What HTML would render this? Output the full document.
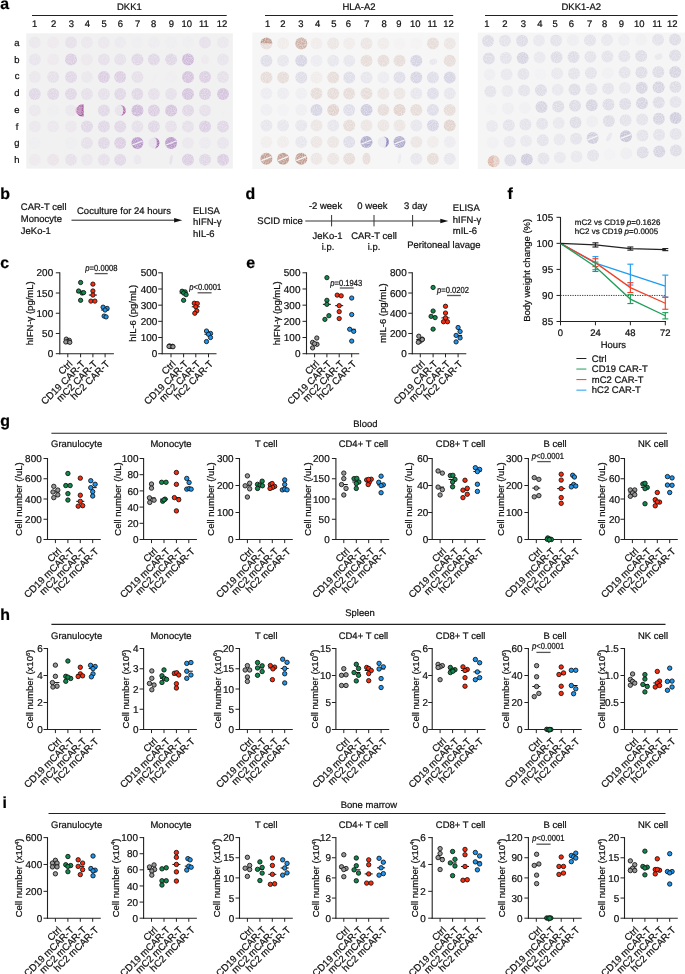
<!DOCTYPE html>
<html><head><meta charset="utf-8"><style>
html,body{margin:0;padding:0;background:#fff;}
body{width:685px;height:974px;overflow:hidden;}
svg{display:block;font-family:"Liberation Sans",sans-serif;will-change:transform;}
text{stroke:#111;stroke-width:0.22px;}
</style></head><body>
<svg width="685" height="974" viewBox="0 0 685 974">
<defs><filter id="tex" x="0" y="0" width="100%" height="100%"><feTurbulence type="fractalNoise" baseFrequency="0.9" numOctaves="2" seed="3" result="n"/><feColorMatrix in="n" type="matrix" values="0 0 0 0 0  0 0 0 0 0  0 0 0 0 0  0 0 0 -1.2 1.4" result="a"/><feComposite in="SourceGraphic" in2="a" operator="in"/></filter></defs>
<rect width="685" height="974" fill="#fff"/>
<text transform="translate(0.30,8.80) skewX(0.5)" font-size="16" text-anchor="start" font-weight="bold" fill="#000" >a</text>
<text transform="translate(129.40,10.20) skewX(0.5)" font-size="9.5" text-anchor="middle" fill="#111" >DKK1</text>
<line x1="32.00" y1="15.50" x2="226.70" y2="15.50" stroke="#222" stroke-width="1.0" />
<text transform="translate(34.70,27.40) skewX(0.5)" font-size="9.5" text-anchor="middle" fill="#111" >1</text>
<text transform="translate(53.60,27.40) skewX(0.5)" font-size="9.5" text-anchor="middle" fill="#111" >2</text>
<text transform="translate(71.50,27.40) skewX(0.5)" font-size="9.5" text-anchor="middle" fill="#111" >3</text>
<text transform="translate(87.30,27.40) skewX(0.5)" font-size="9.5" text-anchor="middle" fill="#111" >4</text>
<text transform="translate(104.20,27.40) skewX(0.5)" font-size="9.5" text-anchor="middle" fill="#111" >5</text>
<text transform="translate(120.30,27.40) skewX(0.5)" font-size="9.5" text-anchor="middle" fill="#111" >6</text>
<text transform="translate(137.70,27.40) skewX(0.5)" font-size="9.5" text-anchor="middle" fill="#111" >7</text>
<text transform="translate(153.60,27.40) skewX(0.5)" font-size="9.5" text-anchor="middle" fill="#111" >8</text>
<text transform="translate(171.50,27.40) skewX(0.5)" font-size="9.5" text-anchor="middle" fill="#111" >9</text>
<text transform="translate(186.80,27.40) skewX(0.5)" font-size="9.5" text-anchor="middle" fill="#111" >10</text>
<text transform="translate(203.90,27.40) skewX(0.5)" font-size="9.5" text-anchor="middle" fill="#111" >11</text>
<text transform="translate(222.10,27.40) skewX(0.5)" font-size="9.5" text-anchor="middle" fill="#111" >12</text>
<rect x="26.3" y="33.3" width="206.5" height="135.3" fill="#f1f1f2"/>
<g filter="url(#tex)">
<circle cx="34.8" cy="42.4" r="6.0" fill="#a070b8" fill-opacity="0.08"/>
<circle cx="53.2" cy="42.4" r="6.0" fill="#c890b0" fill-opacity="0.08"/>
<circle cx="71.0" cy="42.4" r="6.0" fill="#a070b8" fill-opacity="0.14"/>
<circle cx="86.9" cy="42.4" r="6.0" fill="#a070b8" fill-opacity="0.08"/>
<circle cx="103.9" cy="42.4" r="6.0" fill="#a070b8" fill-opacity="0.08"/>
<circle cx="120.2" cy="42.4" r="6.0" fill="#a070b8" fill-opacity="0.06"/>
<circle cx="137.4" cy="42.4" r="6.0" fill="#a070b8" fill-opacity="0.02"/>
<circle cx="153.9" cy="42.4" r="6.0" fill="#a070b8" fill-opacity="0.04"/>
<circle cx="171.1" cy="42.4" r="6.0" fill="#a070b8" fill-opacity="0.03"/>
<circle cx="188.0" cy="42.4" r="6.0" fill="#a070b8" fill-opacity="0.03"/>
<circle cx="205.0" cy="42.4" r="6.0" fill="#a070b8" fill-opacity="0.14"/>
<circle cx="223.0" cy="42.4" r="6.0" fill="#a070b8" fill-opacity="0.08"/>
<circle cx="34.8" cy="59.6" r="6.0" fill="#a070b8" fill-opacity="0.10"/>
<circle cx="53.2" cy="59.6" r="6.0" fill="#c890b0" fill-opacity="0.08"/>
<circle cx="71.0" cy="59.6" r="6.0" fill="#a070b8" fill-opacity="0.28"/>
<circle cx="86.9" cy="59.6" r="6.0" fill="#c890b0" fill-opacity="0.10"/>
<circle cx="103.9" cy="59.6" r="6.0" fill="#a070b8" fill-opacity="0.14"/>
<circle cx="120.2" cy="59.6" r="6.0" fill="#a070b8" fill-opacity="0.14"/>
<circle cx="137.4" cy="59.6" r="6.0" fill="#a070b8" fill-opacity="0.21"/>
<circle cx="153.9" cy="59.6" r="6.0" fill="#a070b8" fill-opacity="0.21"/>
<circle cx="171.1" cy="59.6" r="6.0" fill="#a070b8" fill-opacity="0.21"/>
<circle cx="188.0" cy="59.6" r="6.0" fill="#a070b8" fill-opacity="0.44"/>
<ellipse cx="205.0" cy="59.6" rx="4" ry="5" fill="#c890b0" fill-opacity="0.08" transform="rotate(0 205.0 59.6)"/>
<circle cx="223.0" cy="59.6" r="6.0" fill="#a070b8" fill-opacity="0.10"/>
<circle cx="34.8" cy="77.0" r="6.0" fill="#a070b8" fill-opacity="0.08"/>
<circle cx="53.2" cy="77.0" r="6.0" fill="#a070b8" fill-opacity="0.14"/>
<circle cx="71.0" cy="77.0" r="6.0" fill="#a070b8" fill-opacity="0.21"/>
<circle cx="86.9" cy="77.0" r="6.0" fill="#a070b8" fill-opacity="0.08"/>
<circle cx="103.9" cy="77.0" r="6.0" fill="#a070b8" fill-opacity="0.28"/>
<circle cx="120.2" cy="77.0" r="6.0" fill="#a070b8" fill-opacity="0.28"/>
<circle cx="137.4" cy="77.0" r="6.0" fill="#a070b8" fill-opacity="0.14"/>
<ellipse cx="154.9" cy="78.0" rx="1" ry="4" fill="#a070b8" fill-opacity="0.02" transform="rotate(30 153.9 77.0)"/>
<circle cx="171.1" cy="77.0" r="6.0" fill="#a070b8" fill-opacity="0.01"/>
<circle cx="188.0" cy="77.0" r="6.0" fill="#a070b8" fill-opacity="0.36"/>
<circle cx="205.0" cy="77.0" r="6.0" fill="#a070b8" fill-opacity="0.28"/>
<circle cx="223.0" cy="77.0" r="6.0" fill="#a070b8" fill-opacity="0.14"/>
<circle cx="34.8" cy="94.0" r="6.0" fill="#a070b8" fill-opacity="0.21"/>
<circle cx="53.2" cy="94.0" r="6.0" fill="#a070b8" fill-opacity="0.21"/>
<circle cx="71.0" cy="94.0" r="6.0" fill="#a070b8" fill-opacity="0.21"/>
<circle cx="86.9" cy="94.0" r="6.0" fill="#a070b8" fill-opacity="0.14"/>
<circle cx="103.9" cy="94.0" r="6.0" fill="#a070b8" fill-opacity="0.14"/>
<circle cx="120.2" cy="94.0" r="6.0" fill="#a070b8" fill-opacity="0.21"/>
<circle cx="137.4" cy="94.0" r="6.0" fill="#a070b8" fill-opacity="0.21"/>
<circle cx="153.9" cy="94.0" r="6.0" fill="#a070b8" fill-opacity="0.14"/>
<circle cx="171.1" cy="94.0" r="6.0" fill="#a070b8" fill-opacity="0.14"/>
<circle cx="188.0" cy="94.0" r="6.0" fill="#a070b8" fill-opacity="0.36"/>
<circle cx="205.0" cy="94.0" r="6.0" fill="#a070b8" fill-opacity="0.28"/>
<circle cx="223.0" cy="94.0" r="6.0" fill="#a070b8" fill-opacity="0.36"/>
<circle cx="34.8" cy="110.4" r="6.0" fill="#a070b8" fill-opacity="0.08"/>
<circle cx="53.2" cy="110.4" r="6.0" fill="#a070b8" fill-opacity="0.03"/>
<circle cx="71.0" cy="110.4" r="6.0" fill="#a070b8" fill-opacity="0.08"/>
<path d="M83.7,104.6 A6,6 0 1 0 83.7,116.2 Z" fill="#9a4a90" fill-opacity="0.9"/>
<path d="M81.7,106.2 A4.6,4.6 0 1 0 81.7,114.6 Z" fill="#d8a8d0" fill-opacity="0.45"/>
<circle cx="103.9" cy="110.4" r="6.0" fill="#a070b8" fill-opacity="0.21"/>
<circle cx="120.2" cy="110.4" r="5.6" fill="#a070b8" fill-opacity="0.12"/>
<path d="M120.2,104.8 A5.6,5.6 0 0 1 120.2,116.0 A3,5.6 0 0 0 120.2,104.8 Z" fill="#a65aa0" fill-opacity="0.85"/>
<circle cx="137.4" cy="110.4" r="6.0" fill="#a070b8" fill-opacity="0.44"/>
<circle cx="153.9" cy="110.4" r="6.0" fill="#a070b8" fill-opacity="0.28"/>
<circle cx="171.1" cy="110.4" r="6.0" fill="#a070b8" fill-opacity="0.36"/>
<circle cx="188.0" cy="110.4" r="6.0" fill="#a070b8" fill-opacity="0.21"/>
<circle cx="205.0" cy="110.4" r="6.0" fill="#a070b8" fill-opacity="0.14"/>
<ellipse cx="225.0" cy="112.4" rx="1" ry="3" fill="#a070b8" fill-opacity="0.02" transform="rotate(40 223.0 110.4)"/>
<circle cx="34.8" cy="126.4" r="6.0" fill="#a070b8" fill-opacity="0.08"/>
<circle cx="53.2" cy="126.4" r="6.0" fill="#a070b8" fill-opacity="0.08"/>
<circle cx="71.0" cy="126.4" r="6.0" fill="#a070b8" fill-opacity="0.08"/>
<circle cx="86.9" cy="126.4" r="6.0" fill="#a070b8" fill-opacity="0.21"/>
<circle cx="103.9" cy="126.4" r="6.0" fill="#a070b8" fill-opacity="0.21"/>
<circle cx="120.2" cy="126.4" r="6.0" fill="#a070b8" fill-opacity="0.21"/>
<circle cx="137.4" cy="126.4" r="6.0" fill="#a070b8" fill-opacity="0.14"/>
<circle cx="153.9" cy="126.4" r="6.0" fill="#a070b8" fill-opacity="0.21"/>
<circle cx="171.1" cy="126.4" r="6.0" fill="#a070b8" fill-opacity="0.14"/>
<circle cx="188.0" cy="126.4" r="6.0" fill="#a070b8" fill-opacity="0.14"/>
<circle cx="205.0" cy="126.4" r="6.0" fill="#a070b8" fill-opacity="0.28"/>
<circle cx="223.0" cy="126.4" r="6.0" fill="#a070b8" fill-opacity="0.21"/>
<circle cx="34.8" cy="143.0" r="6.0" fill="#a070b8" fill-opacity="0.03"/>
<circle cx="71.0" cy="143.0" r="6.0" fill="#a070b8" fill-opacity="0.03"/>
<circle cx="86.9" cy="143.0" r="6.0" fill="#a070b8" fill-opacity="0.14"/>
<circle cx="103.9" cy="143.0" r="6.0" fill="#a070b8" fill-opacity="0.21"/>
<circle cx="120.2" cy="143.0" r="6.0" fill="#a070b8" fill-opacity="0.28"/>
<circle cx="137.4" cy="143.0" r="6.0" fill="#a070b8" fill-opacity="0.72"/>
<line x1="132.4" y1="145.0" x2="142.4" y2="141.0" stroke="#f1f1f2" stroke-width="1.3"/>
<circle cx="153.9" cy="143.0" r="5.6" fill="#a070b8" fill-opacity="0.12"/>
<path d="M153.9,137.4 A5.6,5.6 0 0 1 153.9,148.6 A3,5.6 0 0 0 153.9,137.4 Z" fill="#9a50a8" fill-opacity="0.85"/>
<circle cx="171.1" cy="143.0" r="6.0" fill="#a070b8" fill-opacity="0.72"/>
<line x1="166.1" y1="145.0" x2="176.1" y2="141.0" stroke="#f1f1f2" stroke-width="1.3"/>
<circle cx="188.0" cy="143.0" r="6.0" fill="#a070b8" fill-opacity="0.08"/>
<circle cx="205.0" cy="143.0" r="6.0" fill="#a070b8" fill-opacity="0.06"/>
<circle cx="223.0" cy="143.0" r="6.0" fill="#a070b8" fill-opacity="0.10"/>
<circle cx="34.8" cy="159.8" r="6.0" fill="#c890b0" fill-opacity="0.08"/>
<circle cx="53.2" cy="159.8" r="6.0" fill="#c890b0" fill-opacity="0.14"/>
<circle cx="71.0" cy="159.8" r="6.0" fill="#a070b8" fill-opacity="0.14"/>
<circle cx="86.9" cy="159.8" r="6.0" fill="#a070b8" fill-opacity="0.08"/>
<circle cx="103.9" cy="159.8" r="6.0" fill="#a070b8" fill-opacity="0.14"/>
<circle cx="120.2" cy="159.8" r="6.0" fill="#a070b8" fill-opacity="0.21"/>
<ellipse cx="137.4" cy="159.8" rx="4" ry="5" fill="#a070b8" fill-opacity="0.08" transform="rotate(0 137.4 159.8)"/>
<ellipse cx="171.1" cy="159.8" rx="1.5" ry="5" fill="#a070b8" fill-opacity="0.14" transform="rotate(10 171.1 159.8)"/>
<circle cx="188.0" cy="159.8" r="6.0" fill="#a070b8" fill-opacity="0.28"/>
<circle cx="205.0" cy="159.8" r="6.0" fill="#a070b8" fill-opacity="0.21"/>
<circle cx="223.0" cy="159.8" r="6.0" fill="#a070b8" fill-opacity="0.28"/>
</g>
<text transform="translate(17.00,46.00) skewX(0.5)" font-size="9.5" text-anchor="middle" fill="#111" >a</text>
<text transform="translate(17.00,62.70) skewX(0.5)" font-size="9.5" text-anchor="middle" fill="#111" >b</text>
<text transform="translate(17.00,79.40) skewX(0.5)" font-size="9.5" text-anchor="middle" fill="#111" >c</text>
<text transform="translate(17.00,96.10) skewX(0.5)" font-size="9.5" text-anchor="middle" fill="#111" >d</text>
<text transform="translate(17.00,112.80) skewX(0.5)" font-size="9.5" text-anchor="middle" fill="#111" >e</text>
<text transform="translate(17.00,129.50) skewX(0.5)" font-size="9.5" text-anchor="middle" fill="#111" >f</text>
<text transform="translate(17.00,146.20) skewX(0.5)" font-size="9.5" text-anchor="middle" fill="#111" >g</text>
<text transform="translate(17.00,162.90) skewX(0.5)" font-size="9.5" text-anchor="middle" fill="#111" >h</text>
<text transform="translate(359.00,10.20) skewX(0.5)" font-size="9.5" text-anchor="middle" fill="#111" >HLA-A2</text>
<line x1="265.00" y1="15.50" x2="453.20" y2="15.50" stroke="#222" stroke-width="1.0" />
<text transform="translate(267.70,27.40) skewX(0.5)" font-size="9.5" text-anchor="middle" fill="#111" >1</text>
<text transform="translate(283.00,27.40) skewX(0.5)" font-size="9.5" text-anchor="middle" fill="#111" >2</text>
<text transform="translate(300.90,27.40) skewX(0.5)" font-size="9.5" text-anchor="middle" fill="#111" >3</text>
<text transform="translate(317.60,27.40) skewX(0.5)" font-size="9.5" text-anchor="middle" fill="#111" >4</text>
<text transform="translate(333.90,27.40) skewX(0.5)" font-size="9.5" text-anchor="middle" fill="#111" >5</text>
<text transform="translate(348.50,27.40) skewX(0.5)" font-size="9.5" text-anchor="middle" fill="#111" >6</text>
<text transform="translate(366.90,27.40) skewX(0.5)" font-size="9.5" text-anchor="middle" fill="#111" >7</text>
<text transform="translate(384.10,27.40) skewX(0.5)" font-size="9.5" text-anchor="middle" fill="#111" >8</text>
<text transform="translate(398.90,27.40) skewX(0.5)" font-size="9.5" text-anchor="middle" fill="#111" >9</text>
<text transform="translate(415.30,27.40) skewX(0.5)" font-size="9.5" text-anchor="middle" fill="#111" >10</text>
<text transform="translate(432.40,27.40) skewX(0.5)" font-size="9.5" text-anchor="middle" fill="#111" >11</text>
<text transform="translate(448.50,27.40) skewX(0.5)" font-size="9.5" text-anchor="middle" fill="#111" >12</text>
<rect x="252.4" y="32.6" width="206.6" height="136.4" fill="#f6f6f6"/>
<g filter="url(#tex)">
<path d="M260.4,43.6 A6.0,6.0 0 0 1 272.4,43.6 Z" fill="#b08070" fill-opacity="0.78"/>
<path d="M260.4,43.6 A6.0,6.0 0 0 0 272.4,43.6 Z" fill="#b08070" fill-opacity="0.23"/>
<circle cx="283.1" cy="43.6" r="6.0" fill="#b08070" fill-opacity="0.09"/>
<circle cx="301.3" cy="43.6" r="6.0" fill="#b08070" fill-opacity="0.58"/>
<circle cx="316.5" cy="43.6" r="6.0" fill="#b08070" fill-opacity="0.09"/>
<circle cx="333.2" cy="43.6" r="6.0" fill="#b08070" fill-opacity="0.15"/>
<circle cx="349.2" cy="43.6" r="6.0" fill="#b08070" fill-opacity="0.09"/>
<circle cx="366.5" cy="43.6" r="6.0" fill="#b08070" fill-opacity="0.15"/>
<circle cx="383.4" cy="43.6" r="6.0" fill="#b08070" fill-opacity="0.09"/>
<circle cx="399.5" cy="43.6" r="6.0" fill="#b08070" fill-opacity="0.03"/>
<circle cx="416.3" cy="43.6" r="6.0" fill="#b08070" fill-opacity="0.03"/>
<circle cx="432.9" cy="43.6" r="6.0" fill="#b08070" fill-opacity="0.23"/>
<circle cx="449.7" cy="43.6" r="6.0" fill="#b08070" fill-opacity="0.15"/>
<circle cx="266.4" cy="60.8" r="6.0" fill="#8a84b8" fill-opacity="0.23"/>
<circle cx="283.1" cy="60.8" r="6.0" fill="#8a84b8" fill-opacity="0.15"/>
<circle cx="301.3" cy="60.8" r="6.0" fill="#8a84b8" fill-opacity="0.31"/>
<circle cx="316.5" cy="60.8" r="6.0" fill="#8a84b8" fill-opacity="0.09"/>
<circle cx="333.2" cy="60.8" r="6.0" fill="#8a84b8" fill-opacity="0.15"/>
<circle cx="349.2" cy="60.8" r="6.0" fill="#8a84b8" fill-opacity="0.15"/>
<circle cx="366.5" cy="60.8" r="6.0" fill="#b08070" fill-opacity="0.23"/>
<circle cx="383.4" cy="60.8" r="6.0" fill="#b08070" fill-opacity="0.23"/>
<circle cx="399.5" cy="60.8" r="6.0" fill="#b08070" fill-opacity="0.23"/>
<circle cx="416.3" cy="60.8" r="6.0" fill="#8a84b8" fill-opacity="0.31"/>
<ellipse cx="432.9" cy="61.8" rx="4" ry="3" fill="#8a84b8" fill-opacity="0.15" transform="rotate(-20 432.9 60.8)"/>
<circle cx="449.7" cy="60.8" r="6.0" fill="#b08070" fill-opacity="0.23"/>
<circle cx="266.4" cy="77.5" r="6.0" fill="#b08070" fill-opacity="0.23"/>
<circle cx="283.1" cy="77.5" r="6.0" fill="#b08070" fill-opacity="0.23"/>
<circle cx="301.3" cy="77.5" r="6.0" fill="#8a84b8" fill-opacity="0.23"/>
<circle cx="316.5" cy="77.5" r="6.0" fill="#b08070" fill-opacity="0.09"/>
<circle cx="333.2" cy="77.5" r="6.0" fill="#b08070" fill-opacity="0.23"/>
<circle cx="349.2" cy="77.5" r="6.0" fill="#8a84b8" fill-opacity="0.23"/>
<circle cx="366.5" cy="77.5" r="6.0" fill="#8a84b8" fill-opacity="0.15"/>
<circle cx="383.4" cy="77.5" r="6.0" fill="#8a84b8" fill-opacity="0.09"/>
<circle cx="399.5" cy="77.5" r="6.0" fill="#8a84b8" fill-opacity="0.23"/>
<circle cx="416.3" cy="77.5" r="6.0" fill="#8a84b8" fill-opacity="0.31"/>
<circle cx="432.9" cy="77.5" r="6.0" fill="#8a84b8" fill-opacity="0.23"/>
<circle cx="449.7" cy="77.5" r="6.0" fill="#8a84b8" fill-opacity="0.31"/>
<circle cx="266.4" cy="93.4" r="6.0" fill="#8a84b8" fill-opacity="0.09"/>
<circle cx="283.1" cy="93.4" r="6.0" fill="#8a84b8" fill-opacity="0.09"/>
<circle cx="301.3" cy="93.4" r="6.0" fill="#8a84b8" fill-opacity="0.07"/>
<circle cx="316.5" cy="93.4" r="6.0" fill="#b08070" fill-opacity="0.23"/>
<circle cx="333.2" cy="93.4" r="6.0" fill="#b08070" fill-opacity="0.23"/>
<circle cx="349.2" cy="93.4" r="6.0" fill="#b08070" fill-opacity="0.23"/>
<circle cx="366.5" cy="93.4" r="6.0" fill="#b08070" fill-opacity="0.23"/>
<circle cx="383.4" cy="93.4" r="6.0" fill="#b08070" fill-opacity="0.15"/>
<circle cx="399.5" cy="93.4" r="6.0" fill="#b08070" fill-opacity="0.15"/>
<circle cx="416.3" cy="93.4" r="6.0" fill="#8a84b8" fill-opacity="0.15"/>
<circle cx="432.9" cy="93.4" r="6.0" fill="#8a84b8" fill-opacity="0.23"/>
<circle cx="449.7" cy="93.4" r="6.0" fill="#8a84b8" fill-opacity="0.15"/>
<circle cx="266.4" cy="110.1" r="6.0" fill="#8a84b8" fill-opacity="0.07"/>
<circle cx="283.1" cy="110.1" r="6.0" fill="#8a84b8" fill-opacity="0.03"/>
<circle cx="301.3" cy="110.1" r="6.0" fill="#8a84b8" fill-opacity="0.07"/>
<circle cx="316.5" cy="110.1" r="6.0" fill="#8a84b8" fill-opacity="0.31"/>
<circle cx="333.2" cy="110.1" r="6.0" fill="#b08070" fill-opacity="0.31"/>
<circle cx="349.2" cy="110.1" r="6.0" fill="#8a84b8" fill-opacity="0.23"/>
<circle cx="366.5" cy="110.1" r="6.0" fill="#8a84b8" fill-opacity="0.39"/>
<circle cx="383.4" cy="110.1" r="6.0" fill="#b08070" fill-opacity="0.23"/>
<circle cx="399.5" cy="110.1" r="6.0" fill="#b08070" fill-opacity="0.31"/>
<circle cx="416.3" cy="110.1" r="6.0" fill="#b08070" fill-opacity="0.23"/>
<circle cx="432.9" cy="110.1" r="6.0" fill="#8a84b8" fill-opacity="0.23"/>
<circle cx="449.7" cy="110.1" r="6.0" fill="#b08070" fill-opacity="0.23"/>
<circle cx="266.4" cy="125.6" r="6.0" fill="#8a84b8" fill-opacity="0.15"/>
<circle cx="283.1" cy="125.6" r="6.0" fill="#8a84b8" fill-opacity="0.15"/>
<circle cx="301.3" cy="125.6" r="6.0" fill="#8a84b8" fill-opacity="0.15"/>
<circle cx="316.5" cy="125.6" r="6.0" fill="#b08070" fill-opacity="0.15"/>
<circle cx="333.2" cy="125.6" r="6.0" fill="#8a84b8" fill-opacity="0.15"/>
<circle cx="349.2" cy="125.6" r="6.0" fill="#b08070" fill-opacity="0.23"/>
<circle cx="366.5" cy="125.6" r="6.0" fill="#b08070" fill-opacity="0.15"/>
<circle cx="383.4" cy="125.6" r="6.0" fill="#b08070" fill-opacity="0.15"/>
<circle cx="399.5" cy="125.6" r="6.0" fill="#b08070" fill-opacity="0.15"/>
<circle cx="416.3" cy="125.6" r="6.0" fill="#8a84b8" fill-opacity="0.15"/>
<circle cx="432.9" cy="125.6" r="6.0" fill="#8a84b8" fill-opacity="0.31"/>
<circle cx="449.7" cy="125.6" r="6.0" fill="#b08070" fill-opacity="0.31"/>
<circle cx="266.4" cy="142.0" r="6.0" fill="#b08070" fill-opacity="0.07"/>
<circle cx="283.1" cy="142.0" r="6.0" fill="#b08070" fill-opacity="0.09"/>
<circle cx="301.3" cy="142.0" r="6.0" fill="#8a84b8" fill-opacity="0.15"/>
<circle cx="316.5" cy="142.0" r="6.0" fill="#b08070" fill-opacity="0.15"/>
<circle cx="333.2" cy="142.0" r="6.0" fill="#b08070" fill-opacity="0.15"/>
<circle cx="349.2" cy="142.0" r="6.0" fill="#8a84b8" fill-opacity="0.23"/>
<circle cx="366.5" cy="142.0" r="6.0" fill="#8a84b8" fill-opacity="0.68"/>
<line x1="361.5" y1="144.0" x2="371.5" y2="140.0" stroke="#f6f6f6" stroke-width="1.3"/>
<circle cx="383.4" cy="142.0" r="5.6" fill="#8a84b8" fill-opacity="0.12"/>
<path d="M383.4,136.4 A5.6,5.6 0 0 1 383.4,147.6 A3,5.6 0 0 0 383.4,136.4 Z" fill="#7c70b8" fill-opacity="0.85"/>
<circle cx="399.5" cy="142.0" r="6.0" fill="#8a84b8" fill-opacity="0.68"/>
<line x1="394.5" y1="144.0" x2="404.5" y2="140.0" stroke="#f6f6f6" stroke-width="1.3"/>
<circle cx="416.3" cy="142.0" r="6.0" fill="#b08070" fill-opacity="0.15"/>
<circle cx="432.9" cy="142.0" r="6.0" fill="#b08070" fill-opacity="0.09"/>
<circle cx="449.7" cy="142.0" r="6.0" fill="#8a84b8" fill-opacity="0.09"/>
<circle cx="266.4" cy="158.7" r="6.0" fill="#b08070" fill-opacity="0.78"/>
<line x1="261.4" y1="160.7" x2="271.4" y2="156.7" stroke="#f6f6f6" stroke-width="1.3"/>
<circle cx="283.1" cy="158.7" r="6.0" fill="#b08070" fill-opacity="0.78"/>
<line x1="278.1" y1="160.7" x2="288.1" y2="156.7" stroke="#f6f6f6" stroke-width="1.3"/>
<circle cx="301.3" cy="158.7" r="6.0" fill="#b08070" fill-opacity="0.78"/>
<line x1="296.3" y1="160.7" x2="306.3" y2="156.7" stroke="#f6f6f6" stroke-width="1.3"/>
<circle cx="316.5" cy="158.7" r="6.0" fill="#b08070" fill-opacity="0.15"/>
<circle cx="333.2" cy="158.7" r="6.0" fill="#b08070" fill-opacity="0.15"/>
<circle cx="349.2" cy="158.7" r="6.0" fill="#b08070" fill-opacity="0.23"/>
<ellipse cx="366.5" cy="158.7" rx="4" ry="6" fill="#b08070" fill-opacity="0.23" transform="rotate(0 366.5 158.7)"/>
<ellipse cx="399.5" cy="158.7" rx="1.5" ry="5" fill="#8a84b8" fill-opacity="0.09" transform="rotate(10 399.5 158.7)"/>
<circle cx="416.3" cy="158.7" r="6.0" fill="#8a84b8" fill-opacity="0.15"/>
<circle cx="432.9" cy="158.7" r="6.0" fill="#b08070" fill-opacity="0.23"/>
<circle cx="449.7" cy="158.7" r="6.0" fill="#8a84b8" fill-opacity="0.15"/>
</g>
<text transform="translate(581.30,10.20) skewX(0.5)" font-size="9.5" text-anchor="middle" fill="#111" >DKK1-A2</text>
<line x1="485.00" y1="15.50" x2="677.60" y2="15.50" stroke="#222" stroke-width="1.0" />
<text transform="translate(486.90,27.40) skewX(0.5)" font-size="9.5" text-anchor="middle" fill="#111" >1</text>
<text transform="translate(504.80,27.40) skewX(0.5)" font-size="9.5" text-anchor="middle" fill="#111" >2</text>
<text transform="translate(523.40,27.40) skewX(0.5)" font-size="9.5" text-anchor="middle" fill="#111" >3</text>
<text transform="translate(539.80,27.40) skewX(0.5)" font-size="9.5" text-anchor="middle" fill="#111" >4</text>
<text transform="translate(555.10,27.40) skewX(0.5)" font-size="9.5" text-anchor="middle" fill="#111" >5</text>
<text transform="translate(571.50,27.40) skewX(0.5)" font-size="9.5" text-anchor="middle" fill="#111" >6</text>
<text transform="translate(589.70,27.40) skewX(0.5)" font-size="9.5" text-anchor="middle" fill="#111" >7</text>
<text transform="translate(604.60,27.40) skewX(0.5)" font-size="9.5" text-anchor="middle" fill="#111" >8</text>
<text transform="translate(621.40,27.40) skewX(0.5)" font-size="9.5" text-anchor="middle" fill="#111" >9</text>
<text transform="translate(639.30,27.40) skewX(0.5)" font-size="9.5" text-anchor="middle" fill="#111" >10</text>
<text transform="translate(657.10,27.40) skewX(0.5)" font-size="9.5" text-anchor="middle" fill="#111" >11</text>
<text transform="translate(672.30,27.40) skewX(0.5)" font-size="9.5" text-anchor="middle" fill="#111" >12</text>
<rect x="477.8" y="32.6" width="207.2" height="136.4" fill="#f5f5f6"/>
<g filter="url(#tex)">
<circle cx="488.0" cy="40.9" r="6.0" fill="#948eb4" fill-opacity="0.25"/>
<circle cx="505.0" cy="40.8" r="6.0" fill="#948eb4" fill-opacity="0.19"/>
<circle cx="522.0" cy="40.7" r="6.0" fill="#948eb4" fill-opacity="0.25"/>
<circle cx="539.0" cy="40.5" r="6.0" fill="#948eb4" fill-opacity="0.13"/>
<circle cx="556.0" cy="40.4" r="6.0" fill="#948eb4" fill-opacity="0.19"/>
<circle cx="573.0" cy="40.3" r="6.0" fill="#948eb4" fill-opacity="0.07"/>
<circle cx="590.0" cy="40.2" r="6.0" fill="#948eb4" fill-opacity="0.19"/>
<circle cx="607.0" cy="40.1" r="6.0" fill="#948eb4" fill-opacity="0.13"/>
<circle cx="624.0" cy="40.0" r="6.0" fill="#948eb4" fill-opacity="0.07"/>
<circle cx="641.0" cy="39.8" r="6.0" fill="#948eb4" fill-opacity="0.05"/>
<circle cx="658.0" cy="39.7" r="6.0" fill="#948eb4" fill-opacity="0.19"/>
<circle cx="675.0" cy="39.6" r="6.0" fill="#948eb4" fill-opacity="0.25"/>
<circle cx="488.8" cy="58.4" r="6.0" fill="#948eb4" fill-opacity="0.25"/>
<circle cx="505.8" cy="58.1" r="6.0" fill="#948eb4" fill-opacity="0.19"/>
<circle cx="522.7" cy="57.9" r="6.0" fill="#948eb4" fill-opacity="0.33"/>
<circle cx="539.6" cy="57.6" r="6.0" fill="#948eb4" fill-opacity="0.13"/>
<circle cx="556.6" cy="57.3" r="6.0" fill="#948eb4" fill-opacity="0.25"/>
<circle cx="573.5" cy="57.0" r="6.0" fill="#948eb4" fill-opacity="0.25"/>
<circle cx="590.4" cy="56.8" r="6.0" fill="#948eb4" fill-opacity="0.19"/>
<circle cx="607.4" cy="56.5" r="6.0" fill="#948eb4" fill-opacity="0.19"/>
<circle cx="624.3" cy="56.2" r="6.0" fill="#948eb4" fill-opacity="0.19"/>
<circle cx="641.2" cy="55.9" r="6.0" fill="#948eb4" fill-opacity="0.25"/>
<ellipse cx="658.2" cy="56.7" rx="4" ry="3" fill="#948eb4" fill-opacity="0.13" transform="rotate(-20 658.2 55.7)"/>
<circle cx="675.1" cy="55.4" r="6.0" fill="#948eb4" fill-opacity="0.25"/>
<circle cx="489.6" cy="74.6" r="6.0" fill="#948eb4" fill-opacity="0.07"/>
<circle cx="506.5" cy="74.4" r="6.0" fill="#948eb4" fill-opacity="0.13"/>
<circle cx="523.4" cy="74.1" r="6.0" fill="#948eb4" fill-opacity="0.19"/>
<circle cx="540.3" cy="73.9" r="6.0" fill="#948eb4" fill-opacity="0.03"/>
<circle cx="557.1" cy="73.6" r="6.0" fill="#948eb4" fill-opacity="0.13"/>
<circle cx="574.0" cy="73.4" r="6.0" fill="#948eb4" fill-opacity="0.19"/>
<circle cx="590.9" cy="73.1" r="6.0" fill="#948eb4" fill-opacity="0.19"/>
<circle cx="607.7" cy="72.9" r="6.0" fill="#948eb4" fill-opacity="0.05"/>
<circle cx="624.6" cy="72.6" r="6.0" fill="#948eb4" fill-opacity="0.19"/>
<circle cx="641.5" cy="72.4" r="6.0" fill="#948eb4" fill-opacity="0.25"/>
<circle cx="658.4" cy="72.1" r="6.0" fill="#948eb4" fill-opacity="0.25"/>
<circle cx="675.2" cy="71.9" r="6.0" fill="#948eb4" fill-opacity="0.33"/>
<circle cx="490.4" cy="91.4" r="6.0" fill="#948eb4" fill-opacity="0.19"/>
<circle cx="507.3" cy="91.0" r="6.0" fill="#948eb4" fill-opacity="0.13"/>
<circle cx="524.1" cy="90.6" r="6.0" fill="#948eb4" fill-opacity="0.19"/>
<circle cx="540.9" cy="90.2" r="6.0" fill="#948eb4" fill-opacity="0.25"/>
<circle cx="557.7" cy="89.8" r="6.0" fill="#948eb4" fill-opacity="0.13"/>
<circle cx="574.5" cy="89.4" r="6.0" fill="#948eb4" fill-opacity="0.25"/>
<circle cx="591.3" cy="88.9" r="6.0" fill="#948eb4" fill-opacity="0.19"/>
<circle cx="608.1" cy="88.5" r="6.0" fill="#948eb4" fill-opacity="0.19"/>
<circle cx="624.9" cy="88.1" r="6.0" fill="#948eb4" fill-opacity="0.13"/>
<circle cx="641.7" cy="87.7" r="6.0" fill="#948eb4" fill-opacity="0.33"/>
<circle cx="658.6" cy="87.3" r="6.0" fill="#948eb4" fill-opacity="0.33"/>
<circle cx="675.4" cy="86.9" r="6.0" fill="#948eb4" fill-opacity="0.25"/>
<circle cx="491.3" cy="109.0" r="6.0" fill="#948eb4" fill-opacity="0.03"/>
<circle cx="508.0" cy="108.4" r="6.0" fill="#948eb4" fill-opacity="0.07"/>
<circle cx="524.8" cy="107.7" r="6.0" fill="#948eb4" fill-opacity="0.05"/>
<circle cx="541.5" cy="107.1" r="6.0" fill="#948eb4" fill-opacity="0.33"/>
<circle cx="558.3" cy="106.5" r="6.0" fill="#948eb4" fill-opacity="0.25"/>
<circle cx="575.0" cy="105.8" r="6.0" fill="#948eb4" fill-opacity="0.25"/>
<circle cx="591.7" cy="105.2" r="6.0" fill="#948eb4" fill-opacity="0.33"/>
<circle cx="608.5" cy="104.5" r="6.0" fill="#948eb4" fill-opacity="0.25"/>
<circle cx="625.2" cy="103.9" r="6.0" fill="#948eb4" fill-opacity="0.25"/>
<circle cx="642.0" cy="103.3" r="6.0" fill="#948eb4" fill-opacity="0.33"/>
<circle cx="658.7" cy="102.6" r="6.0" fill="#948eb4" fill-opacity="0.25"/>
<circle cx="675.5" cy="102.0" r="6.0" fill="#948eb4" fill-opacity="0.19"/>
<circle cx="492.1" cy="126.0" r="6.0" fill="#948eb4" fill-opacity="0.13"/>
<circle cx="508.8" cy="125.3" r="6.0" fill="#948eb4" fill-opacity="0.19"/>
<circle cx="525.4" cy="124.5" r="6.0" fill="#948eb4" fill-opacity="0.19"/>
<circle cx="542.1" cy="123.8" r="6.0" fill="#948eb4" fill-opacity="0.19"/>
<circle cx="558.8" cy="123.1" r="6.0" fill="#948eb4" fill-opacity="0.13"/>
<circle cx="575.5" cy="122.4" r="6.0" fill="#948eb4" fill-opacity="0.25"/>
<circle cx="592.2" cy="121.6" r="6.0" fill="#948eb4" fill-opacity="0.07"/>
<circle cx="608.9" cy="120.9" r="6.0" fill="#948eb4" fill-opacity="0.25"/>
<circle cx="625.6" cy="120.2" r="6.0" fill="#948eb4" fill-opacity="0.19"/>
<circle cx="642.2" cy="119.5" r="6.0" fill="#948eb4" fill-opacity="0.19"/>
<circle cx="658.9" cy="118.7" r="6.0" fill="#948eb4" fill-opacity="0.33"/>
<circle cx="675.6" cy="118.0" r="6.0" fill="#948eb4" fill-opacity="0.40"/>
<circle cx="492.9" cy="142.6" r="6.0" fill="#948eb4" fill-opacity="0.05"/>
<circle cx="509.5" cy="141.8" r="6.0" fill="#948eb4" fill-opacity="0.13"/>
<circle cx="526.1" cy="141.0" r="6.0" fill="#948eb4" fill-opacity="0.13"/>
<circle cx="542.8" cy="140.3" r="6.0" fill="#948eb4" fill-opacity="0.19"/>
<circle cx="559.4" cy="139.5" r="6.0" fill="#948eb4" fill-opacity="0.13"/>
<circle cx="576.0" cy="138.7" r="6.0" fill="#948eb4" fill-opacity="0.19"/>
<circle cx="592.6" cy="137.9" r="6.0" fill="#948eb4" fill-opacity="0.40"/>
<line x1="587.6" y1="139.9" x2="597.6" y2="135.9" stroke="#f5f5f6" stroke-width="1.3"/>
<ellipse cx="609.2" cy="137.1" rx="2" ry="5" fill="#948eb4" fill-opacity="0.13" transform="rotate(30 609.2 137.1)"/>
<circle cx="625.9" cy="136.3" r="6.0" fill="#948eb4" fill-opacity="0.48"/>
<line x1="620.9" y1="138.3" x2="630.9" y2="134.3" stroke="#f5f5f6" stroke-width="1.3"/>
<circle cx="642.5" cy="135.6" r="6.0" fill="#948eb4" fill-opacity="0.19"/>
<circle cx="659.1" cy="134.8" r="6.0" fill="#948eb4" fill-opacity="0.19"/>
<circle cx="675.7" cy="134.0" r="6.0" fill="#948eb4" fill-opacity="0.19"/>
<path d="M493.7,155.3 A6.0,6.0 0 0 0 493.7,167.3 Z" fill="#c07050" fill-opacity="0.48"/>
<path d="M493.7,155.3 A6.0,6.0 0 0 1 493.7,167.3 Z" fill="#c07050" fill-opacity="0.30"/>
<circle cx="510.3" cy="160.3" r="6.0" fill="#948eb4" fill-opacity="0.25"/>
<circle cx="526.8" cy="159.4" r="6.0" fill="#948eb4" fill-opacity="0.40"/>
<circle cx="543.4" cy="158.4" r="6.0" fill="#948eb4" fill-opacity="0.19"/>
<circle cx="559.9" cy="157.4" r="6.0" fill="#948eb4" fill-opacity="0.13"/>
<circle cx="576.5" cy="156.4" r="6.0" fill="#948eb4" fill-opacity="0.13"/>
<circle cx="593.1" cy="155.5" r="6.0" fill="#948eb4" fill-opacity="0.19"/>
<circle cx="609.6" cy="154.5" r="6.0" fill="#948eb4" fill-opacity="0.03"/>
<circle cx="626.2" cy="153.5" r="6.0" fill="#948eb4" fill-opacity="0.07"/>
<circle cx="642.7" cy="152.5" r="6.0" fill="#948eb4" fill-opacity="0.25"/>
<circle cx="659.3" cy="151.6" r="6.0" fill="#948eb4" fill-opacity="0.33"/>
<circle cx="675.9" cy="150.6" r="6.0" fill="#948eb4" fill-opacity="0.25"/>
</g>
<text transform="translate(0.30,199.00) skewX(0.5)" font-size="16" text-anchor="start" font-weight="bold" fill="#000" >b</text>
<text transform="translate(20.80,210.30) skewX(0.5)" font-size="9.5" text-anchor="start" fill="#111" >CAR-T cell</text>
<text transform="translate(20.80,221.90) skewX(0.5)" font-size="9.5" text-anchor="start" fill="#111" >Monocyte</text>
<text transform="translate(20.80,233.50) skewX(0.5)" font-size="9.5" text-anchor="start" fill="#111" >JeKo-1</text>
<text transform="translate(77.00,214.40) skewX(0.5)" font-size="9.5" text-anchor="start" fill="#111" >Coculture for 24 hours</text>
<line x1="71.50" y1="220.20" x2="176.00" y2="220.20" stroke="#222" stroke-width="1.0" />
<path d="M182.3,220.2 L174.1,217.9 L174.1,222.5 Z" fill="#111"/>
<text transform="translate(193.00,213.50) skewX(0.5)" font-size="9.5" text-anchor="start" fill="#111" >ELISA</text>
<text transform="translate(193.00,225.10) skewX(0.5)" font-size="9.5" text-anchor="start" fill="#111" >hIFN-γ</text>
<text transform="translate(193.00,236.70) skewX(0.5)" font-size="9.5" text-anchor="start" fill="#111" >hIL-6</text>
<text transform="translate(245.50,199.00) skewX(0.5)" font-size="16" text-anchor="start" font-weight="bold" fill="#000" >d</text>
<text transform="translate(257.30,224.20) skewX(0.5)" font-size="9.5" text-anchor="start" fill="#111" >SCID mice</text>
<line x1="305.30" y1="221.00" x2="442.00" y2="221.00" stroke="#777" stroke-width="1.4" />
<path d="M448.3,221 L440.3,218.8 L440.3,223.2 Z" fill="#111"/>
<line x1="331.60" y1="215.00" x2="331.60" y2="226.40" stroke="#333" stroke-width="1" />
<line x1="374.00" y1="215.00" x2="374.00" y2="226.40" stroke="#333" stroke-width="1" />
<line x1="412.60" y1="215.00" x2="412.60" y2="226.40" stroke="#333" stroke-width="1" />
<text transform="translate(325.50,209.40) skewX(0.5)" font-size="9.5" text-anchor="middle" fill="#111" >-2 week</text>
<text transform="translate(372.40,209.40) skewX(0.5)" font-size="9.5" text-anchor="middle" fill="#111" >0 week</text>
<text transform="translate(415.60,209.40) skewX(0.5)" font-size="9.5" text-anchor="middle" fill="#111" >3 day</text>
<text transform="translate(327.60,238.60) skewX(0.5)" font-size="9.5" text-anchor="middle" fill="#111" >JeKo-1</text>
<text transform="translate(328.00,249.60) skewX(0.5)" font-size="9.5" text-anchor="middle" fill="#111" >i.p.</text>
<text transform="translate(374.00,238.60) skewX(0.5)" font-size="9.5" text-anchor="middle" fill="#111" >CAR-T cell</text>
<text transform="translate(374.00,249.60) skewX(0.5)" font-size="9.5" text-anchor="middle" fill="#111" >i.p.</text>
<text transform="translate(407.20,248.40) skewX(0.5)" font-size="9.5" text-anchor="start" fill="#111" >Peritoneal lavage</text>
<text transform="translate(452.80,211.00) skewX(0.5)" font-size="9.5" text-anchor="start" fill="#111" >ELISA</text>
<text transform="translate(452.80,222.50) skewX(0.5)" font-size="9.5" text-anchor="start" fill="#111" >hIFN-γ</text>
<text transform="translate(452.80,234.00) skewX(0.5)" font-size="9.5" text-anchor="start" fill="#111" >mIL-6</text>
<text transform="translate(0.30,268.00) skewX(0.5)" font-size="16" text-anchor="start" font-weight="bold" fill="#000" >c</text>
<line x1="59.80" y1="272.30" x2="59.80" y2="354.20" stroke="#222" stroke-width="1.1" />
<line x1="59.30" y1="353.70" x2="113.90" y2="353.70" stroke="#222" stroke-width="1.1" />
<line x1="55.80" y1="353.70" x2="59.80" y2="353.70" stroke="#222" stroke-width="1" />
<text transform="translate(53.20,357.30) skewX(0.5)" font-size="10" text-anchor="end" fill="#111" >0</text>
<line x1="55.80" y1="333.48" x2="59.80" y2="333.48" stroke="#222" stroke-width="1" />
<text transform="translate(53.20,337.08) skewX(0.5)" font-size="10" text-anchor="end" fill="#111" >50</text>
<line x1="55.80" y1="313.25" x2="59.80" y2="313.25" stroke="#222" stroke-width="1" />
<text transform="translate(53.20,316.85) skewX(0.5)" font-size="10" text-anchor="end" fill="#111" >100</text>
<line x1="55.80" y1="293.02" x2="59.80" y2="293.02" stroke="#222" stroke-width="1" />
<text transform="translate(53.20,296.62) skewX(0.5)" font-size="10" text-anchor="end" fill="#111" >150</text>
<line x1="55.80" y1="272.80" x2="59.80" y2="272.80" stroke="#222" stroke-width="1" />
<text transform="translate(53.20,276.40) skewX(0.5)" font-size="10" text-anchor="end" fill="#111" >200</text>
<line x1="67.80" y1="353.70" x2="67.80" y2="357.30" stroke="#222" stroke-width="1" />
<line x1="80.60" y1="353.70" x2="80.60" y2="357.30" stroke="#222" stroke-width="1" />
<line x1="92.90" y1="353.70" x2="92.90" y2="357.30" stroke="#222" stroke-width="1" />
<line x1="105.10" y1="353.70" x2="105.10" y2="357.30" stroke="#222" stroke-width="1" />
<text x="0" y="0" font-size="9.5" text-anchor="middle" fill="#111" transform="translate(33.30,313.25) rotate(-90)">hIFN-γ (pg/mL)</text>
<text x="0" y="0" font-size="9.8" text-anchor="end" fill="#111" transform="translate(73.00,364.50) rotate(-45)">Ctrl</text>
<text x="0" y="0" font-size="9.8" text-anchor="end" fill="#111" transform="translate(85.80,364.50) rotate(-45)">CD19 CAR-T</text>
<text x="0" y="0" font-size="9.8" text-anchor="end" fill="#111" transform="translate(98.10,364.50) rotate(-45)">mC2 CAR-T</text>
<text x="0" y="0" font-size="9.8" text-anchor="end" fill="#111" transform="translate(110.30,364.50) rotate(-45)">hC2 CAR-T</text>
<line x1="63.80" y1="341.56" x2="71.80" y2="341.56" stroke="#111" stroke-width="1" />
<line x1="76.60" y1="292.62" x2="84.60" y2="292.62" stroke="#111" stroke-width="1" />
<line x1="88.90" y1="295.05" x2="96.90" y2="295.05" stroke="#111" stroke-width="1" />
<line x1="101.10" y1="310.01" x2="109.10" y2="310.01" stroke="#111" stroke-width="1" />
<circle cx="66.30" cy="339.14" r="2.15" fill="#999999" stroke="#111" stroke-width="0.85"/>
<circle cx="69.30" cy="340.35" r="2.15" fill="#999999" stroke="#111" stroke-width="0.85"/>
<circle cx="67.80" cy="341.56" r="2.15" fill="#999999" stroke="#111" stroke-width="0.85"/>
<circle cx="65.80" cy="341.97" r="2.15" fill="#999999" stroke="#111" stroke-width="0.85"/>
<circle cx="69.80" cy="342.37" r="2.15" fill="#999999" stroke="#111" stroke-width="0.85"/>
<circle cx="80.60" cy="282.51" r="2.15" fill="#0f8a4c" stroke="#111" stroke-width="0.85"/>
<circle cx="78.60" cy="291.00" r="2.15" fill="#0f8a4c" stroke="#111" stroke-width="0.85"/>
<circle cx="82.10" cy="293.02" r="2.15" fill="#0f8a4c" stroke="#111" stroke-width="0.85"/>
<circle cx="83.60" cy="292.62" r="2.15" fill="#0f8a4c" stroke="#111" stroke-width="0.85"/>
<circle cx="80.60" cy="300.31" r="2.15" fill="#0f8a4c" stroke="#111" stroke-width="0.85"/>
<circle cx="92.90" cy="284.13" r="2.15" fill="#ff2a0a" stroke="#111" stroke-width="0.85"/>
<circle cx="92.90" cy="291.00" r="2.15" fill="#ff2a0a" stroke="#111" stroke-width="0.85"/>
<circle cx="92.90" cy="295.05" r="2.15" fill="#ff2a0a" stroke="#111" stroke-width="0.85"/>
<circle cx="90.90" cy="301.12" r="2.15" fill="#ff2a0a" stroke="#111" stroke-width="0.85"/>
<circle cx="94.90" cy="301.12" r="2.15" fill="#ff2a0a" stroke="#111" stroke-width="0.85"/>
<circle cx="103.10" cy="307.18" r="2.15" fill="#1e96f0" stroke="#111" stroke-width="0.85"/>
<circle cx="107.10" cy="308.40" r="2.15" fill="#1e96f0" stroke="#111" stroke-width="0.85"/>
<circle cx="105.10" cy="310.01" r="2.15" fill="#1e96f0" stroke="#111" stroke-width="0.85"/>
<circle cx="104.10" cy="316.08" r="2.15" fill="#1e96f0" stroke="#111" stroke-width="0.85"/>
<circle cx="106.10" cy="316.89" r="2.15" fill="#1e96f0" stroke="#111" stroke-width="0.85"/>
<text transform="translate(85.30,271.20) scale(0.87,1) skewX(0.5)" font-size="8.8" fill="#111"><tspan font-style="italic">p</tspan>=0.0008</text>
<line x1="94.60" y1="273.60" x2="107.70" y2="273.60" stroke="#555" stroke-width="1.3" />
<line x1="162.20" y1="272.30" x2="162.20" y2="354.20" stroke="#222" stroke-width="1.1" />
<line x1="161.70" y1="353.70" x2="216.50" y2="353.70" stroke="#222" stroke-width="1.1" />
<line x1="158.20" y1="353.70" x2="162.20" y2="353.70" stroke="#222" stroke-width="1" />
<text transform="translate(157.40,357.30) skewX(0.5)" font-size="10" text-anchor="end" fill="#111" >0</text>
<line x1="158.20" y1="337.52" x2="162.20" y2="337.52" stroke="#222" stroke-width="1" />
<text transform="translate(157.40,341.12) skewX(0.5)" font-size="10" text-anchor="end" fill="#111" >100</text>
<line x1="158.20" y1="321.34" x2="162.20" y2="321.34" stroke="#222" stroke-width="1" />
<text transform="translate(157.40,324.94) skewX(0.5)" font-size="10" text-anchor="end" fill="#111" >200</text>
<line x1="158.20" y1="305.16" x2="162.20" y2="305.16" stroke="#222" stroke-width="1" />
<text transform="translate(157.40,308.76) skewX(0.5)" font-size="10" text-anchor="end" fill="#111" >300</text>
<line x1="158.20" y1="288.98" x2="162.20" y2="288.98" stroke="#222" stroke-width="1" />
<text transform="translate(157.40,292.58) skewX(0.5)" font-size="10" text-anchor="end" fill="#111" >400</text>
<line x1="158.20" y1="272.80" x2="162.20" y2="272.80" stroke="#222" stroke-width="1" />
<text transform="translate(157.40,276.40) skewX(0.5)" font-size="10" text-anchor="end" fill="#111" >500</text>
<line x1="171.00" y1="353.70" x2="171.00" y2="357.30" stroke="#222" stroke-width="1" />
<line x1="183.60" y1="353.70" x2="183.60" y2="357.30" stroke="#222" stroke-width="1" />
<line x1="195.80" y1="353.70" x2="195.80" y2="357.30" stroke="#222" stroke-width="1" />
<line x1="208.50" y1="353.70" x2="208.50" y2="357.30" stroke="#222" stroke-width="1" />
<text x="0" y="0" font-size="9.5" text-anchor="middle" fill="#111" transform="translate(136.40,313.25) rotate(-90)">hIL-6 (pg/mL)</text>
<text x="0" y="0" font-size="9.8" text-anchor="end" fill="#111" transform="translate(176.20,364.50) rotate(-45)">Ctrl</text>
<text x="0" y="0" font-size="9.8" text-anchor="end" fill="#111" transform="translate(188.80,364.50) rotate(-45)">CD19 CAR-T</text>
<text x="0" y="0" font-size="9.8" text-anchor="end" fill="#111" transform="translate(201.00,364.50) rotate(-45)">mC2 CAR-T</text>
<text x="0" y="0" font-size="9.8" text-anchor="end" fill="#111" transform="translate(213.70,364.50) rotate(-45)">hC2 CAR-T</text>
<line x1="167.00" y1="346.42" x2="175.00" y2="346.42" stroke="#111" stroke-width="1" />
<line x1="179.60" y1="293.02" x2="187.60" y2="293.02" stroke="#111" stroke-width="1" />
<line x1="191.80" y1="306.78" x2="199.80" y2="306.78" stroke="#111" stroke-width="1" />
<line x1="204.50" y1="334.28" x2="212.50" y2="334.28" stroke="#111" stroke-width="1" />
<circle cx="169.50" cy="345.93" r="2.15" fill="#999999" stroke="#111" stroke-width="0.85"/>
<circle cx="172.50" cy="346.26" r="2.15" fill="#999999" stroke="#111" stroke-width="0.85"/>
<circle cx="171.00" cy="346.58" r="2.15" fill="#999999" stroke="#111" stroke-width="0.85"/>
<circle cx="169.00" cy="346.42" r="2.15" fill="#999999" stroke="#111" stroke-width="0.85"/>
<circle cx="173.00" cy="346.74" r="2.15" fill="#999999" stroke="#111" stroke-width="0.85"/>
<circle cx="182.10" cy="291.25" r="2.15" fill="#0f8a4c" stroke="#111" stroke-width="0.85"/>
<circle cx="185.10" cy="291.89" r="2.15" fill="#0f8a4c" stroke="#111" stroke-width="0.85"/>
<circle cx="183.60" cy="293.02" r="2.15" fill="#0f8a4c" stroke="#111" stroke-width="0.85"/>
<circle cx="186.10" cy="294.64" r="2.15" fill="#0f8a4c" stroke="#111" stroke-width="0.85"/>
<circle cx="183.60" cy="300.31" r="2.15" fill="#0f8a4c" stroke="#111" stroke-width="0.85"/>
<circle cx="194.30" cy="303.22" r="2.15" fill="#ff2a0a" stroke="#111" stroke-width="0.85"/>
<circle cx="197.30" cy="303.54" r="2.15" fill="#ff2a0a" stroke="#111" stroke-width="0.85"/>
<circle cx="195.80" cy="306.78" r="2.15" fill="#ff2a0a" stroke="#111" stroke-width="0.85"/>
<circle cx="196.80" cy="310.82" r="2.15" fill="#ff2a0a" stroke="#111" stroke-width="0.85"/>
<circle cx="194.80" cy="313.25" r="2.15" fill="#ff2a0a" stroke="#111" stroke-width="0.85"/>
<circle cx="206.50" cy="331.05" r="2.15" fill="#1e96f0" stroke="#111" stroke-width="0.85"/>
<circle cx="210.50" cy="333.48" r="2.15" fill="#1e96f0" stroke="#111" stroke-width="0.85"/>
<circle cx="208.50" cy="334.28" r="2.15" fill="#1e96f0" stroke="#111" stroke-width="0.85"/>
<circle cx="210.50" cy="337.52" r="2.15" fill="#1e96f0" stroke="#111" stroke-width="0.85"/>
<circle cx="206.50" cy="341.56" r="2.15" fill="#1e96f0" stroke="#111" stroke-width="0.85"/>
<text transform="translate(189.20,289.60) scale(0.87,1) skewX(0.5)" font-size="8.8" fill="#111"><tspan font-style="italic">p</tspan><0.0001</text>
<line x1="197.60" y1="292.80" x2="211.60" y2="292.80" stroke="#555" stroke-width="1.3" />
<text transform="translate(246.30,268.00) skewX(0.5)" font-size="16" text-anchor="start" font-weight="bold" fill="#000" >e</text>
<line x1="306.50" y1="272.30" x2="306.50" y2="354.20" stroke="#222" stroke-width="1.1" />
<line x1="306.00" y1="353.70" x2="359.20" y2="353.70" stroke="#222" stroke-width="1.1" />
<line x1="302.50" y1="353.70" x2="306.50" y2="353.70" stroke="#222" stroke-width="1" />
<text transform="translate(300.50,357.30) skewX(0.5)" font-size="10" text-anchor="end" fill="#111" >0</text>
<line x1="302.50" y1="337.52" x2="306.50" y2="337.52" stroke="#222" stroke-width="1" />
<text transform="translate(300.50,341.12) skewX(0.5)" font-size="10" text-anchor="end" fill="#111" >100</text>
<line x1="302.50" y1="321.34" x2="306.50" y2="321.34" stroke="#222" stroke-width="1" />
<text transform="translate(300.50,324.94) skewX(0.5)" font-size="10" text-anchor="end" fill="#111" >200</text>
<line x1="302.50" y1="305.16" x2="306.50" y2="305.16" stroke="#222" stroke-width="1" />
<text transform="translate(300.50,308.76) skewX(0.5)" font-size="10" text-anchor="end" fill="#111" >300</text>
<line x1="302.50" y1="288.98" x2="306.50" y2="288.98" stroke="#222" stroke-width="1" />
<text transform="translate(300.50,292.58) skewX(0.5)" font-size="10" text-anchor="end" fill="#111" >400</text>
<line x1="302.50" y1="272.80" x2="306.50" y2="272.80" stroke="#222" stroke-width="1" />
<text transform="translate(300.50,276.40) skewX(0.5)" font-size="10" text-anchor="end" fill="#111" >500</text>
<line x1="314.60" y1="353.70" x2="314.60" y2="357.30" stroke="#222" stroke-width="1" />
<line x1="326.90" y1="353.70" x2="326.90" y2="357.30" stroke="#222" stroke-width="1" />
<line x1="339.20" y1="353.70" x2="339.20" y2="357.30" stroke="#222" stroke-width="1" />
<line x1="351.70" y1="353.70" x2="351.70" y2="357.30" stroke="#222" stroke-width="1" />
<text x="0" y="0" font-size="9.5" text-anchor="middle" fill="#111" transform="translate(280.30,313.25) rotate(-90)">hIFN-γ (pg/mL)</text>
<text x="0" y="0" font-size="9.8" text-anchor="end" fill="#111" transform="translate(319.80,364.50) rotate(-45)">Ctrl</text>
<text x="0" y="0" font-size="9.8" text-anchor="end" fill="#111" transform="translate(332.10,364.50) rotate(-45)">CD19 CAR-T</text>
<text x="0" y="0" font-size="9.8" text-anchor="end" fill="#111" transform="translate(344.40,364.50) rotate(-45)">mC2 CAR-T</text>
<text x="0" y="0" font-size="9.8" text-anchor="end" fill="#111" transform="translate(356.90,364.50) rotate(-45)">hC2 CAR-T</text>
<line x1="310.60" y1="343.67" x2="318.60" y2="343.67" stroke="#111" stroke-width="1" />
<line x1="322.90" y1="304.35" x2="330.90" y2="304.35" stroke="#111" stroke-width="1" />
<line x1="335.20" y1="305.65" x2="343.20" y2="305.65" stroke="#111" stroke-width="1" />
<line x1="347.70" y1="329.27" x2="355.70" y2="329.27" stroke="#111" stroke-width="1" />
<circle cx="316.80" cy="338.01" r="2.15" fill="#999999" stroke="#111" stroke-width="0.85"/>
<circle cx="312.60" cy="342.37" r="2.15" fill="#999999" stroke="#111" stroke-width="0.85"/>
<circle cx="317.00" cy="344.32" r="2.15" fill="#999999" stroke="#111" stroke-width="0.85"/>
<circle cx="314.60" cy="343.67" r="2.15" fill="#999999" stroke="#111" stroke-width="0.85"/>
<circle cx="312.60" cy="347.88" r="2.15" fill="#999999" stroke="#111" stroke-width="0.85"/>
<circle cx="326.90" cy="277.65" r="2.15" fill="#0f8a4c" stroke="#111" stroke-width="0.85"/>
<circle cx="326.90" cy="300.31" r="2.15" fill="#0f8a4c" stroke="#111" stroke-width="0.85"/>
<circle cx="326.90" cy="304.35" r="2.15" fill="#0f8a4c" stroke="#111" stroke-width="0.85"/>
<circle cx="328.90" cy="315.68" r="2.15" fill="#0f8a4c" stroke="#111" stroke-width="0.85"/>
<circle cx="324.90" cy="319.40" r="2.15" fill="#0f8a4c" stroke="#111" stroke-width="0.85"/>
<circle cx="337.20" cy="295.13" r="2.15" fill="#ff2a0a" stroke="#111" stroke-width="0.85"/>
<circle cx="341.20" cy="295.78" r="2.15" fill="#ff2a0a" stroke="#111" stroke-width="0.85"/>
<circle cx="339.20" cy="305.65" r="2.15" fill="#ff2a0a" stroke="#111" stroke-width="0.85"/>
<circle cx="339.20" cy="311.63" r="2.15" fill="#ff2a0a" stroke="#111" stroke-width="0.85"/>
<circle cx="339.20" cy="318.59" r="2.15" fill="#ff2a0a" stroke="#111" stroke-width="0.85"/>
<circle cx="351.70" cy="298.04" r="2.15" fill="#1e96f0" stroke="#111" stroke-width="0.85"/>
<circle cx="351.70" cy="314.54" r="2.15" fill="#1e96f0" stroke="#111" stroke-width="0.85"/>
<circle cx="349.70" cy="329.27" r="2.15" fill="#1e96f0" stroke="#111" stroke-width="0.85"/>
<circle cx="353.70" cy="331.37" r="2.15" fill="#1e96f0" stroke="#111" stroke-width="0.85"/>
<circle cx="351.70" cy="341.08" r="2.15" fill="#1e96f0" stroke="#111" stroke-width="0.85"/>
<text transform="translate(330.20,285.50) scale(0.87,1) skewX(0.5)" font-size="8.8" fill="#111"><tspan font-style="italic">p</tspan>=0.1943</text>
<line x1="339.80" y1="288.00" x2="353.70" y2="288.00" stroke="#555" stroke-width="1.3" />
<line x1="412.30" y1="272.30" x2="412.30" y2="354.20" stroke="#222" stroke-width="1.1" />
<line x1="411.80" y1="353.70" x2="466.30" y2="353.70" stroke="#222" stroke-width="1.1" />
<line x1="408.30" y1="353.70" x2="412.30" y2="353.70" stroke="#222" stroke-width="1" />
<text transform="translate(406.70,357.30) skewX(0.5)" font-size="10" text-anchor="end" fill="#111" >0</text>
<line x1="408.30" y1="333.48" x2="412.30" y2="333.48" stroke="#222" stroke-width="1" />
<text transform="translate(406.70,337.08) skewX(0.5)" font-size="10" text-anchor="end" fill="#111" >200</text>
<line x1="408.30" y1="313.25" x2="412.30" y2="313.25" stroke="#222" stroke-width="1" />
<text transform="translate(406.70,316.85) skewX(0.5)" font-size="10" text-anchor="end" fill="#111" >400</text>
<line x1="408.30" y1="293.02" x2="412.30" y2="293.02" stroke="#222" stroke-width="1" />
<text transform="translate(406.70,296.62) skewX(0.5)" font-size="10" text-anchor="end" fill="#111" >600</text>
<line x1="408.30" y1="272.80" x2="412.30" y2="272.80" stroke="#222" stroke-width="1" />
<text transform="translate(406.70,276.40) skewX(0.5)" font-size="10" text-anchor="end" fill="#111" >800</text>
<line x1="420.30" y1="353.70" x2="420.30" y2="357.30" stroke="#222" stroke-width="1" />
<line x1="433.10" y1="353.70" x2="433.10" y2="357.30" stroke="#222" stroke-width="1" />
<line x1="445.50" y1="353.70" x2="445.50" y2="357.30" stroke="#222" stroke-width="1" />
<line x1="458.10" y1="353.70" x2="458.10" y2="357.30" stroke="#222" stroke-width="1" />
<text x="0" y="0" font-size="9.5" text-anchor="middle" fill="#111" transform="translate(386.30,313.25) rotate(-90)">mIL-6 (pg/mL)</text>
<text x="0" y="0" font-size="9.8" text-anchor="end" fill="#111" transform="translate(425.50,364.50) rotate(-45)">Ctrl</text>
<text x="0" y="0" font-size="9.8" text-anchor="end" fill="#111" transform="translate(438.30,364.50) rotate(-45)">CD19 CAR-T</text>
<text x="0" y="0" font-size="9.8" text-anchor="end" fill="#111" transform="translate(450.70,364.50) rotate(-45)">mC2 CAR-T</text>
<text x="0" y="0" font-size="9.8" text-anchor="end" fill="#111" transform="translate(463.30,364.50) rotate(-45)">hC2 CAR-T</text>
<line x1="416.30" y1="339.54" x2="424.30" y2="339.54" stroke="#111" stroke-width="1" />
<line x1="429.10" y1="316.38" x2="437.10" y2="316.38" stroke="#111" stroke-width="1" />
<line x1="441.50" y1="317.90" x2="449.50" y2="317.90" stroke="#111" stroke-width="1" />
<line x1="454.10" y1="335.40" x2="462.10" y2="335.40" stroke="#111" stroke-width="1" />
<circle cx="418.80" cy="336.21" r="2.15" fill="#999999" stroke="#111" stroke-width="0.85"/>
<circle cx="422.30" cy="339.14" r="2.15" fill="#999999" stroke="#111" stroke-width="0.85"/>
<circle cx="420.30" cy="341.06" r="2.15" fill="#999999" stroke="#111" stroke-width="0.85"/>
<circle cx="418.30" cy="342.27" r="2.15" fill="#999999" stroke="#111" stroke-width="0.85"/>
<circle cx="422.30" cy="339.54" r="2.15" fill="#999999" stroke="#111" stroke-width="0.85"/>
<circle cx="433.10" cy="287.46" r="2.15" fill="#0f8a4c" stroke="#111" stroke-width="0.85"/>
<circle cx="433.10" cy="311.03" r="2.15" fill="#0f8a4c" stroke="#111" stroke-width="0.85"/>
<circle cx="431.10" cy="316.38" r="2.15" fill="#0f8a4c" stroke="#111" stroke-width="0.85"/>
<circle cx="435.10" cy="317.60" r="2.15" fill="#0f8a4c" stroke="#111" stroke-width="0.85"/>
<circle cx="433.10" cy="329.13" r="2.15" fill="#0f8a4c" stroke="#111" stroke-width="0.85"/>
<circle cx="445.50" cy="306.27" r="2.15" fill="#ff2a0a" stroke="#111" stroke-width="0.85"/>
<circle cx="445.50" cy="313.05" r="2.15" fill="#ff2a0a" stroke="#111" stroke-width="0.85"/>
<circle cx="445.50" cy="317.90" r="2.15" fill="#ff2a0a" stroke="#111" stroke-width="0.85"/>
<circle cx="443.50" cy="321.74" r="2.15" fill="#ff2a0a" stroke="#111" stroke-width="0.85"/>
<circle cx="447.50" cy="321.74" r="2.15" fill="#ff2a0a" stroke="#111" stroke-width="0.85"/>
<circle cx="458.10" cy="327.51" r="2.15" fill="#1e96f0" stroke="#111" stroke-width="0.85"/>
<circle cx="460.10" cy="331.55" r="2.15" fill="#1e96f0" stroke="#111" stroke-width="0.85"/>
<circle cx="456.10" cy="335.40" r="2.15" fill="#1e96f0" stroke="#111" stroke-width="0.85"/>
<circle cx="460.10" cy="337.92" r="2.15" fill="#1e96f0" stroke="#111" stroke-width="0.85"/>
<circle cx="456.10" cy="341.87" r="2.15" fill="#1e96f0" stroke="#111" stroke-width="0.85"/>
<text transform="translate(437.00,293.00) scale(0.87,1) skewX(0.5)" font-size="8.8" fill="#111"><tspan font-style="italic">p</tspan>=0.0202</text>
<line x1="447.00" y1="295.50" x2="460.90" y2="295.50" stroke="#555" stroke-width="1.3" />
<text transform="translate(507.50,199.40) skewX(0.5)" font-size="16" text-anchor="start" font-weight="bold" fill="#000" >f</text>
<line x1="560.50" y1="217.00" x2="560.50" y2="322.00" stroke="#222" stroke-width="1.1" />
<line x1="560.00" y1="321.50" x2="666.00" y2="321.50" stroke="#222" stroke-width="1.1" />
<line x1="556.50" y1="321.50" x2="560.50" y2="321.50" stroke="#222" stroke-width="1" />
<text transform="translate(553.20,325.00) skewX(0.5)" font-size="10" text-anchor="end" fill="#111" >85</text>
<line x1="556.50" y1="295.45" x2="560.50" y2="295.45" stroke="#222" stroke-width="1" />
<text transform="translate(553.20,298.95) skewX(0.5)" font-size="10" text-anchor="end" fill="#111" >90</text>
<line x1="556.50" y1="269.40" x2="560.50" y2="269.40" stroke="#222" stroke-width="1" />
<text transform="translate(553.20,272.90) skewX(0.5)" font-size="10" text-anchor="end" fill="#111" >95</text>
<line x1="556.50" y1="243.35" x2="560.50" y2="243.35" stroke="#222" stroke-width="1" />
<text transform="translate(553.20,246.85) skewX(0.5)" font-size="10" text-anchor="end" fill="#111" >100</text>
<line x1="556.50" y1="217.30" x2="560.50" y2="217.30" stroke="#222" stroke-width="1" />
<text transform="translate(553.20,220.80) skewX(0.5)" font-size="10" text-anchor="end" fill="#111" >105</text>
<line x1="560.50" y1="321.50" x2="560.50" y2="325.30" stroke="#222" stroke-width="1" />
<text transform="translate(560.50,336.20) skewX(0.5)" font-size="9.5" text-anchor="middle" fill="#111" >0</text>
<line x1="595.43" y1="321.50" x2="595.43" y2="325.30" stroke="#222" stroke-width="1" />
<text transform="translate(595.43,336.20) skewX(0.5)" font-size="9.5" text-anchor="middle" fill="#111" >24</text>
<line x1="630.37" y1="321.50" x2="630.37" y2="325.30" stroke="#222" stroke-width="1" />
<text transform="translate(630.37,336.20) skewX(0.5)" font-size="9.5" text-anchor="middle" fill="#111" >48</text>
<line x1="665.30" y1="321.50" x2="665.30" y2="325.30" stroke="#222" stroke-width="1" />
<text transform="translate(665.30,336.20) skewX(0.5)" font-size="9.5" text-anchor="middle" fill="#111" >72</text>
<text transform="translate(613.40,348.30) skewX(0.5)" font-size="9.5" text-anchor="middle" fill="#111" >Hours</text>
<text x="0" y="0" font-size="9.5" text-anchor="middle" fill="#111" transform="translate(529.9,270.3) rotate(-90)">Body weight change (%)</text>
<line x1="560.50" y1="295.45" x2="666.00" y2="295.45" stroke="#222" stroke-width="0.9" stroke-dasharray="1.2,1.2"/>
<path d="M560.50,243.35 L595.43,263.15 L630.37,274.61 L665.30,286.07" fill="none" stroke="#1e9cf2" stroke-width="1.3"/>
<line x1="595.43" y1="256.64" x2="595.43" y2="269.66" stroke="#1e9cf2" stroke-width="1.15" />
<line x1="592.43" y1="256.64" x2="598.43" y2="256.64" stroke="#1e9cf2" stroke-width="1.15" />
<line x1="592.43" y1="269.66" x2="598.43" y2="269.66" stroke="#1e9cf2" stroke-width="1.15" />
<line x1="630.37" y1="264.19" x2="630.37" y2="285.03" stroke="#1e9cf2" stroke-width="1.15" />
<line x1="627.37" y1="264.19" x2="633.37" y2="264.19" stroke="#1e9cf2" stroke-width="1.15" />
<line x1="627.37" y1="285.03" x2="633.37" y2="285.03" stroke="#1e9cf2" stroke-width="1.15" />
<line x1="665.30" y1="275.13" x2="665.30" y2="297.01" stroke="#1e9cf2" stroke-width="1.15" />
<line x1="662.30" y1="275.13" x2="668.30" y2="275.13" stroke="#1e9cf2" stroke-width="1.15" />
<line x1="662.30" y1="297.01" x2="668.30" y2="297.01" stroke="#1e9cf2" stroke-width="1.15" />
<path d="M560.50,243.35 L595.43,262.63 L630.37,287.63 L665.30,303.26" fill="none" stroke="#f0402a" stroke-width="1.3"/>
<line x1="595.43" y1="258.72" x2="595.43" y2="266.53" stroke="#f0402a" stroke-width="1.15" />
<line x1="592.43" y1="258.72" x2="598.43" y2="258.72" stroke="#f0402a" stroke-width="1.15" />
<line x1="592.43" y1="266.53" x2="598.43" y2="266.53" stroke="#f0402a" stroke-width="1.15" />
<line x1="630.37" y1="282.69" x2="630.37" y2="292.58" stroke="#f0402a" stroke-width="1.15" />
<line x1="627.37" y1="282.69" x2="633.37" y2="282.69" stroke="#f0402a" stroke-width="1.15" />
<line x1="627.37" y1="292.58" x2="633.37" y2="292.58" stroke="#f0402a" stroke-width="1.15" />
<line x1="665.30" y1="297.27" x2="665.30" y2="309.26" stroke="#f0402a" stroke-width="1.15" />
<line x1="662.30" y1="297.27" x2="668.30" y2="297.27" stroke="#f0402a" stroke-width="1.15" />
<line x1="662.30" y1="309.26" x2="668.30" y2="309.26" stroke="#f0402a" stroke-width="1.15" />
<path d="M560.50,243.35 L595.43,266.80 L630.37,299.10 L665.30,315.77" fill="none" stroke="#1f9e5a" stroke-width="1.3"/>
<line x1="595.43" y1="262.11" x2="595.43" y2="271.48" stroke="#1f9e5a" stroke-width="1.15" />
<line x1="592.43" y1="262.11" x2="598.43" y2="262.11" stroke="#1f9e5a" stroke-width="1.15" />
<line x1="592.43" y1="271.48" x2="598.43" y2="271.48" stroke="#1f9e5a" stroke-width="1.15" />
<line x1="630.37" y1="294.67" x2="630.37" y2="303.53" stroke="#1f9e5a" stroke-width="1.15" />
<line x1="627.37" y1="294.67" x2="633.37" y2="294.67" stroke="#1f9e5a" stroke-width="1.15" />
<line x1="627.37" y1="303.53" x2="633.37" y2="303.53" stroke="#1f9e5a" stroke-width="1.15" />
<line x1="665.30" y1="312.64" x2="665.30" y2="318.89" stroke="#1f9e5a" stroke-width="1.15" />
<line x1="662.30" y1="312.64" x2="668.30" y2="312.64" stroke="#1f9e5a" stroke-width="1.15" />
<line x1="662.30" y1="318.89" x2="668.30" y2="318.89" stroke="#1f9e5a" stroke-width="1.15" />
<path d="M560.50,243.35 L595.43,244.91 L630.37,248.56 L665.30,249.60" fill="none" stroke="#222" stroke-width="1.3"/>
<line x1="595.43" y1="242.83" x2="595.43" y2="247.00" stroke="#222" stroke-width="1.15" />
<line x1="592.43" y1="242.83" x2="598.43" y2="242.83" stroke="#222" stroke-width="1.15" />
<line x1="592.43" y1="247.00" x2="598.43" y2="247.00" stroke="#222" stroke-width="1.15" />
<line x1="630.37" y1="247.00" x2="630.37" y2="250.12" stroke="#222" stroke-width="1.15" />
<line x1="627.37" y1="247.00" x2="633.37" y2="247.00" stroke="#222" stroke-width="1.15" />
<line x1="627.37" y1="250.12" x2="633.37" y2="250.12" stroke="#222" stroke-width="1.15" />
<line x1="665.30" y1="248.56" x2="665.30" y2="250.64" stroke="#222" stroke-width="1.15" />
<line x1="662.30" y1="248.56" x2="668.30" y2="248.56" stroke="#222" stroke-width="1.15" />
<line x1="662.30" y1="250.64" x2="668.30" y2="250.64" stroke="#222" stroke-width="1.15" />
<text transform="translate(574.8,224.5) skewX(0.5)" font-size="8" fill="#111">mC2 vs CD19 <tspan font-style="italic">p</tspan>=0.1626</text>
<text transform="translate(574.8,234) skewX(0.5)" font-size="8" fill="#111">hC2 vs CD19 <tspan font-style="italic">p</tspan>=0.0005</text>
<line x1="576.40" y1="358.50" x2="586.40" y2="358.50" stroke="#222" stroke-width="1.0" />
<text transform="translate(591.80,361.80) skewX(0.5)" font-size="9.5" text-anchor="start" fill="#111" >Ctrl</text>
<line x1="576.40" y1="369.05" x2="586.40" y2="369.05" stroke="#1f9e5a" stroke-width="1.0" />
<text transform="translate(591.80,372.35) skewX(0.5)" font-size="9.5" text-anchor="start" fill="#111" >CD19 CAR-T</text>
<line x1="576.40" y1="379.60" x2="586.40" y2="379.60" stroke="#f0402a" stroke-width="1.0" />
<text transform="translate(591.80,382.90) skewX(0.5)" font-size="9.5" text-anchor="start" fill="#111" >mC2 CAR-T</text>
<line x1="576.40" y1="390.15" x2="586.40" y2="390.15" stroke="#1e9cf2" stroke-width="1.0" />
<text transform="translate(591.80,393.45) skewX(0.5)" font-size="9.5" text-anchor="start" fill="#111" >hC2 CAR-T</text>
<text transform="translate(0.30,425.50) skewX(0.5)" font-size="16" text-anchor="start" font-weight="bold" fill="#000" >g</text>
<text transform="translate(365.40,426.80) skewX(0.5)" font-size="9.5" text-anchor="middle" fill="#111" >Blood</text>
<line x1="51.40" y1="433.30" x2="667.00" y2="433.30" stroke="#222" stroke-width="1.1" />
<text transform="translate(76.60,447.30) skewX(0.5)" font-size="9.5" text-anchor="middle" fill="#111" >Granulocyte</text>
<line x1="47.50" y1="458.00" x2="47.50" y2="540.00" stroke="#222" stroke-width="1.1" />
<line x1="47.00" y1="539.50" x2="100.80" y2="539.50" stroke="#222" stroke-width="1.1" />
<line x1="43.50" y1="539.50" x2="47.50" y2="539.50" stroke="#222" stroke-width="1" />
<text transform="translate(41.80,543.10) skewX(0.5)" font-size="10" text-anchor="end" fill="#111" >0</text>
<line x1="43.50" y1="519.25" x2="47.50" y2="519.25" stroke="#222" stroke-width="1" />
<text transform="translate(41.80,522.85) skewX(0.5)" font-size="10" text-anchor="end" fill="#111" >200</text>
<line x1="43.50" y1="499.00" x2="47.50" y2="499.00" stroke="#222" stroke-width="1" />
<text transform="translate(41.80,502.60) skewX(0.5)" font-size="10" text-anchor="end" fill="#111" >400</text>
<line x1="43.50" y1="478.75" x2="47.50" y2="478.75" stroke="#222" stroke-width="1" />
<text transform="translate(41.80,482.35) skewX(0.5)" font-size="10" text-anchor="end" fill="#111" >600</text>
<line x1="43.50" y1="458.50" x2="47.50" y2="458.50" stroke="#222" stroke-width="1" />
<text transform="translate(41.80,462.10) skewX(0.5)" font-size="10" text-anchor="end" fill="#111" >800</text>
<line x1="55.40" y1="539.50" x2="55.40" y2="543.10" stroke="#222" stroke-width="1" />
<line x1="67.90" y1="539.50" x2="67.90" y2="543.10" stroke="#222" stroke-width="1" />
<line x1="80.30" y1="539.50" x2="80.30" y2="543.10" stroke="#222" stroke-width="1" />
<line x1="92.70" y1="539.50" x2="92.70" y2="543.10" stroke="#222" stroke-width="1" />
<text x="0" y="0" font-size="9.5" text-anchor="middle" fill="#111" transform="translate(21.60,499.00) rotate(-90)">Cell number (/uL)</text>
<text x="0" y="0" font-size="9.8" text-anchor="end" fill="#111" transform="translate(62.00,551.90) rotate(-45)">Ctrl</text>
<text x="0" y="0" font-size="9.8" text-anchor="end" fill="#111" transform="translate(74.50,551.90) rotate(-45)">CD19 mCAR-T</text>
<text x="0" y="0" font-size="9.8" text-anchor="end" fill="#111" transform="translate(86.90,551.90) rotate(-45)">mC2 mCAR-T</text>
<text x="0" y="0" font-size="9.8" text-anchor="end" fill="#111" transform="translate(99.30,551.90) rotate(-45)">hC2 mCAR-T</text>
<line x1="51.40" y1="492.00" x2="59.40" y2="492.00" stroke="#111" stroke-width="1" />
<line x1="63.90" y1="485.55" x2="71.90" y2="485.55" stroke="#111" stroke-width="1" />
<line x1="76.30" y1="501.33" x2="84.30" y2="501.33" stroke="#111" stroke-width="1" />
<line x1="88.70" y1="487.65" x2="96.70" y2="487.65" stroke="#111" stroke-width="1" />
<circle cx="53.79" cy="486.36" r="2.2" fill="#999999" stroke="#111" stroke-width="0.85"/>
<circle cx="57.81" cy="490.06" r="2.2" fill="#999999" stroke="#111" stroke-width="0.85"/>
<circle cx="52.99" cy="492.00" r="2.2" fill="#999999" stroke="#111" stroke-width="0.85"/>
<circle cx="57.81" cy="494.89" r="2.2" fill="#999999" stroke="#111" stroke-width="0.85"/>
<circle cx="53.79" cy="497.63" r="2.2" fill="#999999" stroke="#111" stroke-width="0.85"/>
<circle cx="67.90" cy="473.48" r="2.2" fill="#0f8a4c" stroke="#111" stroke-width="0.85"/>
<circle cx="65.81" cy="485.55" r="2.2" fill="#0f8a4c" stroke="#111" stroke-width="0.85"/>
<circle cx="70.15" cy="485.55" r="2.2" fill="#0f8a4c" stroke="#111" stroke-width="0.85"/>
<circle cx="67.90" cy="493.61" r="2.2" fill="#0f8a4c" stroke="#111" stroke-width="0.85"/>
<circle cx="67.90" cy="500.05" r="2.2" fill="#0f8a4c" stroke="#111" stroke-width="0.85"/>
<circle cx="80.30" cy="478.15" r="2.2" fill="#ff2a0a" stroke="#111" stroke-width="0.85"/>
<circle cx="80.30" cy="495.22" r="2.2" fill="#ff2a0a" stroke="#111" stroke-width="0.85"/>
<circle cx="80.30" cy="501.33" r="2.2" fill="#ff2a0a" stroke="#111" stroke-width="0.85"/>
<circle cx="78.21" cy="506.17" r="2.2" fill="#ff2a0a" stroke="#111" stroke-width="0.85"/>
<circle cx="82.71" cy="505.68" r="2.2" fill="#ff2a0a" stroke="#111" stroke-width="0.85"/>
<circle cx="90.77" cy="480.72" r="2.2" fill="#1e96f0" stroke="#111" stroke-width="0.85"/>
<circle cx="95.11" cy="484.27" r="2.2" fill="#1e96f0" stroke="#111" stroke-width="0.85"/>
<circle cx="90.77" cy="487.65" r="2.2" fill="#1e96f0" stroke="#111" stroke-width="0.85"/>
<circle cx="92.70" cy="491.67" r="2.2" fill="#1e96f0" stroke="#111" stroke-width="0.85"/>
<circle cx="92.70" cy="496.02" r="2.2" fill="#1e96f0" stroke="#111" stroke-width="0.85"/>
<text transform="translate(171.00,447.30) skewX(0.5)" font-size="9.5" text-anchor="middle" fill="#111" >Monocyte</text>
<line x1="143.60" y1="458.00" x2="143.60" y2="540.00" stroke="#222" stroke-width="1.1" />
<line x1="143.10" y1="539.50" x2="196.90" y2="539.50" stroke="#222" stroke-width="1.1" />
<line x1="139.60" y1="539.50" x2="143.60" y2="539.50" stroke="#222" stroke-width="1" />
<text transform="translate(138.50,543.10) skewX(0.5)" font-size="10" text-anchor="end" fill="#111" >0</text>
<line x1="139.60" y1="523.30" x2="143.60" y2="523.30" stroke="#222" stroke-width="1" />
<text transform="translate(138.50,526.90) skewX(0.5)" font-size="10" text-anchor="end" fill="#111" >20</text>
<line x1="139.60" y1="507.10" x2="143.60" y2="507.10" stroke="#222" stroke-width="1" />
<text transform="translate(138.50,510.70) skewX(0.5)" font-size="10" text-anchor="end" fill="#111" >40</text>
<line x1="139.60" y1="490.90" x2="143.60" y2="490.90" stroke="#222" stroke-width="1" />
<text transform="translate(138.50,494.50) skewX(0.5)" font-size="10" text-anchor="end" fill="#111" >60</text>
<line x1="139.60" y1="474.70" x2="143.60" y2="474.70" stroke="#222" stroke-width="1" />
<text transform="translate(138.50,478.30) skewX(0.5)" font-size="10" text-anchor="end" fill="#111" >80</text>
<line x1="139.60" y1="458.50" x2="143.60" y2="458.50" stroke="#222" stroke-width="1" />
<text transform="translate(138.50,462.10) skewX(0.5)" font-size="10" text-anchor="end" fill="#111" >100</text>
<line x1="151.50" y1="539.50" x2="151.50" y2="543.10" stroke="#222" stroke-width="1" />
<line x1="164.00" y1="539.50" x2="164.00" y2="543.10" stroke="#222" stroke-width="1" />
<line x1="176.40" y1="539.50" x2="176.40" y2="543.10" stroke="#222" stroke-width="1" />
<line x1="188.80" y1="539.50" x2="188.80" y2="543.10" stroke="#222" stroke-width="1" />
<text x="0" y="0" font-size="9.5" text-anchor="middle" fill="#111" transform="translate(121.30,499.00) rotate(-90)">Cell number (/uL)</text>
<text x="0" y="0" font-size="9.8" text-anchor="end" fill="#111" transform="translate(158.10,551.90) rotate(-45)">Ctrl</text>
<text x="0" y="0" font-size="9.8" text-anchor="end" fill="#111" transform="translate(170.60,551.90) rotate(-45)">CD19 mCAR-T</text>
<text x="0" y="0" font-size="9.8" text-anchor="end" fill="#111" transform="translate(183.00,551.90) rotate(-45)">mC2 mCAR-T</text>
<text x="0" y="0" font-size="9.8" text-anchor="end" fill="#111" transform="translate(195.40,551.90) rotate(-45)">hC2 mCAR-T</text>
<line x1="147.50" y1="497.83" x2="155.50" y2="497.83" stroke="#111" stroke-width="1" />
<line x1="160.00" y1="499.15" x2="168.00" y2="499.15" stroke="#111" stroke-width="1" />
<line x1="172.40" y1="497.62" x2="180.40" y2="497.62" stroke="#111" stroke-width="1" />
<line x1="184.80" y1="488.63" x2="192.80" y2="488.63" stroke="#111" stroke-width="1" />
<circle cx="149.46" cy="497.83" r="2.2" fill="#999999" stroke="#111" stroke-width="0.85"/>
<circle cx="154.05" cy="500.17" r="2.2" fill="#999999" stroke="#111" stroke-width="0.85"/>
<circle cx="149.76" cy="502.42" r="2.2" fill="#999999" stroke="#111" stroke-width="0.85"/>
<circle cx="151.50" cy="484.04" r="2.2" fill="#999999" stroke="#111" stroke-width="0.85"/>
<circle cx="151.50" cy="488.12" r="2.2" fill="#999999" stroke="#111" stroke-width="0.85"/>
<circle cx="161.65" cy="482.30" r="2.2" fill="#0f8a4c" stroke="#111" stroke-width="0.85"/>
<circle cx="166.04" cy="482.30" r="2.2" fill="#0f8a4c" stroke="#111" stroke-width="0.85"/>
<circle cx="165.02" cy="499.15" r="2.2" fill="#0f8a4c" stroke="#111" stroke-width="0.85"/>
<circle cx="162.67" cy="501.20" r="2.2" fill="#0f8a4c" stroke="#111" stroke-width="0.85"/>
<circle cx="164.00" cy="499.87" r="2.2" fill="#0f8a4c" stroke="#111" stroke-width="0.85"/>
<circle cx="176.40" cy="472.49" r="2.2" fill="#ff2a0a" stroke="#111" stroke-width="0.85"/>
<circle cx="176.40" cy="484.34" r="2.2" fill="#ff2a0a" stroke="#111" stroke-width="0.85"/>
<circle cx="174.36" cy="497.62" r="2.2" fill="#ff2a0a" stroke="#111" stroke-width="0.85"/>
<circle cx="178.75" cy="499.66" r="2.2" fill="#ff2a0a" stroke="#111" stroke-width="0.85"/>
<circle cx="176.40" cy="510.90" r="2.2" fill="#ff2a0a" stroke="#111" stroke-width="0.85"/>
<circle cx="186.76" cy="478.42" r="2.2" fill="#1e96f0" stroke="#111" stroke-width="0.85"/>
<circle cx="189.11" cy="482.50" r="2.2" fill="#1e96f0" stroke="#111" stroke-width="0.85"/>
<circle cx="186.76" cy="489.14" r="2.2" fill="#1e96f0" stroke="#111" stroke-width="0.85"/>
<circle cx="189.11" cy="488.63" r="2.2" fill="#1e96f0" stroke="#111" stroke-width="0.85"/>
<circle cx="191.15" cy="489.14" r="2.2" fill="#1e96f0" stroke="#111" stroke-width="0.85"/>
<text transform="translate(266.30,447.30) skewX(0.5)" font-size="9.5" text-anchor="middle" fill="#111" >T cell</text>
<line x1="239.50" y1="458.00" x2="239.50" y2="540.00" stroke="#222" stroke-width="1.1" />
<line x1="239.00" y1="539.50" x2="292.80" y2="539.50" stroke="#222" stroke-width="1.1" />
<line x1="235.50" y1="539.50" x2="239.50" y2="539.50" stroke="#222" stroke-width="1" />
<text transform="translate(233.60,543.10) skewX(0.5)" font-size="10" text-anchor="end" fill="#111" >0</text>
<line x1="235.50" y1="512.50" x2="239.50" y2="512.50" stroke="#222" stroke-width="1" />
<text transform="translate(233.60,516.10) skewX(0.5)" font-size="10" text-anchor="end" fill="#111" >100</text>
<line x1="235.50" y1="485.50" x2="239.50" y2="485.50" stroke="#222" stroke-width="1" />
<text transform="translate(233.60,489.10) skewX(0.5)" font-size="10" text-anchor="end" fill="#111" >200</text>
<line x1="235.50" y1="458.50" x2="239.50" y2="458.50" stroke="#222" stroke-width="1" />
<text transform="translate(233.60,462.10) skewX(0.5)" font-size="10" text-anchor="end" fill="#111" >300</text>
<line x1="247.40" y1="539.50" x2="247.40" y2="543.10" stroke="#222" stroke-width="1" />
<line x1="259.90" y1="539.50" x2="259.90" y2="543.10" stroke="#222" stroke-width="1" />
<line x1="272.30" y1="539.50" x2="272.30" y2="543.10" stroke="#222" stroke-width="1" />
<line x1="284.70" y1="539.50" x2="284.70" y2="543.10" stroke="#222" stroke-width="1" />
<text x="0" y="0" font-size="9.5" text-anchor="middle" fill="#111" transform="translate(214.10,499.00) rotate(-90)">Cell number (/uL)</text>
<text x="0" y="0" font-size="9.8" text-anchor="end" fill="#111" transform="translate(254.00,551.90) rotate(-45)">Ctrl</text>
<text x="0" y="0" font-size="9.8" text-anchor="end" fill="#111" transform="translate(266.50,551.90) rotate(-45)">CD19 mCAR-T</text>
<text x="0" y="0" font-size="9.8" text-anchor="end" fill="#111" transform="translate(278.90,551.90) rotate(-45)">mC2 mCAR-T</text>
<text x="0" y="0" font-size="9.8" text-anchor="end" fill="#111" transform="translate(291.30,551.90) rotate(-45)">hC2 mCAR-T</text>
<line x1="243.40" y1="485.77" x2="251.40" y2="485.77" stroke="#111" stroke-width="1" />
<line x1="255.90" y1="485.06" x2="263.90" y2="485.06" stroke="#111" stroke-width="1" />
<line x1="268.30" y1="486.39" x2="276.30" y2="486.39" stroke="#111" stroke-width="1" />
<line x1="280.70" y1="489.14" x2="288.70" y2="489.14" stroke="#111" stroke-width="1" />
<circle cx="247.40" cy="475.86" r="2.2" fill="#999999" stroke="#111" stroke-width="0.85"/>
<circle cx="245.15" cy="485.77" r="2.2" fill="#999999" stroke="#111" stroke-width="0.85"/>
<circle cx="249.65" cy="483.22" r="2.2" fill="#999999" stroke="#111" stroke-width="0.85"/>
<circle cx="249.65" cy="488.84" r="2.2" fill="#999999" stroke="#111" stroke-width="0.85"/>
<circle cx="247.40" cy="497.01" r="2.2" fill="#999999" stroke="#111" stroke-width="0.85"/>
<circle cx="262.15" cy="481.18" r="2.2" fill="#0f8a4c" stroke="#111" stroke-width="0.85"/>
<circle cx="257.55" cy="484.34" r="2.2" fill="#0f8a4c" stroke="#111" stroke-width="0.85"/>
<circle cx="260.10" cy="485.06" r="2.2" fill="#0f8a4c" stroke="#111" stroke-width="0.85"/>
<circle cx="262.45" cy="485.77" r="2.2" fill="#0f8a4c" stroke="#111" stroke-width="0.85"/>
<circle cx="257.55" cy="488.43" r="2.2" fill="#0f8a4c" stroke="#111" stroke-width="0.85"/>
<circle cx="270.36" cy="484.55" r="2.2" fill="#ff2a0a" stroke="#111" stroke-width="0.85"/>
<circle cx="272.10" cy="483.53" r="2.2" fill="#ff2a0a" stroke="#111" stroke-width="0.85"/>
<circle cx="274.65" cy="486.39" r="2.2" fill="#ff2a0a" stroke="#111" stroke-width="0.85"/>
<circle cx="272.61" cy="487.41" r="2.2" fill="#ff2a0a" stroke="#111" stroke-width="0.85"/>
<circle cx="270.05" cy="488.43" r="2.2" fill="#ff2a0a" stroke="#111" stroke-width="0.85"/>
<circle cx="284.70" cy="479.95" r="2.2" fill="#1e96f0" stroke="#111" stroke-width="0.85"/>
<circle cx="284.70" cy="484.55" r="2.2" fill="#1e96f0" stroke="#111" stroke-width="0.85"/>
<circle cx="282.35" cy="489.86" r="2.2" fill="#1e96f0" stroke="#111" stroke-width="0.85"/>
<circle cx="284.70" cy="489.14" r="2.2" fill="#1e96f0" stroke="#111" stroke-width="0.85"/>
<circle cx="287.05" cy="489.86" r="2.2" fill="#1e96f0" stroke="#111" stroke-width="0.85"/>
<text transform="translate(363.40,447.30) skewX(0.5)" font-size="9.5" text-anchor="middle" fill="#111" >CD4+ T cell</text>
<line x1="335.90" y1="458.00" x2="335.90" y2="540.00" stroke="#222" stroke-width="1.1" />
<line x1="335.40" y1="539.50" x2="389.20" y2="539.50" stroke="#222" stroke-width="1.1" />
<line x1="331.90" y1="539.50" x2="335.90" y2="539.50" stroke="#222" stroke-width="1" />
<text transform="translate(329.70,543.10) skewX(0.5)" font-size="10" text-anchor="end" fill="#111" >0</text>
<line x1="331.90" y1="519.25" x2="335.90" y2="519.25" stroke="#222" stroke-width="1" />
<text transform="translate(329.70,522.85) skewX(0.5)" font-size="10" text-anchor="end" fill="#111" >50</text>
<line x1="331.90" y1="499.00" x2="335.90" y2="499.00" stroke="#222" stroke-width="1" />
<text transform="translate(329.70,502.60) skewX(0.5)" font-size="10" text-anchor="end" fill="#111" >100</text>
<line x1="331.90" y1="478.75" x2="335.90" y2="478.75" stroke="#222" stroke-width="1" />
<text transform="translate(329.70,482.35) skewX(0.5)" font-size="10" text-anchor="end" fill="#111" >150</text>
<line x1="331.90" y1="458.50" x2="335.90" y2="458.50" stroke="#222" stroke-width="1" />
<text transform="translate(329.70,462.10) skewX(0.5)" font-size="10" text-anchor="end" fill="#111" >200</text>
<line x1="343.80" y1="539.50" x2="343.80" y2="543.10" stroke="#222" stroke-width="1" />
<line x1="356.30" y1="539.50" x2="356.30" y2="543.10" stroke="#222" stroke-width="1" />
<line x1="368.70" y1="539.50" x2="368.70" y2="543.10" stroke="#222" stroke-width="1" />
<line x1="381.10" y1="539.50" x2="381.10" y2="543.10" stroke="#222" stroke-width="1" />
<text x="0" y="0" font-size="9.5" text-anchor="middle" fill="#111" transform="translate(310.80,499.00) rotate(-90)">Cell number (/uL)</text>
<text x="0" y="0" font-size="9.8" text-anchor="end" fill="#111" transform="translate(350.40,551.90) rotate(-45)">Ctrl</text>
<text x="0" y="0" font-size="9.8" text-anchor="end" fill="#111" transform="translate(362.90,551.90) rotate(-45)">CD19 mCAR-T</text>
<text x="0" y="0" font-size="9.8" text-anchor="end" fill="#111" transform="translate(375.30,551.90) rotate(-45)">mC2 mCAR-T</text>
<text x="0" y="0" font-size="9.8" text-anchor="end" fill="#111" transform="translate(387.70,551.90) rotate(-45)">hC2 mCAR-T</text>
<line x1="339.80" y1="484.55" x2="347.80" y2="484.55" stroke="#111" stroke-width="1" />
<line x1="352.30" y1="481.99" x2="360.30" y2="481.99" stroke="#111" stroke-width="1" />
<line x1="364.70" y1="479.95" x2="372.70" y2="479.95" stroke="#111" stroke-width="1" />
<line x1="377.10" y1="484.85" x2="385.10" y2="484.85" stroke="#111" stroke-width="1" />
<circle cx="343.80" cy="473.11" r="2.2" fill="#999999" stroke="#111" stroke-width="0.85"/>
<circle cx="343.80" cy="478.62" r="2.2" fill="#999999" stroke="#111" stroke-width="0.85"/>
<circle cx="341.55" cy="484.55" r="2.2" fill="#999999" stroke="#111" stroke-width="0.85"/>
<circle cx="346.05" cy="488.43" r="2.2" fill="#999999" stroke="#111" stroke-width="0.85"/>
<circle cx="343.80" cy="494.97" r="2.2" fill="#999999" stroke="#111" stroke-width="0.85"/>
<circle cx="354.05" cy="478.62" r="2.2" fill="#0f8a4c" stroke="#111" stroke-width="0.85"/>
<circle cx="356.81" cy="478.42" r="2.2" fill="#0f8a4c" stroke="#111" stroke-width="0.85"/>
<circle cx="358.85" cy="481.99" r="2.2" fill="#0f8a4c" stroke="#111" stroke-width="0.85"/>
<circle cx="356.30" cy="483.53" r="2.2" fill="#0f8a4c" stroke="#111" stroke-width="0.85"/>
<circle cx="356.30" cy="488.43" r="2.2" fill="#0f8a4c" stroke="#111" stroke-width="0.85"/>
<circle cx="366.66" cy="479.95" r="2.2" fill="#ff2a0a" stroke="#111" stroke-width="0.85"/>
<circle cx="371.25" cy="479.24" r="2.2" fill="#ff2a0a" stroke="#111" stroke-width="0.85"/>
<circle cx="369.21" cy="482.30" r="2.2" fill="#ff2a0a" stroke="#111" stroke-width="0.85"/>
<circle cx="368.19" cy="484.55" r="2.2" fill="#ff2a0a" stroke="#111" stroke-width="0.85"/>
<circle cx="368.70" cy="479.44" r="2.2" fill="#ff2a0a" stroke="#111" stroke-width="0.85"/>
<circle cx="381.10" cy="476.17" r="2.2" fill="#1e96f0" stroke="#111" stroke-width="0.85"/>
<circle cx="378.75" cy="482.30" r="2.2" fill="#1e96f0" stroke="#111" stroke-width="0.85"/>
<circle cx="383.35" cy="484.85" r="2.2" fill="#1e96f0" stroke="#111" stroke-width="0.85"/>
<circle cx="381.10" cy="485.57" r="2.2" fill="#1e96f0" stroke="#111" stroke-width="0.85"/>
<circle cx="381.10" cy="492.72" r="2.2" fill="#1e96f0" stroke="#111" stroke-width="0.85"/>
<text transform="translate(460.60,447.30) skewX(0.5)" font-size="9.5" text-anchor="middle" fill="#111" >CD8+ T cell</text>
<line x1="432.20" y1="458.00" x2="432.20" y2="540.00" stroke="#222" stroke-width="1.1" />
<line x1="431.70" y1="539.50" x2="485.50" y2="539.50" stroke="#222" stroke-width="1.1" />
<line x1="428.20" y1="539.50" x2="432.20" y2="539.50" stroke="#222" stroke-width="1" />
<text transform="translate(428.40,543.10) skewX(0.5)" font-size="10" text-anchor="end" fill="#111" >0</text>
<line x1="428.20" y1="512.50" x2="432.20" y2="512.50" stroke="#222" stroke-width="1" />
<text transform="translate(428.40,516.10) skewX(0.5)" font-size="10" text-anchor="end" fill="#111" >20</text>
<line x1="428.20" y1="485.50" x2="432.20" y2="485.50" stroke="#222" stroke-width="1" />
<text transform="translate(428.40,489.10) skewX(0.5)" font-size="10" text-anchor="end" fill="#111" >40</text>
<line x1="428.20" y1="458.50" x2="432.20" y2="458.50" stroke="#222" stroke-width="1" />
<text transform="translate(428.40,462.10) skewX(0.5)" font-size="10" text-anchor="end" fill="#111" >60</text>
<line x1="440.10" y1="539.50" x2="440.10" y2="543.10" stroke="#222" stroke-width="1" />
<line x1="452.60" y1="539.50" x2="452.60" y2="543.10" stroke="#222" stroke-width="1" />
<line x1="465.00" y1="539.50" x2="465.00" y2="543.10" stroke="#222" stroke-width="1" />
<line x1="477.40" y1="539.50" x2="477.40" y2="543.10" stroke="#222" stroke-width="1" />
<text x="0" y="0" font-size="9.5" text-anchor="middle" fill="#111" transform="translate(411.80,499.00) rotate(-90)">Cell number (/uL)</text>
<text x="0" y="0" font-size="9.8" text-anchor="end" fill="#111" transform="translate(446.70,551.90) rotate(-45)">Ctrl</text>
<text x="0" y="0" font-size="9.8" text-anchor="end" fill="#111" transform="translate(459.20,551.90) rotate(-45)">CD19 mCAR-T</text>
<text x="0" y="0" font-size="9.8" text-anchor="end" fill="#111" transform="translate(471.60,551.90) rotate(-45)">mC2 mCAR-T</text>
<text x="0" y="0" font-size="9.8" text-anchor="end" fill="#111" transform="translate(484.00,551.90) rotate(-45)">hC2 mCAR-T</text>
<line x1="436.10" y1="487.10" x2="444.10" y2="487.10" stroke="#111" stroke-width="1" />
<line x1="448.60" y1="479.44" x2="456.60" y2="479.44" stroke="#111" stroke-width="1" />
<line x1="461.00" y1="490.16" x2="469.00" y2="490.16" stroke="#111" stroke-width="1" />
<line x1="473.40" y1="471.57" x2="481.40" y2="471.57" stroke="#111" stroke-width="1" />
<circle cx="438.06" cy="470.96" r="2.2" fill="#999999" stroke="#111" stroke-width="0.85"/>
<circle cx="442.35" cy="473.11" r="2.2" fill="#999999" stroke="#111" stroke-width="0.85"/>
<circle cx="438.06" cy="487.10" r="2.2" fill="#999999" stroke="#111" stroke-width="0.85"/>
<circle cx="442.35" cy="489.65" r="2.2" fill="#999999" stroke="#111" stroke-width="0.85"/>
<circle cx="440.10" cy="494.97" r="2.2" fill="#999999" stroke="#111" stroke-width="0.85"/>
<circle cx="450.35" cy="475.56" r="2.2" fill="#0f8a4c" stroke="#111" stroke-width="0.85"/>
<circle cx="452.91" cy="475.35" r="2.2" fill="#0f8a4c" stroke="#111" stroke-width="0.85"/>
<circle cx="454.95" cy="479.44" r="2.2" fill="#0f8a4c" stroke="#111" stroke-width="0.85"/>
<circle cx="452.60" cy="481.99" r="2.2" fill="#0f8a4c" stroke="#111" stroke-width="0.85"/>
<circle cx="452.60" cy="486.79" r="2.2" fill="#0f8a4c" stroke="#111" stroke-width="0.85"/>
<circle cx="465.00" cy="480.26" r="2.2" fill="#ff2a0a" stroke="#111" stroke-width="0.85"/>
<circle cx="462.96" cy="490.16" r="2.2" fill="#ff2a0a" stroke="#111" stroke-width="0.85"/>
<circle cx="467.25" cy="488.33" r="2.2" fill="#ff2a0a" stroke="#111" stroke-width="0.85"/>
<circle cx="467.25" cy="494.25" r="2.2" fill="#ff2a0a" stroke="#111" stroke-width="0.85"/>
<circle cx="462.96" cy="497.62" r="2.2" fill="#ff2a0a" stroke="#111" stroke-width="0.85"/>
<circle cx="475.36" cy="467.69" r="2.2" fill="#1e96f0" stroke="#111" stroke-width="0.85"/>
<circle cx="479.65" cy="469.43" r="2.2" fill="#1e96f0" stroke="#111" stroke-width="0.85"/>
<circle cx="477.40" cy="471.57" r="2.2" fill="#1e96f0" stroke="#111" stroke-width="0.85"/>
<circle cx="477.40" cy="484.24" r="2.2" fill="#1e96f0" stroke="#111" stroke-width="0.85"/>
<circle cx="477.40" cy="491.39" r="2.2" fill="#1e96f0" stroke="#111" stroke-width="0.85"/>
<text transform="translate(555.10,447.30) skewX(0.5)" font-size="9.5" text-anchor="middle" fill="#111" >B cell</text>
<line x1="528.40" y1="458.00" x2="528.40" y2="540.00" stroke="#222" stroke-width="1.1" />
<line x1="527.90" y1="539.50" x2="581.70" y2="539.50" stroke="#222" stroke-width="1.1" />
<line x1="524.40" y1="539.50" x2="528.40" y2="539.50" stroke="#222" stroke-width="1" />
<text transform="translate(522.60,543.10) skewX(0.5)" font-size="10" text-anchor="end" fill="#111" >0</text>
<line x1="524.40" y1="512.50" x2="528.40" y2="512.50" stroke="#222" stroke-width="1" />
<text transform="translate(522.60,516.10) skewX(0.5)" font-size="10" text-anchor="end" fill="#111" >100</text>
<line x1="524.40" y1="485.50" x2="528.40" y2="485.50" stroke="#222" stroke-width="1" />
<text transform="translate(522.60,489.10) skewX(0.5)" font-size="10" text-anchor="end" fill="#111" >200</text>
<line x1="524.40" y1="458.50" x2="528.40" y2="458.50" stroke="#222" stroke-width="1" />
<text transform="translate(522.60,462.10) skewX(0.5)" font-size="10" text-anchor="end" fill="#111" >300</text>
<line x1="536.30" y1="539.50" x2="536.30" y2="543.10" stroke="#222" stroke-width="1" />
<line x1="548.80" y1="539.50" x2="548.80" y2="543.10" stroke="#222" stroke-width="1" />
<line x1="561.20" y1="539.50" x2="561.20" y2="543.10" stroke="#222" stroke-width="1" />
<line x1="573.60" y1="539.50" x2="573.60" y2="543.10" stroke="#222" stroke-width="1" />
<text x="0" y="0" font-size="9.5" text-anchor="middle" fill="#111" transform="translate(504.30,499.00) rotate(-90)">Cell number (/uL)</text>
<text x="0" y="0" font-size="9.8" text-anchor="end" fill="#111" transform="translate(542.90,551.90) rotate(-45)">Ctrl</text>
<text x="0" y="0" font-size="9.8" text-anchor="end" fill="#111" transform="translate(555.40,551.90) rotate(-45)">CD19 mCAR-T</text>
<text x="0" y="0" font-size="9.8" text-anchor="end" fill="#111" transform="translate(567.80,551.90) rotate(-45)">mC2 mCAR-T</text>
<text x="0" y="0" font-size="9.8" text-anchor="end" fill="#111" transform="translate(580.20,551.90) rotate(-45)">hC2 mCAR-T</text>
<line x1="532.30" y1="488.10" x2="540.30" y2="488.10" stroke="#111" stroke-width="1" />
<line x1="544.80" y1="539.29" x2="552.80" y2="539.29" stroke="#111" stroke-width="1" />
<line x1="557.20" y1="488.62" x2="565.20" y2="488.62" stroke="#111" stroke-width="1" />
<line x1="569.60" y1="484.51" x2="577.60" y2="484.51" stroke="#111" stroke-width="1" />
<circle cx="534.25" cy="477.62" r="2.2" fill="#999999" stroke="#111" stroke-width="0.85"/>
<circle cx="538.87" cy="479.37" r="2.2" fill="#999999" stroke="#111" stroke-width="0.85"/>
<circle cx="536.30" cy="488.10" r="2.2" fill="#999999" stroke="#111" stroke-width="0.85"/>
<circle cx="538.87" cy="495.61" r="2.2" fill="#999999" stroke="#111" stroke-width="0.85"/>
<circle cx="534.25" cy="496.84" r="2.2" fill="#999999" stroke="#111" stroke-width="0.85"/>
<circle cx="547.77" cy="537.96" r="2.2" fill="#0f8a4c" stroke="#111" stroke-width="0.85"/>
<circle cx="549.83" cy="538.99" r="2.2" fill="#0f8a4c" stroke="#111" stroke-width="0.85"/>
<circle cx="547.26" cy="539.29" r="2.2" fill="#0f8a4c" stroke="#111" stroke-width="0.85"/>
<circle cx="551.37" cy="539.50" r="2.2" fill="#0f8a4c" stroke="#111" stroke-width="0.85"/>
<circle cx="549.31" cy="539.71" r="2.2" fill="#0f8a4c" stroke="#111" stroke-width="0.85"/>
<circle cx="561.20" cy="474.23" r="2.2" fill="#ff2a0a" stroke="#111" stroke-width="0.85"/>
<circle cx="561.20" cy="480.09" r="2.2" fill="#ff2a0a" stroke="#111" stroke-width="0.85"/>
<circle cx="561.20" cy="488.62" r="2.2" fill="#ff2a0a" stroke="#111" stroke-width="0.85"/>
<circle cx="561.20" cy="497.56" r="2.2" fill="#ff2a0a" stroke="#111" stroke-width="0.85"/>
<circle cx="561.20" cy="503.32" r="2.2" fill="#ff2a0a" stroke="#111" stroke-width="0.85"/>
<circle cx="572.68" cy="475.26" r="2.2" fill="#1e96f0" stroke="#111" stroke-width="0.85"/>
<circle cx="574.42" cy="477.00" r="2.2" fill="#1e96f0" stroke="#111" stroke-width="0.85"/>
<circle cx="573.60" cy="484.51" r="2.2" fill="#1e96f0" stroke="#111" stroke-width="0.85"/>
<circle cx="571.34" cy="486.87" r="2.2" fill="#1e96f0" stroke="#111" stroke-width="0.85"/>
<circle cx="575.76" cy="486.05" r="2.2" fill="#1e96f0" stroke="#111" stroke-width="0.85"/>
<text transform="translate(531.80,459.20) scale(0.87,1) skewX(0.5)" font-size="8.8" fill="#111"><tspan font-style="italic">p</tspan><0.0001</text>
<line x1="537.20" y1="461.60" x2="550.80" y2="461.60" stroke="#555" stroke-width="1.3" />
<text transform="translate(653.00,447.30) skewX(0.5)" font-size="9.5" text-anchor="middle" fill="#111" >NK cell</text>
<line x1="624.50" y1="458.00" x2="624.50" y2="540.00" stroke="#222" stroke-width="1.1" />
<line x1="624.00" y1="539.50" x2="677.80" y2="539.50" stroke="#222" stroke-width="1.1" />
<line x1="620.50" y1="539.50" x2="624.50" y2="539.50" stroke="#222" stroke-width="1" />
<text transform="translate(620.00,543.10) skewX(0.5)" font-size="10" text-anchor="end" fill="#111" >0</text>
<line x1="620.50" y1="519.25" x2="624.50" y2="519.25" stroke="#222" stroke-width="1" />
<text transform="translate(620.00,522.85) skewX(0.5)" font-size="10" text-anchor="end" fill="#111" >20</text>
<line x1="620.50" y1="499.00" x2="624.50" y2="499.00" stroke="#222" stroke-width="1" />
<text transform="translate(620.00,502.60) skewX(0.5)" font-size="10" text-anchor="end" fill="#111" >40</text>
<line x1="620.50" y1="478.75" x2="624.50" y2="478.75" stroke="#222" stroke-width="1" />
<text transform="translate(620.00,482.35) skewX(0.5)" font-size="10" text-anchor="end" fill="#111" >60</text>
<line x1="620.50" y1="458.50" x2="624.50" y2="458.50" stroke="#222" stroke-width="1" />
<text transform="translate(620.00,462.10) skewX(0.5)" font-size="10" text-anchor="end" fill="#111" >80</text>
<line x1="632.40" y1="539.50" x2="632.40" y2="543.10" stroke="#222" stroke-width="1" />
<line x1="644.90" y1="539.50" x2="644.90" y2="543.10" stroke="#222" stroke-width="1" />
<line x1="657.30" y1="539.50" x2="657.30" y2="543.10" stroke="#222" stroke-width="1" />
<line x1="669.70" y1="539.50" x2="669.70" y2="543.10" stroke="#222" stroke-width="1" />
<text x="0" y="0" font-size="9.5" text-anchor="middle" fill="#111" transform="translate(605.30,499.00) rotate(-90)">Cell number (/uL)</text>
<text x="0" y="0" font-size="9.8" text-anchor="end" fill="#111" transform="translate(639.00,551.90) rotate(-45)">Ctrl</text>
<text x="0" y="0" font-size="9.8" text-anchor="end" fill="#111" transform="translate(651.50,551.90) rotate(-45)">CD19 mCAR-T</text>
<text x="0" y="0" font-size="9.8" text-anchor="end" fill="#111" transform="translate(663.90,551.90) rotate(-45)">mC2 mCAR-T</text>
<text x="0" y="0" font-size="9.8" text-anchor="end" fill="#111" transform="translate(676.30,551.90) rotate(-45)">hC2 mCAR-T</text>
<line x1="628.40" y1="492.92" x2="636.40" y2="492.92" stroke="#111" stroke-width="1" />
<line x1="640.90" y1="487.41" x2="648.90" y2="487.41" stroke="#111" stroke-width="1" />
<line x1="653.30" y1="501.91" x2="661.30" y2="501.91" stroke="#111" stroke-width="1" />
<line x1="665.70" y1="485.06" x2="673.70" y2="485.06" stroke="#111" stroke-width="1" />
<circle cx="630.36" cy="489.96" r="2.2" fill="#999999" stroke="#111" stroke-width="0.85"/>
<circle cx="634.75" cy="489.96" r="2.2" fill="#999999" stroke="#111" stroke-width="0.85"/>
<circle cx="632.60" cy="492.92" r="2.2" fill="#999999" stroke="#111" stroke-width="0.85"/>
<circle cx="630.36" cy="496.29" r="2.2" fill="#999999" stroke="#111" stroke-width="0.85"/>
<circle cx="634.75" cy="494.76" r="2.2" fill="#999999" stroke="#111" stroke-width="0.85"/>
<circle cx="642.86" cy="484.04" r="2.2" fill="#0f8a4c" stroke="#111" stroke-width="0.85"/>
<circle cx="645.00" cy="483.32" r="2.2" fill="#0f8a4c" stroke="#111" stroke-width="0.85"/>
<circle cx="647.25" cy="487.41" r="2.2" fill="#0f8a4c" stroke="#111" stroke-width="0.85"/>
<circle cx="645.00" cy="488.63" r="2.2" fill="#0f8a4c" stroke="#111" stroke-width="0.85"/>
<circle cx="645.00" cy="503.75" r="2.2" fill="#0f8a4c" stroke="#111" stroke-width="0.85"/>
<circle cx="657.30" cy="492.51" r="2.2" fill="#ff2a0a" stroke="#111" stroke-width="0.85"/>
<circle cx="655.26" cy="499.66" r="2.2" fill="#ff2a0a" stroke="#111" stroke-width="0.85"/>
<circle cx="659.55" cy="502.12" r="2.2" fill="#ff2a0a" stroke="#111" stroke-width="0.85"/>
<circle cx="655.26" cy="505.79" r="2.2" fill="#ff2a0a" stroke="#111" stroke-width="0.85"/>
<circle cx="657.30" cy="501.91" r="2.2" fill="#ff2a0a" stroke="#111" stroke-width="0.85"/>
<circle cx="667.45" cy="476.58" r="2.2" fill="#1e96f0" stroke="#111" stroke-width="0.85"/>
<circle cx="672.05" cy="477.91" r="2.2" fill="#1e96f0" stroke="#111" stroke-width="0.85"/>
<circle cx="667.45" cy="485.06" r="2.2" fill="#1e96f0" stroke="#111" stroke-width="0.85"/>
<circle cx="672.05" cy="485.26" r="2.2" fill="#1e96f0" stroke="#111" stroke-width="0.85"/>
<circle cx="669.70" cy="492.51" r="2.2" fill="#1e96f0" stroke="#111" stroke-width="0.85"/>
<text transform="translate(0.30,619.60) skewX(0.5)" font-size="16" text-anchor="start" font-weight="bold" fill="#000" >h</text>
<text transform="translate(360.00,615.50) skewX(0.5)" font-size="9.5" text-anchor="middle" fill="#111" >Spleen</text>
<line x1="51.40" y1="624.40" x2="665.50" y2="624.40" stroke="#222" stroke-width="1.1" />
<text transform="translate(76.60,639.30) skewX(0.5)" font-size="9.5" text-anchor="middle" fill="#111" >Granulocyte</text>
<line x1="47.50" y1="648.00" x2="47.50" y2="730.00" stroke="#222" stroke-width="1.1" />
<line x1="47.00" y1="729.50" x2="100.80" y2="729.50" stroke="#222" stroke-width="1.1" />
<line x1="43.50" y1="729.50" x2="47.50" y2="729.50" stroke="#222" stroke-width="1" />
<text transform="translate(42.70,733.10) skewX(0.5)" font-size="10" text-anchor="end" fill="#111" >0</text>
<line x1="43.50" y1="702.50" x2="47.50" y2="702.50" stroke="#222" stroke-width="1" />
<text transform="translate(42.70,706.10) skewX(0.5)" font-size="10" text-anchor="end" fill="#111" >2</text>
<line x1="43.50" y1="675.50" x2="47.50" y2="675.50" stroke="#222" stroke-width="1" />
<text transform="translate(42.70,679.10) skewX(0.5)" font-size="10" text-anchor="end" fill="#111" >4</text>
<line x1="43.50" y1="648.50" x2="47.50" y2="648.50" stroke="#222" stroke-width="1" />
<text transform="translate(42.70,652.10) skewX(0.5)" font-size="10" text-anchor="end" fill="#111" >6</text>
<line x1="55.40" y1="729.50" x2="55.40" y2="733.10" stroke="#222" stroke-width="1" />
<line x1="67.90" y1="729.50" x2="67.90" y2="733.10" stroke="#222" stroke-width="1" />
<line x1="80.30" y1="729.50" x2="80.30" y2="733.10" stroke="#222" stroke-width="1" />
<line x1="92.70" y1="729.50" x2="92.70" y2="733.10" stroke="#222" stroke-width="1" />
<text x="0" y="0" font-size="9.5" text-anchor="middle" fill="#111" transform="translate(33.00,689.00) rotate(-90)">Cell number (x10<tspan font-size="6" dy="-3.5">6</tspan><tspan dy="3.5">)</tspan></text>
<text x="0" y="0" font-size="9.8" text-anchor="end" fill="#111" transform="translate(62.00,741.90) rotate(-45)">Ctrl</text>
<text x="0" y="0" font-size="9.8" text-anchor="end" fill="#111" transform="translate(74.50,741.90) rotate(-45)">CD19 mCAR-T</text>
<text x="0" y="0" font-size="9.8" text-anchor="end" fill="#111" transform="translate(86.90,741.90) rotate(-45)">mC2 mCAR-T</text>
<text x="0" y="0" font-size="9.8" text-anchor="end" fill="#111" transform="translate(99.30,741.90) rotate(-45)">hC2 mCAR-T</text>
<line x1="51.40" y1="682.58" x2="59.40" y2="682.58" stroke="#111" stroke-width="1" />
<line x1="63.90" y1="677.15" x2="71.90" y2="677.15" stroke="#111" stroke-width="1" />
<line x1="76.30" y1="674.84" x2="84.30" y2="674.84" stroke="#111" stroke-width="1" />
<line x1="88.70" y1="668.59" x2="96.70" y2="668.59" stroke="#111" stroke-width="1" />
<circle cx="55.40" cy="665.13" r="2.2" fill="#999999" stroke="#111" stroke-width="0.85"/>
<circle cx="55.40" cy="676.32" r="2.2" fill="#999999" stroke="#111" stroke-width="0.85"/>
<circle cx="52.44" cy="682.58" r="2.2" fill="#999999" stroke="#111" stroke-width="0.85"/>
<circle cx="57.04" cy="686.20" r="2.2" fill="#999999" stroke="#111" stroke-width="0.85"/>
<circle cx="52.94" cy="687.02" r="2.2" fill="#999999" stroke="#111" stroke-width="0.85"/>
<circle cx="67.90" cy="661.01" r="2.2" fill="#0f8a4c" stroke="#111" stroke-width="0.85"/>
<circle cx="65.77" cy="676.32" r="2.2" fill="#0f8a4c" stroke="#111" stroke-width="0.85"/>
<circle cx="70.69" cy="678.46" r="2.2" fill="#0f8a4c" stroke="#111" stroke-width="0.85"/>
<circle cx="67.90" cy="677.15" r="2.2" fill="#0f8a4c" stroke="#111" stroke-width="0.85"/>
<circle cx="65.77" cy="681.26" r="2.2" fill="#0f8a4c" stroke="#111" stroke-width="0.85"/>
<circle cx="80.30" cy="667.27" r="2.2" fill="#ff2a0a" stroke="#111" stroke-width="0.85"/>
<circle cx="80.30" cy="673.85" r="2.2" fill="#ff2a0a" stroke="#111" stroke-width="0.85"/>
<circle cx="78.17" cy="676.49" r="2.2" fill="#ff2a0a" stroke="#111" stroke-width="0.85"/>
<circle cx="82.60" cy="675.83" r="2.2" fill="#ff2a0a" stroke="#111" stroke-width="0.85"/>
<circle cx="90.57" cy="665.29" r="2.2" fill="#1e96f0" stroke="#111" stroke-width="0.85"/>
<circle cx="95.16" cy="666.45" r="2.2" fill="#1e96f0" stroke="#111" stroke-width="0.85"/>
<circle cx="93.03" cy="668.59" r="2.2" fill="#1e96f0" stroke="#111" stroke-width="0.85"/>
<circle cx="93.03" cy="673.85" r="2.2" fill="#1e96f0" stroke="#111" stroke-width="0.85"/>
<circle cx="91.39" cy="676.82" r="2.2" fill="#1e96f0" stroke="#111" stroke-width="0.85"/>
<text transform="translate(171.00,639.30) skewX(0.5)" font-size="9.5" text-anchor="middle" fill="#111" >Monocyte</text>
<line x1="143.60" y1="648.00" x2="143.60" y2="730.00" stroke="#222" stroke-width="1.1" />
<line x1="143.10" y1="729.50" x2="196.90" y2="729.50" stroke="#222" stroke-width="1.1" />
<line x1="139.60" y1="729.50" x2="143.60" y2="729.50" stroke="#222" stroke-width="1" />
<text transform="translate(138.60,733.10) skewX(0.5)" font-size="10" text-anchor="end" fill="#111" >0</text>
<line x1="139.60" y1="709.25" x2="143.60" y2="709.25" stroke="#222" stroke-width="1" />
<text transform="translate(138.60,712.85) skewX(0.5)" font-size="10" text-anchor="end" fill="#111" >1</text>
<line x1="139.60" y1="689.00" x2="143.60" y2="689.00" stroke="#222" stroke-width="1" />
<text transform="translate(138.60,692.60) skewX(0.5)" font-size="10" text-anchor="end" fill="#111" >2</text>
<line x1="139.60" y1="668.75" x2="143.60" y2="668.75" stroke="#222" stroke-width="1" />
<text transform="translate(138.60,672.35) skewX(0.5)" font-size="10" text-anchor="end" fill="#111" >3</text>
<line x1="139.60" y1="648.50" x2="143.60" y2="648.50" stroke="#222" stroke-width="1" />
<text transform="translate(138.60,652.10) skewX(0.5)" font-size="10" text-anchor="end" fill="#111" >4</text>
<line x1="151.50" y1="729.50" x2="151.50" y2="733.10" stroke="#222" stroke-width="1" />
<line x1="164.00" y1="729.50" x2="164.00" y2="733.10" stroke="#222" stroke-width="1" />
<line x1="176.40" y1="729.50" x2="176.40" y2="733.10" stroke="#222" stroke-width="1" />
<line x1="188.80" y1="729.50" x2="188.80" y2="733.10" stroke="#222" stroke-width="1" />
<text x="0" y="0" font-size="9.5" text-anchor="middle" fill="#111" transform="translate(129.40,689.00) rotate(-90)">Cell number (x10<tspan font-size="6" dy="-3.5">6</tspan><tspan dy="3.5">)</tspan></text>
<text x="0" y="0" font-size="9.8" text-anchor="end" fill="#111" transform="translate(158.10,741.90) rotate(-45)">Ctrl</text>
<text x="0" y="0" font-size="9.8" text-anchor="end" fill="#111" transform="translate(170.60,741.90) rotate(-45)">CD19 mCAR-T</text>
<text x="0" y="0" font-size="9.8" text-anchor="end" fill="#111" transform="translate(183.00,741.90) rotate(-45)">mC2 mCAR-T</text>
<text x="0" y="0" font-size="9.8" text-anchor="end" fill="#111" transform="translate(195.40,741.90) rotate(-45)">hC2 mCAR-T</text>
<line x1="147.50" y1="683.45" x2="155.50" y2="683.45" stroke="#111" stroke-width="1" />
<line x1="160.00" y1="678.35" x2="168.00" y2="678.35" stroke="#111" stroke-width="1" />
<line x1="172.40" y1="674.99" x2="180.40" y2="674.99" stroke="#111" stroke-width="1" />
<line x1="184.80" y1="671.22" x2="192.80" y2="671.22" stroke="#111" stroke-width="1" />
<circle cx="151.81" cy="670.92" r="2.2" fill="#999999" stroke="#111" stroke-width="0.85"/>
<circle cx="151.81" cy="678.35" r="2.2" fill="#999999" stroke="#111" stroke-width="0.85"/>
<circle cx="149.46" cy="683.45" r="2.2" fill="#999999" stroke="#111" stroke-width="0.85"/>
<circle cx="154.05" cy="684.98" r="2.2" fill="#999999" stroke="#111" stroke-width="0.85"/>
<circle cx="151.81" cy="689.76" r="2.2" fill="#999999" stroke="#111" stroke-width="0.85"/>
<circle cx="164.00" cy="669.90" r="2.2" fill="#0f8a4c" stroke="#111" stroke-width="0.85"/>
<circle cx="161.96" cy="675.81" r="2.2" fill="#0f8a4c" stroke="#111" stroke-width="0.85"/>
<circle cx="164.31" cy="678.35" r="2.2" fill="#0f8a4c" stroke="#111" stroke-width="0.85"/>
<circle cx="166.55" cy="679.37" r="2.2" fill="#0f8a4c" stroke="#111" stroke-width="0.85"/>
<circle cx="161.96" cy="682.43" r="2.2" fill="#0f8a4c" stroke="#111" stroke-width="0.85"/>
<circle cx="174.36" cy="673.26" r="2.2" fill="#ff2a0a" stroke="#111" stroke-width="0.85"/>
<circle cx="176.71" cy="672.75" r="2.2" fill="#ff2a0a" stroke="#111" stroke-width="0.85"/>
<circle cx="178.75" cy="674.99" r="2.2" fill="#ff2a0a" stroke="#111" stroke-width="0.85"/>
<circle cx="176.40" cy="683.75" r="2.2" fill="#ff2a0a" stroke="#111" stroke-width="0.85"/>
<circle cx="176.40" cy="688.03" r="2.2" fill="#ff2a0a" stroke="#111" stroke-width="0.85"/>
<circle cx="186.76" cy="663.38" r="2.2" fill="#1e96f0" stroke="#111" stroke-width="0.85"/>
<circle cx="190.95" cy="662.56" r="2.2" fill="#1e96f0" stroke="#111" stroke-width="0.85"/>
<circle cx="186.76" cy="671.22" r="2.2" fill="#1e96f0" stroke="#111" stroke-width="0.85"/>
<circle cx="190.95" cy="674.99" r="2.2" fill="#1e96f0" stroke="#111" stroke-width="0.85"/>
<circle cx="186.76" cy="678.35" r="2.2" fill="#1e96f0" stroke="#111" stroke-width="0.85"/>
<text transform="translate(266.30,639.30) skewX(0.5)" font-size="9.5" text-anchor="middle" fill="#111" >T cell</text>
<line x1="239.50" y1="648.00" x2="239.50" y2="730.00" stroke="#222" stroke-width="1.1" />
<line x1="239.00" y1="729.50" x2="292.80" y2="729.50" stroke="#222" stroke-width="1.1" />
<line x1="235.50" y1="729.50" x2="239.50" y2="729.50" stroke="#222" stroke-width="1" />
<text transform="translate(234.00,733.10) skewX(0.5)" font-size="10" text-anchor="end" fill="#111" >0</text>
<line x1="235.50" y1="709.25" x2="239.50" y2="709.25" stroke="#222" stroke-width="1" />
<text transform="translate(234.00,712.85) skewX(0.5)" font-size="10" text-anchor="end" fill="#111" >5</text>
<line x1="235.50" y1="689.00" x2="239.50" y2="689.00" stroke="#222" stroke-width="1" />
<text transform="translate(234.00,692.60) skewX(0.5)" font-size="10" text-anchor="end" fill="#111" >10</text>
<line x1="235.50" y1="668.75" x2="239.50" y2="668.75" stroke="#222" stroke-width="1" />
<text transform="translate(234.00,672.35) skewX(0.5)" font-size="10" text-anchor="end" fill="#111" >15</text>
<line x1="235.50" y1="648.50" x2="239.50" y2="648.50" stroke="#222" stroke-width="1" />
<text transform="translate(234.00,652.10) skewX(0.5)" font-size="10" text-anchor="end" fill="#111" >20</text>
<line x1="247.40" y1="729.50" x2="247.40" y2="733.10" stroke="#222" stroke-width="1" />
<line x1="259.90" y1="729.50" x2="259.90" y2="733.10" stroke="#222" stroke-width="1" />
<line x1="272.30" y1="729.50" x2="272.30" y2="733.10" stroke="#222" stroke-width="1" />
<line x1="284.70" y1="729.50" x2="284.70" y2="733.10" stroke="#222" stroke-width="1" />
<text x="0" y="0" font-size="9.5" text-anchor="middle" fill="#111" transform="translate(220.50,689.00) rotate(-90)">Cell number (x10<tspan font-size="6" dy="-3.5">6</tspan><tspan dy="3.5">)</tspan></text>
<text x="0" y="0" font-size="9.8" text-anchor="end" fill="#111" transform="translate(254.00,741.90) rotate(-45)">Ctrl</text>
<text x="0" y="0" font-size="9.8" text-anchor="end" fill="#111" transform="translate(266.50,741.90) rotate(-45)">CD19 mCAR-T</text>
<text x="0" y="0" font-size="9.8" text-anchor="end" fill="#111" transform="translate(278.90,741.90) rotate(-45)">mC2 mCAR-T</text>
<text x="0" y="0" font-size="9.8" text-anchor="end" fill="#111" transform="translate(291.30,741.90) rotate(-45)">hC2 mCAR-T</text>
<line x1="243.40" y1="670.00" x2="251.40" y2="670.00" stroke="#111" stroke-width="1" />
<line x1="255.90" y1="667.96" x2="263.90" y2="667.96" stroke="#111" stroke-width="1" />
<line x1="268.30" y1="668.01" x2="276.30" y2="668.01" stroke="#111" stroke-width="1" />
<line x1="280.70" y1="668.47" x2="288.70" y2="668.47" stroke="#111" stroke-width="1" />
<circle cx="247.40" cy="665.62" r="2.2" fill="#999999" stroke="#111" stroke-width="0.85"/>
<circle cx="245.15" cy="670.00" r="2.2" fill="#999999" stroke="#111" stroke-width="0.85"/>
<circle cx="249.65" cy="670.00" r="2.2" fill="#999999" stroke="#111" stroke-width="0.85"/>
<circle cx="247.40" cy="677.03" r="2.2" fill="#999999" stroke="#111" stroke-width="0.85"/>
<circle cx="247.40" cy="681.41" r="2.2" fill="#999999" stroke="#111" stroke-width="0.85"/>
<circle cx="257.55" cy="662.56" r="2.2" fill="#0f8a4c" stroke="#111" stroke-width="0.85"/>
<circle cx="262.15" cy="665.82" r="2.2" fill="#0f8a4c" stroke="#111" stroke-width="0.85"/>
<circle cx="257.55" cy="667.96" r="2.2" fill="#0f8a4c" stroke="#111" stroke-width="0.85"/>
<circle cx="262.15" cy="671.53" r="2.2" fill="#0f8a4c" stroke="#111" stroke-width="0.85"/>
<circle cx="257.55" cy="675.30" r="2.2" fill="#0f8a4c" stroke="#111" stroke-width="0.85"/>
<circle cx="270.36" cy="665.62" r="2.2" fill="#ff2a0a" stroke="#111" stroke-width="0.85"/>
<circle cx="274.65" cy="667.15" r="2.2" fill="#ff2a0a" stroke="#111" stroke-width="0.85"/>
<circle cx="272.91" cy="668.88" r="2.2" fill="#ff2a0a" stroke="#111" stroke-width="0.85"/>
<circle cx="272.40" cy="679.68" r="2.2" fill="#ff2a0a" stroke="#111" stroke-width="0.85"/>
<circle cx="282.66" cy="659.20" r="2.2" fill="#1e96f0" stroke="#111" stroke-width="0.85"/>
<circle cx="287.05" cy="662.36" r="2.2" fill="#1e96f0" stroke="#111" stroke-width="0.85"/>
<circle cx="284.70" cy="668.47" r="2.2" fill="#1e96f0" stroke="#111" stroke-width="0.85"/>
<circle cx="284.70" cy="673.77" r="2.2" fill="#1e96f0" stroke="#111" stroke-width="0.85"/>
<circle cx="284.70" cy="682.94" r="2.2" fill="#1e96f0" stroke="#111" stroke-width="0.85"/>
<text transform="translate(363.40,639.30) skewX(0.5)" font-size="9.5" text-anchor="middle" fill="#111" >CD4+ T cell</text>
<line x1="335.90" y1="648.00" x2="335.90" y2="730.00" stroke="#222" stroke-width="1.1" />
<line x1="335.40" y1="729.50" x2="389.20" y2="729.50" stroke="#222" stroke-width="1.1" />
<line x1="331.90" y1="729.50" x2="335.90" y2="729.50" stroke="#222" stroke-width="1" />
<text transform="translate(331.00,733.10) skewX(0.5)" font-size="10" text-anchor="end" fill="#111" >0</text>
<line x1="331.90" y1="702.50" x2="335.90" y2="702.50" stroke="#222" stroke-width="1" />
<text transform="translate(331.00,706.10) skewX(0.5)" font-size="10" text-anchor="end" fill="#111" >5</text>
<line x1="331.90" y1="675.50" x2="335.90" y2="675.50" stroke="#222" stroke-width="1" />
<text transform="translate(331.00,679.10) skewX(0.5)" font-size="10" text-anchor="end" fill="#111" >10</text>
<line x1="331.90" y1="648.50" x2="335.90" y2="648.50" stroke="#222" stroke-width="1" />
<text transform="translate(331.00,652.10) skewX(0.5)" font-size="10" text-anchor="end" fill="#111" >15</text>
<line x1="343.80" y1="729.50" x2="343.80" y2="733.10" stroke="#222" stroke-width="1" />
<line x1="356.30" y1="729.50" x2="356.30" y2="733.10" stroke="#222" stroke-width="1" />
<line x1="368.70" y1="729.50" x2="368.70" y2="733.10" stroke="#222" stroke-width="1" />
<line x1="381.10" y1="729.50" x2="381.10" y2="733.10" stroke="#222" stroke-width="1" />
<text x="0" y="0" font-size="9.5" text-anchor="middle" fill="#111" transform="translate(317.80,689.00) rotate(-90)">Cell number (x10<tspan font-size="6" dy="-3.5">6</tspan><tspan dy="3.5">)</tspan></text>
<text x="0" y="0" font-size="9.8" text-anchor="end" fill="#111" transform="translate(350.40,741.90) rotate(-45)">Ctrl</text>
<text x="0" y="0" font-size="9.8" text-anchor="end" fill="#111" transform="translate(362.90,741.90) rotate(-45)">CD19 mCAR-T</text>
<text x="0" y="0" font-size="9.8" text-anchor="end" fill="#111" transform="translate(375.30,741.90) rotate(-45)">mC2 mCAR-T</text>
<text x="0" y="0" font-size="9.8" text-anchor="end" fill="#111" transform="translate(387.70,741.90) rotate(-45)">hC2 mCAR-T</text>
<line x1="339.80" y1="675.30" x2="347.80" y2="675.30" stroke="#111" stroke-width="1" />
<line x1="352.30" y1="672.55" x2="360.30" y2="672.55" stroke="#111" stroke-width="1" />
<line x1="364.70" y1="670.51" x2="372.70" y2="670.51" stroke="#111" stroke-width="1" />
<line x1="377.10" y1="668.98" x2="385.10" y2="668.98" stroke="#111" stroke-width="1" />
<circle cx="343.80" cy="668.67" r="2.2" fill="#999999" stroke="#111" stroke-width="0.85"/>
<circle cx="341.55" cy="675.30" r="2.2" fill="#999999" stroke="#111" stroke-width="0.85"/>
<circle cx="346.05" cy="674.79" r="2.2" fill="#999999" stroke="#111" stroke-width="0.85"/>
<circle cx="341.55" cy="685.48" r="2.2" fill="#999999" stroke="#111" stroke-width="0.85"/>
<circle cx="346.05" cy="685.48" r="2.2" fill="#999999" stroke="#111" stroke-width="0.85"/>
<circle cx="356.30" cy="664.29" r="2.2" fill="#0f8a4c" stroke="#111" stroke-width="0.85"/>
<circle cx="358.55" cy="668.47" r="2.2" fill="#0f8a4c" stroke="#111" stroke-width="0.85"/>
<circle cx="354.05" cy="672.55" r="2.2" fill="#0f8a4c" stroke="#111" stroke-width="0.85"/>
<circle cx="358.55" cy="675.30" r="2.2" fill="#0f8a4c" stroke="#111" stroke-width="0.85"/>
<circle cx="356.30" cy="680.90" r="2.2" fill="#0f8a4c" stroke="#111" stroke-width="0.85"/>
<circle cx="366.66" cy="667.45" r="2.2" fill="#ff2a0a" stroke="#111" stroke-width="0.85"/>
<circle cx="368.70" cy="668.47" r="2.2" fill="#ff2a0a" stroke="#111" stroke-width="0.85"/>
<circle cx="371.25" cy="670.51" r="2.2" fill="#ff2a0a" stroke="#111" stroke-width="0.85"/>
<circle cx="368.70" cy="673.56" r="2.2" fill="#ff2a0a" stroke="#111" stroke-width="0.85"/>
<circle cx="368.70" cy="680.70" r="2.2" fill="#ff2a0a" stroke="#111" stroke-width="0.85"/>
<circle cx="379.06" cy="663.38" r="2.2" fill="#1e96f0" stroke="#111" stroke-width="0.85"/>
<circle cx="383.35" cy="666.84" r="2.2" fill="#1e96f0" stroke="#111" stroke-width="0.85"/>
<circle cx="379.06" cy="668.98" r="2.2" fill="#1e96f0" stroke="#111" stroke-width="0.85"/>
<circle cx="381.10" cy="678.56" r="2.2" fill="#1e96f0" stroke="#111" stroke-width="0.85"/>
<circle cx="381.10" cy="687.52" r="2.2" fill="#1e96f0" stroke="#111" stroke-width="0.85"/>
<text transform="translate(460.60,639.30) skewX(0.5)" font-size="9.5" text-anchor="middle" fill="#111" >CD8+ T cell</text>
<line x1="432.20" y1="648.00" x2="432.20" y2="730.00" stroke="#222" stroke-width="1.1" />
<line x1="431.70" y1="729.50" x2="485.50" y2="729.50" stroke="#222" stroke-width="1.1" />
<line x1="428.20" y1="729.50" x2="432.20" y2="729.50" stroke="#222" stroke-width="1" />
<text transform="translate(428.00,733.10) skewX(0.5)" font-size="10" text-anchor="end" fill="#111" >0</text>
<line x1="428.20" y1="702.50" x2="432.20" y2="702.50" stroke="#222" stroke-width="1" />
<text transform="translate(428.00,706.10) skewX(0.5)" font-size="10" text-anchor="end" fill="#111" >2</text>
<line x1="428.20" y1="675.50" x2="432.20" y2="675.50" stroke="#222" stroke-width="1" />
<text transform="translate(428.00,679.10) skewX(0.5)" font-size="10" text-anchor="end" fill="#111" >4</text>
<line x1="428.20" y1="648.50" x2="432.20" y2="648.50" stroke="#222" stroke-width="1" />
<text transform="translate(428.00,652.10) skewX(0.5)" font-size="10" text-anchor="end" fill="#111" >6</text>
<line x1="440.10" y1="729.50" x2="440.10" y2="733.10" stroke="#222" stroke-width="1" />
<line x1="452.60" y1="729.50" x2="452.60" y2="733.10" stroke="#222" stroke-width="1" />
<line x1="465.00" y1="729.50" x2="465.00" y2="733.10" stroke="#222" stroke-width="1" />
<line x1="477.40" y1="729.50" x2="477.40" y2="733.10" stroke="#222" stroke-width="1" />
<text x="0" y="0" font-size="9.5" text-anchor="middle" fill="#111" transform="translate(418.60,689.00) rotate(-90)">Cell number (x10<tspan font-size="6" dy="-3.5">6</tspan><tspan dy="3.5">)</tspan></text>
<text x="0" y="0" font-size="9.8" text-anchor="end" fill="#111" transform="translate(446.70,741.90) rotate(-45)">Ctrl</text>
<text x="0" y="0" font-size="9.8" text-anchor="end" fill="#111" transform="translate(459.20,741.90) rotate(-45)">CD19 mCAR-T</text>
<text x="0" y="0" font-size="9.8" text-anchor="end" fill="#111" transform="translate(471.60,741.90) rotate(-45)">mC2 mCAR-T</text>
<text x="0" y="0" font-size="9.8" text-anchor="end" fill="#111" transform="translate(484.00,741.90) rotate(-45)">hC2 mCAR-T</text>
<line x1="436.10" y1="666.84" x2="444.10" y2="666.84" stroke="#111" stroke-width="1" />
<line x1="448.60" y1="670.20" x2="456.60" y2="670.20" stroke="#111" stroke-width="1" />
<line x1="461.00" y1="670.51" x2="469.00" y2="670.51" stroke="#111" stroke-width="1" />
<line x1="473.40" y1="671.93" x2="481.40" y2="671.93" stroke="#111" stroke-width="1" />
<circle cx="438.06" cy="664.39" r="2.2" fill="#999999" stroke="#111" stroke-width="0.85"/>
<circle cx="442.35" cy="665.62" r="2.2" fill="#999999" stroke="#111" stroke-width="0.85"/>
<circle cx="440.10" cy="666.84" r="2.2" fill="#999999" stroke="#111" stroke-width="0.85"/>
<circle cx="438.06" cy="667.45" r="2.2" fill="#999999" stroke="#111" stroke-width="0.85"/>
<circle cx="440.10" cy="679.68" r="2.2" fill="#999999" stroke="#111" stroke-width="0.85"/>
<circle cx="450.35" cy="667.45" r="2.2" fill="#0f8a4c" stroke="#111" stroke-width="0.85"/>
<circle cx="454.95" cy="669.69" r="2.2" fill="#0f8a4c" stroke="#111" stroke-width="0.85"/>
<circle cx="452.60" cy="670.20" r="2.2" fill="#0f8a4c" stroke="#111" stroke-width="0.85"/>
<circle cx="450.35" cy="672.55" r="2.2" fill="#0f8a4c" stroke="#111" stroke-width="0.85"/>
<circle cx="452.91" cy="671.22" r="2.2" fill="#0f8a4c" stroke="#111" stroke-width="0.85"/>
<circle cx="462.96" cy="666.84" r="2.2" fill="#ff2a0a" stroke="#111" stroke-width="0.85"/>
<circle cx="467.25" cy="669.49" r="2.2" fill="#ff2a0a" stroke="#111" stroke-width="0.85"/>
<circle cx="465.00" cy="670.51" r="2.2" fill="#ff2a0a" stroke="#111" stroke-width="0.85"/>
<circle cx="465.00" cy="677.64" r="2.2" fill="#ff2a0a" stroke="#111" stroke-width="0.85"/>
<circle cx="465.00" cy="686.20" r="2.2" fill="#ff2a0a" stroke="#111" stroke-width="0.85"/>
<circle cx="475.36" cy="659.50" r="2.2" fill="#1e96f0" stroke="#111" stroke-width="0.85"/>
<circle cx="479.65" cy="662.76" r="2.2" fill="#1e96f0" stroke="#111" stroke-width="0.85"/>
<circle cx="477.40" cy="671.93" r="2.2" fill="#1e96f0" stroke="#111" stroke-width="0.85"/>
<circle cx="479.65" cy="677.64" r="2.2" fill="#1e96f0" stroke="#111" stroke-width="0.85"/>
<circle cx="475.36" cy="679.68" r="2.2" fill="#1e96f0" stroke="#111" stroke-width="0.85"/>
<text transform="translate(555.10,639.30) skewX(0.5)" font-size="9.5" text-anchor="middle" fill="#111" >B cell</text>
<line x1="528.40" y1="648.00" x2="528.40" y2="730.00" stroke="#222" stroke-width="1.1" />
<line x1="527.90" y1="729.50" x2="581.70" y2="729.50" stroke="#222" stroke-width="1.1" />
<line x1="524.40" y1="729.50" x2="528.40" y2="729.50" stroke="#222" stroke-width="1" />
<text transform="translate(522.60,733.10) skewX(0.5)" font-size="10" text-anchor="end" fill="#111" >0</text>
<line x1="524.40" y1="702.50" x2="528.40" y2="702.50" stroke="#222" stroke-width="1" />
<text transform="translate(522.60,706.10) skewX(0.5)" font-size="10" text-anchor="end" fill="#111" >20</text>
<line x1="524.40" y1="675.50" x2="528.40" y2="675.50" stroke="#222" stroke-width="1" />
<text transform="translate(522.60,679.10) skewX(0.5)" font-size="10" text-anchor="end" fill="#111" >40</text>
<line x1="524.40" y1="648.50" x2="528.40" y2="648.50" stroke="#222" stroke-width="1" />
<text transform="translate(522.60,652.10) skewX(0.5)" font-size="10" text-anchor="end" fill="#111" >60</text>
<line x1="536.30" y1="729.50" x2="536.30" y2="733.10" stroke="#222" stroke-width="1" />
<line x1="548.80" y1="729.50" x2="548.80" y2="733.10" stroke="#222" stroke-width="1" />
<line x1="561.20" y1="729.50" x2="561.20" y2="733.10" stroke="#222" stroke-width="1" />
<line x1="573.60" y1="729.50" x2="573.60" y2="733.10" stroke="#222" stroke-width="1" />
<text x="0" y="0" font-size="9.5" text-anchor="middle" fill="#111" transform="translate(509.20,689.00) rotate(-90)">Cell number (x10<tspan font-size="6" dy="-3.5">6</tspan><tspan dy="3.5">)</tspan></text>
<text x="0" y="0" font-size="9.8" text-anchor="end" fill="#111" transform="translate(542.90,741.90) rotate(-45)">Ctrl</text>
<text x="0" y="0" font-size="9.8" text-anchor="end" fill="#111" transform="translate(555.40,741.90) rotate(-45)">CD19 mCAR-T</text>
<text x="0" y="0" font-size="9.8" text-anchor="end" fill="#111" transform="translate(567.80,741.90) rotate(-45)">mC2 mCAR-T</text>
<text x="0" y="0" font-size="9.8" text-anchor="end" fill="#111" transform="translate(580.20,741.90) rotate(-45)">hC2 mCAR-T</text>
<line x1="532.30" y1="686.53" x2="540.30" y2="686.53" stroke="#111" stroke-width="1" />
<line x1="544.80" y1="729.50" x2="552.80" y2="729.50" stroke="#111" stroke-width="1" />
<line x1="557.20" y1="674.51" x2="565.20" y2="674.51" stroke="#111" stroke-width="1" />
<line x1="569.60" y1="685.51" x2="577.60" y2="685.51" stroke="#111" stroke-width="1" />
<circle cx="536.61" cy="665.67" r="2.2" fill="#999999" stroke="#111" stroke-width="0.85"/>
<circle cx="536.61" cy="676.77" r="2.2" fill="#999999" stroke="#111" stroke-width="0.85"/>
<circle cx="536.61" cy="686.53" r="2.2" fill="#999999" stroke="#111" stroke-width="0.85"/>
<circle cx="538.87" cy="693.42" r="2.2" fill="#999999" stroke="#111" stroke-width="0.85"/>
<circle cx="534.25" cy="696.61" r="2.2" fill="#999999" stroke="#111" stroke-width="0.85"/>
<circle cx="546.75" cy="729.29" r="2.2" fill="#0f8a4c" stroke="#111" stroke-width="0.85"/>
<circle cx="549.31" cy="729.50" r="2.2" fill="#0f8a4c" stroke="#111" stroke-width="0.85"/>
<circle cx="550.85" cy="729.50" r="2.2" fill="#0f8a4c" stroke="#111" stroke-width="0.85"/>
<circle cx="548.29" cy="729.71" r="2.2" fill="#0f8a4c" stroke="#111" stroke-width="0.85"/>
<circle cx="549.83" cy="729.71" r="2.2" fill="#0f8a4c" stroke="#111" stroke-width="0.85"/>
<circle cx="561.20" cy="667.00" r="2.2" fill="#ff2a0a" stroke="#111" stroke-width="0.85"/>
<circle cx="563.56" cy="672.96" r="2.2" fill="#ff2a0a" stroke="#111" stroke-width="0.85"/>
<circle cx="558.94" cy="674.51" r="2.2" fill="#ff2a0a" stroke="#111" stroke-width="0.85"/>
<circle cx="561.20" cy="686.22" r="2.2" fill="#ff2a0a" stroke="#111" stroke-width="0.85"/>
<circle cx="561.20" cy="693.42" r="2.2" fill="#ff2a0a" stroke="#111" stroke-width="0.85"/>
<circle cx="571.34" cy="670.29" r="2.2" fill="#1e96f0" stroke="#111" stroke-width="0.85"/>
<circle cx="575.76" cy="670.29" r="2.2" fill="#1e96f0" stroke="#111" stroke-width="0.85"/>
<circle cx="571.34" cy="685.51" r="2.2" fill="#1e96f0" stroke="#111" stroke-width="0.85"/>
<circle cx="575.76" cy="688.79" r="2.2" fill="#1e96f0" stroke="#111" stroke-width="0.85"/>
<circle cx="573.60" cy="693.73" r="2.2" fill="#1e96f0" stroke="#111" stroke-width="0.85"/>
<text transform="translate(532.10,648.90) scale(0.87,1) skewX(0.5)" font-size="8.8" fill="#111"><tspan font-style="italic">p</tspan><0.0001</text>
<line x1="536.40" y1="652.40" x2="550.60" y2="652.40" stroke="#555" stroke-width="1.3" />
<text transform="translate(653.00,639.30) skewX(0.5)" font-size="9.5" text-anchor="middle" fill="#111" >NK cell</text>
<line x1="624.50" y1="648.00" x2="624.50" y2="730.00" stroke="#222" stroke-width="1.1" />
<line x1="624.00" y1="729.50" x2="677.80" y2="729.50" stroke="#222" stroke-width="1.1" />
<line x1="620.50" y1="729.50" x2="624.50" y2="729.50" stroke="#222" stroke-width="1" />
<text transform="translate(618.80,733.10) skewX(0.5)" font-size="10" text-anchor="end" fill="#111" >0</text>
<line x1="620.50" y1="702.50" x2="624.50" y2="702.50" stroke="#222" stroke-width="1" />
<text transform="translate(618.80,706.10) skewX(0.5)" font-size="10" text-anchor="end" fill="#111" >0.5</text>
<line x1="620.50" y1="675.50" x2="624.50" y2="675.50" stroke="#222" stroke-width="1" />
<text transform="translate(618.80,679.10) skewX(0.5)" font-size="10" text-anchor="end" fill="#111" >1.0</text>
<line x1="620.50" y1="648.50" x2="624.50" y2="648.50" stroke="#222" stroke-width="1" />
<text transform="translate(618.80,652.10) skewX(0.5)" font-size="10" text-anchor="end" fill="#111" >1.5</text>
<line x1="632.40" y1="729.50" x2="632.40" y2="733.10" stroke="#222" stroke-width="1" />
<line x1="644.90" y1="729.50" x2="644.90" y2="733.10" stroke="#222" stroke-width="1" />
<line x1="657.30" y1="729.50" x2="657.30" y2="733.10" stroke="#222" stroke-width="1" />
<line x1="669.70" y1="729.50" x2="669.70" y2="733.10" stroke="#222" stroke-width="1" />
<text x="0" y="0" font-size="9.5" text-anchor="middle" fill="#111" transform="translate(604.80,689.00) rotate(-90)">Cell number (x10<tspan font-size="6" dy="-3.5">6</tspan><tspan dy="3.5">)</tspan></text>
<text x="0" y="0" font-size="9.8" text-anchor="end" fill="#111" transform="translate(639.00,741.90) rotate(-45)">Ctrl</text>
<text x="0" y="0" font-size="9.8" text-anchor="end" fill="#111" transform="translate(651.50,741.90) rotate(-45)">CD19 mCAR-T</text>
<text x="0" y="0" font-size="9.8" text-anchor="end" fill="#111" transform="translate(663.90,741.90) rotate(-45)">mC2 mCAR-T</text>
<text x="0" y="0" font-size="9.8" text-anchor="end" fill="#111" transform="translate(676.30,741.90) rotate(-45)">hC2 mCAR-T</text>
<line x1="628.40" y1="681.41" x2="636.40" y2="681.41" stroke="#111" stroke-width="1" />
<line x1="640.90" y1="684.47" x2="648.90" y2="684.47" stroke="#111" stroke-width="1" />
<line x1="653.30" y1="682.94" x2="661.30" y2="682.94" stroke="#111" stroke-width="1" />
<line x1="665.70" y1="681.41" x2="673.70" y2="681.41" stroke="#111" stroke-width="1" />
<circle cx="632.60" cy="673.97" r="2.2" fill="#999999" stroke="#111" stroke-width="0.85"/>
<circle cx="630.36" cy="679.37" r="2.2" fill="#999999" stroke="#111" stroke-width="0.85"/>
<circle cx="632.60" cy="681.41" r="2.2" fill="#999999" stroke="#111" stroke-width="0.85"/>
<circle cx="634.75" cy="683.14" r="2.2" fill="#999999" stroke="#111" stroke-width="0.85"/>
<circle cx="630.36" cy="685.18" r="2.2" fill="#999999" stroke="#111" stroke-width="0.85"/>
<circle cx="644.90" cy="674.58" r="2.2" fill="#0f8a4c" stroke="#111" stroke-width="0.85"/>
<circle cx="644.90" cy="679.07" r="2.2" fill="#0f8a4c" stroke="#111" stroke-width="0.85"/>
<circle cx="642.86" cy="684.47" r="2.2" fill="#0f8a4c" stroke="#111" stroke-width="0.85"/>
<circle cx="647.25" cy="686.50" r="2.2" fill="#0f8a4c" stroke="#111" stroke-width="0.85"/>
<circle cx="644.90" cy="691.90" r="2.2" fill="#0f8a4c" stroke="#111" stroke-width="0.85"/>
<circle cx="657.30" cy="671.42" r="2.2" fill="#ff2a0a" stroke="#111" stroke-width="0.85"/>
<circle cx="659.55" cy="681.10" r="2.2" fill="#ff2a0a" stroke="#111" stroke-width="0.85"/>
<circle cx="657.30" cy="682.94" r="2.2" fill="#ff2a0a" stroke="#111" stroke-width="0.85"/>
<circle cx="659.55" cy="685.48" r="2.2" fill="#ff2a0a" stroke="#111" stroke-width="0.85"/>
<circle cx="655.26" cy="687.01" r="2.2" fill="#ff2a0a" stroke="#111" stroke-width="0.85"/>
<circle cx="669.70" cy="668.16" r="2.2" fill="#1e96f0" stroke="#111" stroke-width="0.85"/>
<circle cx="667.45" cy="681.41" r="2.2" fill="#1e96f0" stroke="#111" stroke-width="0.85"/>
<circle cx="672.05" cy="681.10" r="2.2" fill="#1e96f0" stroke="#111" stroke-width="0.85"/>
<circle cx="672.05" cy="687.01" r="2.2" fill="#1e96f0" stroke="#111" stroke-width="0.85"/>
<circle cx="667.45" cy="690.27" r="2.2" fill="#1e96f0" stroke="#111" stroke-width="0.85"/>
<text transform="translate(2.50,807.60) skewX(0.5)" font-size="16" text-anchor="start" font-weight="bold" fill="#000" >i</text>
<text transform="translate(368.90,807.80) skewX(0.5)" font-size="9.5" text-anchor="middle" fill="#111" >Bone marrow</text>
<line x1="48.50" y1="813.50" x2="665.50" y2="813.50" stroke="#222" stroke-width="1.1" />
<text transform="translate(76.60,828.40) skewX(0.5)" font-size="9.5" text-anchor="middle" fill="#111" >Granulocyte</text>
<line x1="47.50" y1="837.10" x2="47.50" y2="918.70" stroke="#222" stroke-width="1.1" />
<line x1="47.00" y1="918.20" x2="100.80" y2="918.20" stroke="#222" stroke-width="1.1" />
<line x1="43.50" y1="918.20" x2="47.50" y2="918.20" stroke="#222" stroke-width="1" />
<text transform="translate(42.25,921.80) skewX(0.5)" font-size="10" text-anchor="end" fill="#111" >0</text>
<line x1="43.50" y1="891.33" x2="47.50" y2="891.33" stroke="#222" stroke-width="1" />
<text transform="translate(42.25,894.93) skewX(0.5)" font-size="10" text-anchor="end" fill="#111" >200</text>
<line x1="43.50" y1="864.47" x2="47.50" y2="864.47" stroke="#222" stroke-width="1" />
<text transform="translate(42.25,868.07) skewX(0.5)" font-size="10" text-anchor="end" fill="#111" >400</text>
<line x1="43.50" y1="837.60" x2="47.50" y2="837.60" stroke="#222" stroke-width="1" />
<text transform="translate(42.25,841.20) skewX(0.5)" font-size="10" text-anchor="end" fill="#111" >600</text>
<line x1="55.40" y1="918.20" x2="55.40" y2="921.80" stroke="#222" stroke-width="1" />
<line x1="67.90" y1="918.20" x2="67.90" y2="921.80" stroke="#222" stroke-width="1" />
<line x1="80.30" y1="918.20" x2="80.30" y2="921.80" stroke="#222" stroke-width="1" />
<line x1="92.70" y1="918.20" x2="92.70" y2="921.80" stroke="#222" stroke-width="1" />
<text x="0" y="0" font-size="9.5" text-anchor="middle" fill="#111" transform="translate(22.10,877.90) rotate(-90)">Cell number (x10<tspan font-size="6" dy="-3.5">4</tspan><tspan dy="3.5">)</tspan></text>
<text x="0" y="0" font-size="9.8" text-anchor="end" fill="#111" transform="translate(62.00,930.60) rotate(-45)">Ctrl</text>
<text x="0" y="0" font-size="9.8" text-anchor="end" fill="#111" transform="translate(74.50,930.60) rotate(-45)">CD19 mCAR-T</text>
<text x="0" y="0" font-size="9.8" text-anchor="end" fill="#111" transform="translate(86.90,930.60) rotate(-45)">mC2 mCAR-T</text>
<text x="0" y="0" font-size="9.8" text-anchor="end" fill="#111" transform="translate(99.30,930.60) rotate(-45)">hC2 mCAR-T</text>
<line x1="51.40" y1="864.99" x2="59.40" y2="864.99" stroke="#111" stroke-width="1" />
<line x1="63.90" y1="865.56" x2="71.90" y2="865.56" stroke="#111" stroke-width="1" />
<line x1="76.30" y1="866.39" x2="84.30" y2="866.39" stroke="#111" stroke-width="1" />
<line x1="88.70" y1="870.17" x2="96.70" y2="870.17" stroke="#111" stroke-width="1" />
<circle cx="55.40" cy="860.30" r="2.2" fill="#999999" stroke="#111" stroke-width="0.85"/>
<circle cx="52.44" cy="863.10" r="2.2" fill="#999999" stroke="#111" stroke-width="0.85"/>
<circle cx="57.04" cy="863.10" r="2.2" fill="#999999" stroke="#111" stroke-width="0.85"/>
<circle cx="52.44" cy="866.88" r="2.2" fill="#999999" stroke="#111" stroke-width="0.85"/>
<circle cx="57.04" cy="866.88" r="2.2" fill="#999999" stroke="#111" stroke-width="0.85"/>
<circle cx="55.40" cy="873.79" r="2.2" fill="#999999" stroke="#111" stroke-width="0.85"/>
<circle cx="67.90" cy="856.52" r="2.2" fill="#0f8a4c" stroke="#111" stroke-width="0.85"/>
<circle cx="65.77" cy="864.74" r="2.2" fill="#0f8a4c" stroke="#111" stroke-width="0.85"/>
<circle cx="70.69" cy="865.56" r="2.2" fill="#0f8a4c" stroke="#111" stroke-width="0.85"/>
<circle cx="67.90" cy="866.39" r="2.2" fill="#0f8a4c" stroke="#111" stroke-width="0.85"/>
<circle cx="67.90" cy="871.65" r="2.2" fill="#0f8a4c" stroke="#111" stroke-width="0.85"/>
<circle cx="78.17" cy="859.81" r="2.2" fill="#ff2a0a" stroke="#111" stroke-width="0.85"/>
<circle cx="82.60" cy="863.10" r="2.2" fill="#ff2a0a" stroke="#111" stroke-width="0.85"/>
<circle cx="78.17" cy="866.39" r="2.2" fill="#ff2a0a" stroke="#111" stroke-width="0.85"/>
<circle cx="82.60" cy="869.68" r="2.2" fill="#ff2a0a" stroke="#111" stroke-width="0.85"/>
<circle cx="80.30" cy="874.61" r="2.2" fill="#ff2a0a" stroke="#111" stroke-width="0.85"/>
<circle cx="93.03" cy="856.02" r="2.2" fill="#1e96f0" stroke="#111" stroke-width="0.85"/>
<circle cx="90.89" cy="868.52" r="2.2" fill="#1e96f0" stroke="#111" stroke-width="0.85"/>
<circle cx="95.16" cy="870.17" r="2.2" fill="#1e96f0" stroke="#111" stroke-width="0.85"/>
<circle cx="93.03" cy="870.83" r="2.2" fill="#1e96f0" stroke="#111" stroke-width="0.85"/>
<circle cx="93.03" cy="875.76" r="2.2" fill="#1e96f0" stroke="#111" stroke-width="0.85"/>
<text transform="translate(171.00,828.40) skewX(0.5)" font-size="9.5" text-anchor="middle" fill="#111" >Monocyte</text>
<line x1="143.60" y1="837.10" x2="143.60" y2="918.70" stroke="#222" stroke-width="1.1" />
<line x1="143.10" y1="918.20" x2="196.90" y2="918.20" stroke="#222" stroke-width="1.1" />
<line x1="139.60" y1="918.20" x2="143.60" y2="918.20" stroke="#222" stroke-width="1" />
<text transform="translate(138.00,921.80) skewX(0.5)" font-size="10" text-anchor="end" fill="#111" >0</text>
<line x1="139.60" y1="902.08" x2="143.60" y2="902.08" stroke="#222" stroke-width="1" />
<text transform="translate(138.00,905.68) skewX(0.5)" font-size="10" text-anchor="end" fill="#111" >20</text>
<line x1="139.60" y1="885.96" x2="143.60" y2="885.96" stroke="#222" stroke-width="1" />
<text transform="translate(138.00,889.56) skewX(0.5)" font-size="10" text-anchor="end" fill="#111" >40</text>
<line x1="139.60" y1="869.84" x2="143.60" y2="869.84" stroke="#222" stroke-width="1" />
<text transform="translate(138.00,873.44) skewX(0.5)" font-size="10" text-anchor="end" fill="#111" >60</text>
<line x1="139.60" y1="853.72" x2="143.60" y2="853.72" stroke="#222" stroke-width="1" />
<text transform="translate(138.00,857.32) skewX(0.5)" font-size="10" text-anchor="end" fill="#111" >80</text>
<line x1="139.60" y1="837.60" x2="143.60" y2="837.60" stroke="#222" stroke-width="1" />
<text transform="translate(138.00,841.20) skewX(0.5)" font-size="10" text-anchor="end" fill="#111" >100</text>
<line x1="151.50" y1="918.20" x2="151.50" y2="921.80" stroke="#222" stroke-width="1" />
<line x1="164.00" y1="918.20" x2="164.00" y2="921.80" stroke="#222" stroke-width="1" />
<line x1="176.40" y1="918.20" x2="176.40" y2="921.80" stroke="#222" stroke-width="1" />
<line x1="188.80" y1="918.20" x2="188.80" y2="921.80" stroke="#222" stroke-width="1" />
<text x="0" y="0" font-size="9.5" text-anchor="middle" fill="#111" transform="translate(118.90,877.90) rotate(-90)">Cell number (x10<tspan font-size="6" dy="-3.5">4</tspan><tspan dy="3.5">)</tspan></text>
<text x="0" y="0" font-size="9.8" text-anchor="end" fill="#111" transform="translate(158.10,930.60) rotate(-45)">Ctrl</text>
<text x="0" y="0" font-size="9.8" text-anchor="end" fill="#111" transform="translate(170.60,930.60) rotate(-45)">CD19 mCAR-T</text>
<text x="0" y="0" font-size="9.8" text-anchor="end" fill="#111" transform="translate(183.00,930.60) rotate(-45)">mC2 mCAR-T</text>
<text x="0" y="0" font-size="9.8" text-anchor="end" fill="#111" transform="translate(195.40,930.60) rotate(-45)">hC2 mCAR-T</text>
<line x1="147.50" y1="869.53" x2="155.50" y2="869.53" stroke="#111" stroke-width="1" />
<line x1="160.00" y1="880.76" x2="168.00" y2="880.76" stroke="#111" stroke-width="1" />
<line x1="172.40" y1="864.43" x2="180.40" y2="864.43" stroke="#111" stroke-width="1" />
<line x1="184.80" y1="866.17" x2="192.80" y2="866.17" stroke="#111" stroke-width="1" />
<circle cx="154.05" cy="864.94" r="2.2" fill="#999999" stroke="#111" stroke-width="0.85"/>
<circle cx="149.46" cy="866.98" r="2.2" fill="#999999" stroke="#111" stroke-width="0.85"/>
<circle cx="154.57" cy="869.53" r="2.2" fill="#999999" stroke="#111" stroke-width="0.85"/>
<circle cx="151.81" cy="871.06" r="2.2" fill="#999999" stroke="#111" stroke-width="0.85"/>
<circle cx="151.81" cy="875.15" r="2.2" fill="#999999" stroke="#111" stroke-width="0.85"/>
<circle cx="161.96" cy="868.82" r="2.2" fill="#0f8a4c" stroke="#111" stroke-width="0.85"/>
<circle cx="166.25" cy="867.80" r="2.2" fill="#0f8a4c" stroke="#111" stroke-width="0.85"/>
<circle cx="161.96" cy="880.76" r="2.2" fill="#0f8a4c" stroke="#111" stroke-width="0.85"/>
<circle cx="166.25" cy="880.76" r="2.2" fill="#0f8a4c" stroke="#111" stroke-width="0.85"/>
<circle cx="161.96" cy="885.04" r="2.2" fill="#0f8a4c" stroke="#111" stroke-width="0.85"/>
<circle cx="176.40" cy="852.50" r="2.2" fill="#ff2a0a" stroke="#111" stroke-width="0.85"/>
<circle cx="176.40" cy="857.29" r="2.2" fill="#ff2a0a" stroke="#111" stroke-width="0.85"/>
<circle cx="176.40" cy="864.43" r="2.2" fill="#ff2a0a" stroke="#111" stroke-width="0.85"/>
<circle cx="176.40" cy="871.88" r="2.2" fill="#ff2a0a" stroke="#111" stroke-width="0.85"/>
<circle cx="176.40" cy="881.06" r="2.2" fill="#ff2a0a" stroke="#111" stroke-width="0.85"/>
<circle cx="187.88" cy="858.62" r="2.2" fill="#1e96f0" stroke="#111" stroke-width="0.85"/>
<circle cx="190.13" cy="859.84" r="2.2" fill="#1e96f0" stroke="#111" stroke-width="0.85"/>
<circle cx="188.80" cy="866.17" r="2.2" fill="#1e96f0" stroke="#111" stroke-width="0.85"/>
<circle cx="191.15" cy="867.19" r="2.2" fill="#1e96f0" stroke="#111" stroke-width="0.85"/>
<circle cx="186.76" cy="870.04" r="2.2" fill="#1e96f0" stroke="#111" stroke-width="0.85"/>
<text transform="translate(266.30,828.40) skewX(0.5)" font-size="9.5" text-anchor="middle" fill="#111" >T cell</text>
<line x1="239.50" y1="837.10" x2="239.50" y2="918.70" stroke="#222" stroke-width="1.1" />
<line x1="239.00" y1="918.20" x2="292.80" y2="918.20" stroke="#222" stroke-width="1.1" />
<line x1="235.50" y1="918.20" x2="239.50" y2="918.20" stroke="#222" stroke-width="1" />
<text transform="translate(234.40,921.80) skewX(0.5)" font-size="10" text-anchor="end" fill="#111" >0</text>
<line x1="235.50" y1="898.05" x2="239.50" y2="898.05" stroke="#222" stroke-width="1" />
<text transform="translate(234.40,901.65) skewX(0.5)" font-size="10" text-anchor="end" fill="#111" >5</text>
<line x1="235.50" y1="877.90" x2="239.50" y2="877.90" stroke="#222" stroke-width="1" />
<text transform="translate(234.40,881.50) skewX(0.5)" font-size="10" text-anchor="end" fill="#111" >10</text>
<line x1="235.50" y1="857.75" x2="239.50" y2="857.75" stroke="#222" stroke-width="1" />
<text transform="translate(234.40,861.35) skewX(0.5)" font-size="10" text-anchor="end" fill="#111" >15</text>
<line x1="235.50" y1="837.60" x2="239.50" y2="837.60" stroke="#222" stroke-width="1" />
<text transform="translate(234.40,841.20) skewX(0.5)" font-size="10" text-anchor="end" fill="#111" >20</text>
<line x1="247.40" y1="918.20" x2="247.40" y2="921.80" stroke="#222" stroke-width="1" />
<line x1="259.90" y1="918.20" x2="259.90" y2="921.80" stroke="#222" stroke-width="1" />
<line x1="272.30" y1="918.20" x2="272.30" y2="921.80" stroke="#222" stroke-width="1" />
<line x1="284.70" y1="918.20" x2="284.70" y2="921.80" stroke="#222" stroke-width="1" />
<text x="0" y="0" font-size="9.5" text-anchor="middle" fill="#111" transform="translate(219.80,877.90) rotate(-90)">Cell number (x10<tspan font-size="6" dy="-3.5">4</tspan><tspan dy="3.5">)</tspan></text>
<text x="0" y="0" font-size="9.8" text-anchor="end" fill="#111" transform="translate(254.00,930.60) rotate(-45)">Ctrl</text>
<text x="0" y="0" font-size="9.8" text-anchor="end" fill="#111" transform="translate(266.50,930.60) rotate(-45)">CD19 mCAR-T</text>
<text x="0" y="0" font-size="9.8" text-anchor="end" fill="#111" transform="translate(278.90,930.60) rotate(-45)">mC2 mCAR-T</text>
<text x="0" y="0" font-size="9.8" text-anchor="end" fill="#111" transform="translate(291.30,930.60) rotate(-45)">hC2 mCAR-T</text>
<line x1="243.40" y1="868.21" x2="251.40" y2="868.21" stroke="#111" stroke-width="1" />
<line x1="255.90" y1="869.33" x2="263.90" y2="869.33" stroke="#111" stroke-width="1" />
<line x1="268.30" y1="874.33" x2="276.30" y2="874.33" stroke="#111" stroke-width="1" />
<line x1="280.70" y1="868.00" x2="288.70" y2="868.00" stroke="#111" stroke-width="1" />
<circle cx="247.40" cy="857.29" r="2.2" fill="#999999" stroke="#111" stroke-width="0.85"/>
<circle cx="249.65" cy="865.45" r="2.2" fill="#999999" stroke="#111" stroke-width="0.85"/>
<circle cx="245.15" cy="868.21" r="2.2" fill="#999999" stroke="#111" stroke-width="0.85"/>
<circle cx="249.65" cy="869.53" r="2.2" fill="#999999" stroke="#111" stroke-width="0.85"/>
<circle cx="247.40" cy="876.37" r="2.2" fill="#999999" stroke="#111" stroke-width="0.85"/>
<circle cx="259.90" cy="861.88" r="2.2" fill="#0f8a4c" stroke="#111" stroke-width="0.85"/>
<circle cx="262.15" cy="867.49" r="2.2" fill="#0f8a4c" stroke="#111" stroke-width="0.85"/>
<circle cx="257.55" cy="869.33" r="2.2" fill="#0f8a4c" stroke="#111" stroke-width="0.85"/>
<circle cx="262.15" cy="873.10" r="2.2" fill="#0f8a4c" stroke="#111" stroke-width="0.85"/>
<circle cx="259.90" cy="880.55" r="2.2" fill="#0f8a4c" stroke="#111" stroke-width="0.85"/>
<circle cx="272.40" cy="858.01" r="2.2" fill="#ff2a0a" stroke="#111" stroke-width="0.85"/>
<circle cx="272.40" cy="865.45" r="2.2" fill="#ff2a0a" stroke="#111" stroke-width="0.85"/>
<circle cx="272.40" cy="874.33" r="2.2" fill="#ff2a0a" stroke="#111" stroke-width="0.85"/>
<circle cx="270.36" cy="884.33" r="2.2" fill="#ff2a0a" stroke="#111" stroke-width="0.85"/>
<circle cx="274.65" cy="883.82" r="2.2" fill="#ff2a0a" stroke="#111" stroke-width="0.85"/>
<circle cx="282.66" cy="859.84" r="2.2" fill="#1e96f0" stroke="#111" stroke-width="0.85"/>
<circle cx="287.05" cy="863.41" r="2.2" fill="#1e96f0" stroke="#111" stroke-width="0.85"/>
<circle cx="284.70" cy="868.00" r="2.2" fill="#1e96f0" stroke="#111" stroke-width="0.85"/>
<circle cx="287.05" cy="872.90" r="2.2" fill="#1e96f0" stroke="#111" stroke-width="0.85"/>
<circle cx="282.66" cy="875.15" r="2.2" fill="#1e96f0" stroke="#111" stroke-width="0.85"/>
<text transform="translate(363.40,828.40) skewX(0.5)" font-size="9.5" text-anchor="middle" fill="#111" >CD4+ T cell</text>
<line x1="335.90" y1="837.10" x2="335.90" y2="918.70" stroke="#222" stroke-width="1.1" />
<line x1="335.40" y1="918.20" x2="389.20" y2="918.20" stroke="#222" stroke-width="1.1" />
<line x1="331.90" y1="918.20" x2="335.90" y2="918.20" stroke="#222" stroke-width="1" />
<text transform="translate(331.00,921.80) skewX(0.5)" font-size="10" text-anchor="end" fill="#111" >0</text>
<line x1="331.90" y1="898.05" x2="335.90" y2="898.05" stroke="#222" stroke-width="1" />
<text transform="translate(331.00,901.65) skewX(0.5)" font-size="10" text-anchor="end" fill="#111" >3</text>
<line x1="331.90" y1="877.90" x2="335.90" y2="877.90" stroke="#222" stroke-width="1" />
<text transform="translate(331.00,881.50) skewX(0.5)" font-size="10" text-anchor="end" fill="#111" >6</text>
<line x1="331.90" y1="857.75" x2="335.90" y2="857.75" stroke="#222" stroke-width="1" />
<text transform="translate(331.00,861.35) skewX(0.5)" font-size="10" text-anchor="end" fill="#111" >9</text>
<line x1="331.90" y1="837.60" x2="335.90" y2="837.60" stroke="#222" stroke-width="1" />
<text transform="translate(331.00,841.20) skewX(0.5)" font-size="10" text-anchor="end" fill="#111" >12</text>
<line x1="343.80" y1="918.20" x2="343.80" y2="921.80" stroke="#222" stroke-width="1" />
<line x1="356.30" y1="918.20" x2="356.30" y2="921.80" stroke="#222" stroke-width="1" />
<line x1="368.70" y1="918.20" x2="368.70" y2="921.80" stroke="#222" stroke-width="1" />
<line x1="381.10" y1="918.20" x2="381.10" y2="921.80" stroke="#222" stroke-width="1" />
<text x="0" y="0" font-size="9.5" text-anchor="middle" fill="#111" transform="translate(319.00,877.90) rotate(-90)">Cell number (x10<tspan font-size="6" dy="-3.5">4</tspan><tspan dy="3.5">)</tspan></text>
<text x="0" y="0" font-size="9.8" text-anchor="end" fill="#111" transform="translate(350.40,930.60) rotate(-45)">Ctrl</text>
<text x="0" y="0" font-size="9.8" text-anchor="end" fill="#111" transform="translate(362.90,930.60) rotate(-45)">CD19 mCAR-T</text>
<text x="0" y="0" font-size="9.8" text-anchor="end" fill="#111" transform="translate(375.30,930.60) rotate(-45)">mC2 mCAR-T</text>
<text x="0" y="0" font-size="9.8" text-anchor="end" fill="#111" transform="translate(387.70,930.60) rotate(-45)">hC2 mCAR-T</text>
<line x1="339.80" y1="868.51" x2="347.80" y2="868.51" stroke="#111" stroke-width="1" />
<line x1="352.30" y1="869.84" x2="360.30" y2="869.84" stroke="#111" stroke-width="1" />
<line x1="364.70" y1="873.92" x2="372.70" y2="873.92" stroke="#111" stroke-width="1" />
<line x1="377.10" y1="867.80" x2="385.10" y2="867.80" stroke="#111" stroke-width="1" />
<circle cx="343.80" cy="854.74" r="2.2" fill="#999999" stroke="#111" stroke-width="0.85"/>
<circle cx="341.55" cy="866.78" r="2.2" fill="#999999" stroke="#111" stroke-width="0.85"/>
<circle cx="346.05" cy="868.51" r="2.2" fill="#999999" stroke="#111" stroke-width="0.85"/>
<circle cx="343.80" cy="869.53" r="2.2" fill="#999999" stroke="#111" stroke-width="0.85"/>
<circle cx="343.80" cy="876.68" r="2.2" fill="#999999" stroke="#111" stroke-width="0.85"/>
<circle cx="356.30" cy="858.01" r="2.2" fill="#0f8a4c" stroke="#111" stroke-width="0.85"/>
<circle cx="356.30" cy="865.76" r="2.2" fill="#0f8a4c" stroke="#111" stroke-width="0.85"/>
<circle cx="354.05" cy="869.84" r="2.2" fill="#0f8a4c" stroke="#111" stroke-width="0.85"/>
<circle cx="358.55" cy="873.10" r="2.2" fill="#0f8a4c" stroke="#111" stroke-width="0.85"/>
<circle cx="356.30" cy="880.76" r="2.2" fill="#0f8a4c" stroke="#111" stroke-width="0.85"/>
<circle cx="368.70" cy="859.84" r="2.2" fill="#ff2a0a" stroke="#111" stroke-width="0.85"/>
<circle cx="368.70" cy="864.74" r="2.2" fill="#ff2a0a" stroke="#111" stroke-width="0.85"/>
<circle cx="368.70" cy="873.92" r="2.2" fill="#ff2a0a" stroke="#111" stroke-width="0.85"/>
<circle cx="366.66" cy="883.10" r="2.2" fill="#ff2a0a" stroke="#111" stroke-width="0.85"/>
<circle cx="371.05" cy="883.10" r="2.2" fill="#ff2a0a" stroke="#111" stroke-width="0.85"/>
<circle cx="379.06" cy="858.31" r="2.2" fill="#1e96f0" stroke="#111" stroke-width="0.85"/>
<circle cx="383.35" cy="862.19" r="2.2" fill="#1e96f0" stroke="#111" stroke-width="0.85"/>
<circle cx="381.10" cy="867.80" r="2.2" fill="#1e96f0" stroke="#111" stroke-width="0.85"/>
<circle cx="383.35" cy="873.61" r="2.2" fill="#1e96f0" stroke="#111" stroke-width="0.85"/>
<circle cx="379.06" cy="875.15" r="2.2" fill="#1e96f0" stroke="#111" stroke-width="0.85"/>
<text transform="translate(460.60,828.40) skewX(0.5)" font-size="9.5" text-anchor="middle" fill="#111" >CD8+ T cell</text>
<line x1="432.20" y1="837.10" x2="432.20" y2="918.70" stroke="#222" stroke-width="1.1" />
<line x1="431.70" y1="918.20" x2="485.50" y2="918.20" stroke="#222" stroke-width="1.1" />
<line x1="428.20" y1="918.20" x2="432.20" y2="918.20" stroke="#222" stroke-width="1" />
<text transform="translate(425.70,921.80) skewX(0.5)" font-size="10" text-anchor="end" fill="#111" >0</text>
<line x1="428.20" y1="891.33" x2="432.20" y2="891.33" stroke="#222" stroke-width="1" />
<text transform="translate(425.70,894.93) skewX(0.5)" font-size="10" text-anchor="end" fill="#111" >2</text>
<line x1="428.20" y1="864.47" x2="432.20" y2="864.47" stroke="#222" stroke-width="1" />
<text transform="translate(425.70,868.07) skewX(0.5)" font-size="10" text-anchor="end" fill="#111" >4</text>
<line x1="428.20" y1="837.60" x2="432.20" y2="837.60" stroke="#222" stroke-width="1" />
<text transform="translate(425.70,841.20) skewX(0.5)" font-size="10" text-anchor="end" fill="#111" >6</text>
<line x1="440.10" y1="918.20" x2="440.10" y2="921.80" stroke="#222" stroke-width="1" />
<line x1="452.60" y1="918.20" x2="452.60" y2="921.80" stroke="#222" stroke-width="1" />
<line x1="465.00" y1="918.20" x2="465.00" y2="921.80" stroke="#222" stroke-width="1" />
<line x1="477.40" y1="918.20" x2="477.40" y2="921.80" stroke="#222" stroke-width="1" />
<text x="0" y="0" font-size="9.5" text-anchor="middle" fill="#111" transform="translate(417.70,877.90) rotate(-90)">Cell number (x10<tspan font-size="6" dy="-3.5">4</tspan><tspan dy="3.5">)</tspan></text>
<text x="0" y="0" font-size="9.8" text-anchor="end" fill="#111" transform="translate(446.70,930.60) rotate(-45)">Ctrl</text>
<text x="0" y="0" font-size="9.8" text-anchor="end" fill="#111" transform="translate(459.20,930.60) rotate(-45)">CD19 mCAR-T</text>
<text x="0" y="0" font-size="9.8" text-anchor="end" fill="#111" transform="translate(471.60,930.60) rotate(-45)">mC2 mCAR-T</text>
<text x="0" y="0" font-size="9.8" text-anchor="end" fill="#111" transform="translate(484.00,930.60) rotate(-45)">hC2 mCAR-T</text>
<line x1="436.10" y1="857.60" x2="444.10" y2="857.60" stroke="#111" stroke-width="1" />
<line x1="448.60" y1="862.90" x2="456.60" y2="862.90" stroke="#111" stroke-width="1" />
<line x1="461.00" y1="866.47" x2="469.00" y2="866.47" stroke="#111" stroke-width="1" />
<line x1="473.40" y1="861.88" x2="481.40" y2="861.88" stroke="#111" stroke-width="1" />
<circle cx="440.10" cy="848.62" r="2.2" fill="#999999" stroke="#111" stroke-width="0.85"/>
<circle cx="440.10" cy="853.52" r="2.2" fill="#999999" stroke="#111" stroke-width="0.85"/>
<circle cx="438.06" cy="857.60" r="2.2" fill="#999999" stroke="#111" stroke-width="0.85"/>
<circle cx="442.35" cy="859.64" r="2.2" fill="#999999" stroke="#111" stroke-width="0.85"/>
<circle cx="440.10" cy="869.53" r="2.2" fill="#999999" stroke="#111" stroke-width="0.85"/>
<circle cx="452.60" cy="851.48" r="2.2" fill="#0f8a4c" stroke="#111" stroke-width="0.85"/>
<circle cx="454.95" cy="859.33" r="2.2" fill="#0f8a4c" stroke="#111" stroke-width="0.85"/>
<circle cx="450.35" cy="862.90" r="2.2" fill="#0f8a4c" stroke="#111" stroke-width="0.85"/>
<circle cx="454.95" cy="865.96" r="2.2" fill="#0f8a4c" stroke="#111" stroke-width="0.85"/>
<circle cx="452.60" cy="875.66" r="2.2" fill="#0f8a4c" stroke="#111" stroke-width="0.85"/>
<circle cx="465.00" cy="849.43" r="2.2" fill="#ff2a0a" stroke="#111" stroke-width="0.85"/>
<circle cx="465.00" cy="854.74" r="2.2" fill="#ff2a0a" stroke="#111" stroke-width="0.85"/>
<circle cx="465.00" cy="866.47" r="2.2" fill="#ff2a0a" stroke="#111" stroke-width="0.85"/>
<circle cx="462.96" cy="880.25" r="2.2" fill="#ff2a0a" stroke="#111" stroke-width="0.85"/>
<circle cx="467.25" cy="879.74" r="2.2" fill="#ff2a0a" stroke="#111" stroke-width="0.85"/>
<circle cx="475.36" cy="852.50" r="2.2" fill="#1e96f0" stroke="#111" stroke-width="0.85"/>
<circle cx="479.65" cy="855.96" r="2.2" fill="#1e96f0" stroke="#111" stroke-width="0.85"/>
<circle cx="475.36" cy="861.88" r="2.2" fill="#1e96f0" stroke="#111" stroke-width="0.85"/>
<circle cx="479.65" cy="863.92" r="2.2" fill="#1e96f0" stroke="#111" stroke-width="0.85"/>
<circle cx="477.40" cy="869.84" r="2.2" fill="#1e96f0" stroke="#111" stroke-width="0.85"/>
<text transform="translate(555.10,828.40) skewX(0.5)" font-size="9.5" text-anchor="middle" fill="#111" >B cell</text>
<line x1="528.40" y1="837.10" x2="528.40" y2="918.70" stroke="#222" stroke-width="1.1" />
<line x1="527.90" y1="918.20" x2="581.70" y2="918.20" stroke="#222" stroke-width="1.1" />
<line x1="524.40" y1="918.20" x2="528.40" y2="918.20" stroke="#222" stroke-width="1" />
<text transform="translate(522.60,921.80) skewX(0.5)" font-size="10" text-anchor="end" fill="#111" >0</text>
<line x1="524.40" y1="898.05" x2="528.40" y2="898.05" stroke="#222" stroke-width="1" />
<text transform="translate(522.60,901.65) skewX(0.5)" font-size="10" text-anchor="end" fill="#111" >30</text>
<line x1="524.40" y1="877.90" x2="528.40" y2="877.90" stroke="#222" stroke-width="1" />
<text transform="translate(522.60,881.50) skewX(0.5)" font-size="10" text-anchor="end" fill="#111" >60</text>
<line x1="524.40" y1="857.75" x2="528.40" y2="857.75" stroke="#222" stroke-width="1" />
<text transform="translate(522.60,861.35) skewX(0.5)" font-size="10" text-anchor="end" fill="#111" >90</text>
<line x1="524.40" y1="837.60" x2="528.40" y2="837.60" stroke="#222" stroke-width="1" />
<text transform="translate(522.60,841.20) skewX(0.5)" font-size="10" text-anchor="end" fill="#111" >120</text>
<line x1="536.30" y1="918.20" x2="536.30" y2="921.80" stroke="#222" stroke-width="1" />
<line x1="548.80" y1="918.20" x2="548.80" y2="921.80" stroke="#222" stroke-width="1" />
<line x1="561.20" y1="918.20" x2="561.20" y2="921.80" stroke="#222" stroke-width="1" />
<line x1="573.60" y1="918.20" x2="573.60" y2="921.80" stroke="#222" stroke-width="1" />
<text x="0" y="0" font-size="9.5" text-anchor="middle" fill="#111" transform="translate(504.90,877.90) rotate(-90)">Cell number (x10<tspan font-size="6" dy="-3.5">4</tspan><tspan dy="3.5">)</tspan></text>
<text x="0" y="0" font-size="9.8" text-anchor="end" fill="#111" transform="translate(542.90,930.60) rotate(-45)">Ctrl</text>
<text x="0" y="0" font-size="9.8" text-anchor="end" fill="#111" transform="translate(555.40,930.60) rotate(-45)">CD19 mCAR-T</text>
<text x="0" y="0" font-size="9.8" text-anchor="end" fill="#111" transform="translate(567.80,930.60) rotate(-45)">mC2 mCAR-T</text>
<text x="0" y="0" font-size="9.8" text-anchor="end" fill="#111" transform="translate(580.20,930.60) rotate(-45)">hC2 mCAR-T</text>
<line x1="532.30" y1="865.42" x2="540.30" y2="865.42" stroke="#111" stroke-width="1" />
<line x1="544.80" y1="918.00" x2="552.80" y2="918.00" stroke="#111" stroke-width="1" />
<line x1="557.20" y1="866.44" x2="565.20" y2="866.44" stroke="#111" stroke-width="1" />
<line x1="569.60" y1="856.83" x2="577.60" y2="856.83" stroke="#111" stroke-width="1" />
<circle cx="536.61" cy="854.27" r="2.2" fill="#999999" stroke="#111" stroke-width="0.85"/>
<circle cx="534.25" cy="865.42" r="2.2" fill="#999999" stroke="#111" stroke-width="0.85"/>
<circle cx="538.87" cy="863.99" r="2.2" fill="#999999" stroke="#111" stroke-width="0.85"/>
<circle cx="536.61" cy="875.14" r="2.2" fill="#999999" stroke="#111" stroke-width="0.85"/>
<circle cx="536.61" cy="883.63" r="2.2" fill="#999999" stroke="#111" stroke-width="0.85"/>
<circle cx="546.75" cy="918.00" r="2.2" fill="#0f8a4c" stroke="#111" stroke-width="0.85"/>
<circle cx="549.31" cy="918.00" r="2.2" fill="#0f8a4c" stroke="#111" stroke-width="0.85"/>
<circle cx="550.85" cy="918.00" r="2.2" fill="#0f8a4c" stroke="#111" stroke-width="0.85"/>
<circle cx="548.29" cy="918.20" r="2.2" fill="#0f8a4c" stroke="#111" stroke-width="0.85"/>
<circle cx="549.83" cy="918.20" r="2.2" fill="#0f8a4c" stroke="#111" stroke-width="0.85"/>
<circle cx="561.20" cy="857.03" r="2.2" fill="#ff2a0a" stroke="#111" stroke-width="0.85"/>
<circle cx="558.94" cy="866.44" r="2.2" fill="#ff2a0a" stroke="#111" stroke-width="0.85"/>
<circle cx="563.46" cy="866.44" r="2.2" fill="#ff2a0a" stroke="#111" stroke-width="0.85"/>
<circle cx="558.94" cy="874.42" r="2.2" fill="#ff2a0a" stroke="#111" stroke-width="0.85"/>
<circle cx="563.46" cy="873.09" r="2.2" fill="#ff2a0a" stroke="#111" stroke-width="0.85"/>
<circle cx="575.76" cy="853.15" r="2.2" fill="#1e96f0" stroke="#111" stroke-width="0.85"/>
<circle cx="571.34" cy="855.50" r="2.2" fill="#1e96f0" stroke="#111" stroke-width="0.85"/>
<circle cx="573.60" cy="856.83" r="2.2" fill="#1e96f0" stroke="#111" stroke-width="0.85"/>
<circle cx="575.76" cy="858.06" r="2.2" fill="#1e96f0" stroke="#111" stroke-width="0.85"/>
<circle cx="571.34" cy="861.64" r="2.2" fill="#1e96f0" stroke="#111" stroke-width="0.85"/>
<text transform="translate(532.30,840.90) scale(0.87,1) skewX(0.5)" font-size="8.8" fill="#111"><tspan font-style="italic">p</tspan><0.0001</text>
<line x1="536.40" y1="844.20" x2="550.60" y2="844.20" stroke="#555" stroke-width="1.3" />
<text transform="translate(653.00,828.40) skewX(0.5)" font-size="9.5" text-anchor="middle" fill="#111" >NK cell</text>
<line x1="624.50" y1="837.10" x2="624.50" y2="918.70" stroke="#222" stroke-width="1.1" />
<line x1="624.00" y1="918.20" x2="677.80" y2="918.20" stroke="#222" stroke-width="1.1" />
<line x1="620.50" y1="918.20" x2="624.50" y2="918.20" stroke="#222" stroke-width="1" />
<text transform="translate(619.40,921.80) skewX(0.5)" font-size="10" text-anchor="end" fill="#111" >0</text>
<line x1="620.50" y1="898.05" x2="624.50" y2="898.05" stroke="#222" stroke-width="1" />
<text transform="translate(619.40,901.65) skewX(0.5)" font-size="10" text-anchor="end" fill="#111" >5</text>
<line x1="620.50" y1="877.90" x2="624.50" y2="877.90" stroke="#222" stroke-width="1" />
<text transform="translate(619.40,881.50) skewX(0.5)" font-size="10" text-anchor="end" fill="#111" >10</text>
<line x1="620.50" y1="857.75" x2="624.50" y2="857.75" stroke="#222" stroke-width="1" />
<text transform="translate(619.40,861.35) skewX(0.5)" font-size="10" text-anchor="end" fill="#111" >15</text>
<line x1="620.50" y1="837.60" x2="624.50" y2="837.60" stroke="#222" stroke-width="1" />
<text transform="translate(619.40,841.20) skewX(0.5)" font-size="10" text-anchor="end" fill="#111" >20</text>
<line x1="632.40" y1="918.20" x2="632.40" y2="921.80" stroke="#222" stroke-width="1" />
<line x1="644.90" y1="918.20" x2="644.90" y2="921.80" stroke="#222" stroke-width="1" />
<line x1="657.30" y1="918.20" x2="657.30" y2="921.80" stroke="#222" stroke-width="1" />
<line x1="669.70" y1="918.20" x2="669.70" y2="921.80" stroke="#222" stroke-width="1" />
<text x="0" y="0" font-size="9.5" text-anchor="middle" fill="#111" transform="translate(605.30,877.90) rotate(-90)">Cell number (x10<tspan font-size="6" dy="-3.5">4</tspan><tspan dy="3.5">)</tspan></text>
<text x="0" y="0" font-size="9.8" text-anchor="end" fill="#111" transform="translate(639.00,930.60) rotate(-45)">Ctrl</text>
<text x="0" y="0" font-size="9.8" text-anchor="end" fill="#111" transform="translate(651.50,930.60) rotate(-45)">CD19 mCAR-T</text>
<text x="0" y="0" font-size="9.8" text-anchor="end" fill="#111" transform="translate(663.90,930.60) rotate(-45)">mC2 mCAR-T</text>
<text x="0" y="0" font-size="9.8" text-anchor="end" fill="#111" transform="translate(676.30,930.60) rotate(-45)">hC2 mCAR-T</text>
<line x1="628.40" y1="868.21" x2="636.40" y2="868.21" stroke="#111" stroke-width="1" />
<line x1="640.90" y1="867.19" x2="648.90" y2="867.19" stroke="#111" stroke-width="1" />
<line x1="653.30" y1="869.53" x2="661.30" y2="869.53" stroke="#111" stroke-width="1" />
<line x1="665.70" y1="871.57" x2="673.70" y2="871.57" stroke="#111" stroke-width="1" />
<circle cx="630.36" cy="860.86" r="2.2" fill="#999999" stroke="#111" stroke-width="0.85"/>
<circle cx="634.75" cy="864.74" r="2.2" fill="#999999" stroke="#111" stroke-width="0.85"/>
<circle cx="632.60" cy="868.21" r="2.2" fill="#999999" stroke="#111" stroke-width="0.85"/>
<circle cx="630.36" cy="870.55" r="2.2" fill="#999999" stroke="#111" stroke-width="0.85"/>
<circle cx="634.75" cy="870.55" r="2.2" fill="#999999" stroke="#111" stroke-width="0.85"/>
<circle cx="644.90" cy="851.17" r="2.2" fill="#0f8a4c" stroke="#111" stroke-width="0.85"/>
<circle cx="642.86" cy="866.47" r="2.2" fill="#0f8a4c" stroke="#111" stroke-width="0.85"/>
<circle cx="647.25" cy="867.19" r="2.2" fill="#0f8a4c" stroke="#111" stroke-width="0.85"/>
<circle cx="644.90" cy="868.00" r="2.2" fill="#0f8a4c" stroke="#111" stroke-width="0.85"/>
<circle cx="644.90" cy="874.84" r="2.2" fill="#0f8a4c" stroke="#111" stroke-width="0.85"/>
<circle cx="657.30" cy="858.82" r="2.2" fill="#ff2a0a" stroke="#111" stroke-width="0.85"/>
<circle cx="655.26" cy="869.53" r="2.2" fill="#ff2a0a" stroke="#111" stroke-width="0.85"/>
<circle cx="659.55" cy="870.25" r="2.2" fill="#ff2a0a" stroke="#111" stroke-width="0.85"/>
<circle cx="657.30" cy="869.53" r="2.2" fill="#ff2a0a" stroke="#111" stroke-width="0.85"/>
<circle cx="655.26" cy="873.92" r="2.2" fill="#ff2a0a" stroke="#111" stroke-width="0.85"/>
<circle cx="669.70" cy="853.72" r="2.2" fill="#1e96f0" stroke="#111" stroke-width="0.85"/>
<circle cx="667.45" cy="871.57" r="2.2" fill="#1e96f0" stroke="#111" stroke-width="0.85"/>
<circle cx="672.05" cy="871.57" r="2.2" fill="#1e96f0" stroke="#111" stroke-width="0.85"/>
<circle cx="669.70" cy="872.90" r="2.2" fill="#1e96f0" stroke="#111" stroke-width="0.85"/>
<circle cx="669.70" cy="884.02" r="2.2" fill="#1e96f0" stroke="#111" stroke-width="0.85"/>
</svg>
</body></html>
